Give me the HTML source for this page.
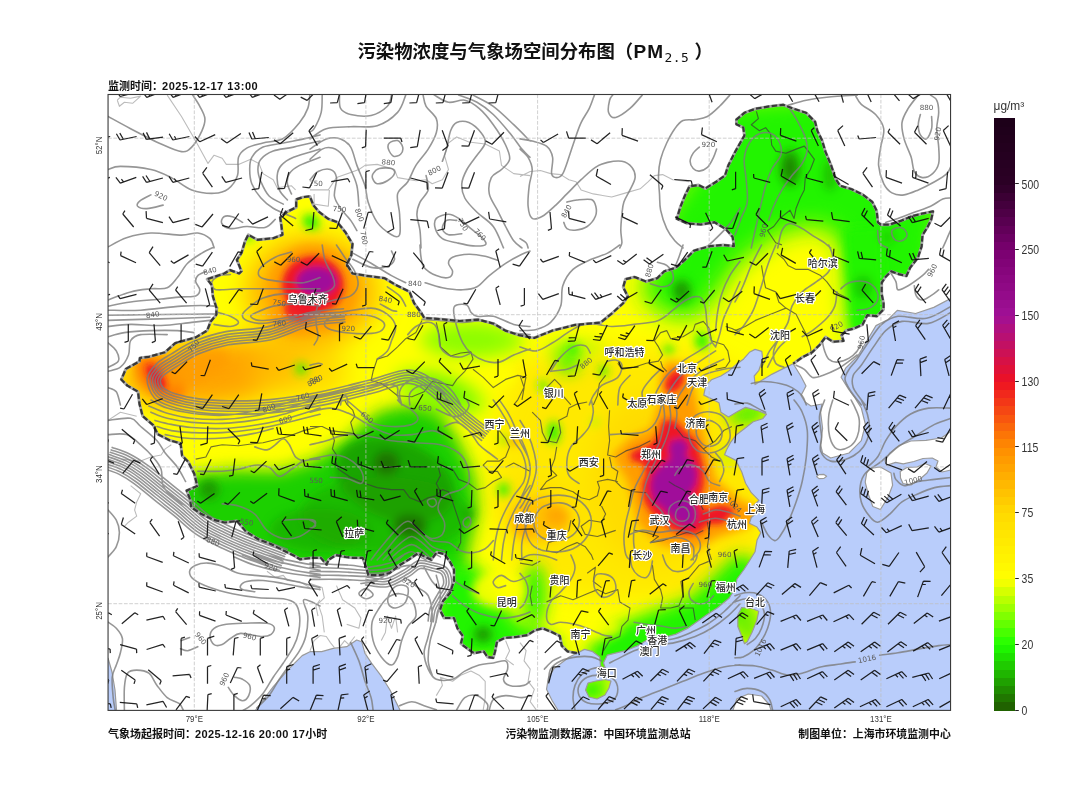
<!DOCTYPE html>
<html lang="zh-CN"><head><meta charset="utf-8"><title>污染物浓度与气象场空间分布图</title>
<style>
html,body{margin:0;padding:0;background:#fff}
body{width:1080px;height:789px;overflow:hidden}
svg{display:block}
.cj{font-family:"Liberation Sans","Noto Sans CJK SC",sans-serif}
.dv{font-family:"DejaVu Sans","Liberation Sans",sans-serif}
.b{font-weight:bold}
.city{font-family:"Liberation Sans","Noto Sans CJK SC",sans-serif;font-size:10px;font-weight:500;fill:#2a2a2a;stroke:#fff;stroke-width:2.4px;paint-order:stroke;stroke-linejoin:round;text-anchor:middle}
.cl{font-family:"DejaVu Sans","Liberation Sans",sans-serif;font-size:7.2px;fill:#5a5a5a;text-anchor:middle}
.tk{font-family:"Liberation Sans",sans-serif;font-size:9.9px;fill:#333}
.cb{font-family:"Liberation Sans",sans-serif;font-size:11.9px;fill:#333}
</style></head><body>
<svg width="1080" height="789" viewBox="0 0 1080 789">
<defs>
<clipPath id="frame"><rect x="108.05" y="94.5" width="842.5" height="615.9"/></clipPath>
<clipPath id="cn"><path d="M139.9,358 L149,356.8 L165,352.3 L175.3,343.1 L195.8,337.4 L207.2,330.6 L210.7,321.5 L216.4,314.6 L216.4,307.8 L212.9,296.4 L211.8,285 L207.2,279.2 L214,277 L224.3,273.5 L230,270.1 L239.2,273.5 L241.5,271.3 L236.9,259.9 L241.5,253 L244.9,241.6 L248.3,234.8 L257.4,239.8 L273.4,238.2 L282.5,234.8 L281.4,225.6 L280.2,217.6 L287.1,211.9 L296.2,207.4 L296.2,199.4 L303.1,197.1 L309.9,196.4 L313.3,205.1 L319,211.9 L328.2,218.8 L337.3,222.2 L345.6,232.5 L352.5,243.9 L351.3,255.3 L346.8,264.4 L352.5,273.5 L366.2,275.8 L384.4,278.1 L395.8,285 L409.5,291.8 L414.1,303.2 L420.9,312.3 L424.3,318 L441.5,319.2 L459.7,321 L478,319.6 L493.9,323.7 L505.3,330.6 L519,335.1 L530.4,337.4 L534.2,337.9 L552.5,330.6 L575.3,324.9 L600.4,322.6 L611.8,313.5 L623.2,303.2 L627.8,296.4 L623.2,287.2 L625.5,279.2 L634.6,277 L646,281.5 L657.4,278.1 L664.3,271.3 L675.7,267.8 L684.8,259.9 L693.9,250.7 L709.9,246.2 L723.6,245 L733.9,246.2 L732.7,237 L725.9,229.1 L714.5,222.2 L700.8,224.5 L687.1,223.4 L676.8,218.8 L680.2,207.4 L684.8,196 L689.4,186.5 L698.5,185 L705.3,188.5 L716.7,181.5 L725,175.6 L728.4,165.3 L735.3,151.6 L744.4,135.6 L743.3,127.6 L736.4,124.2 L736.4,119.7 L744.4,112.8 L755.8,108.7 L769.5,106.4 L783.2,104.8 L792.3,108.3 L806,112.8 L815.1,121.9 L817.4,131.1 L822,140.2 L825.4,151.6 L831.1,165.3 L835.7,179 L840.2,185.8 L851.6,189.2 L863.1,194.9 L872.2,201.8 L876.7,210.9 L877.9,222.3 L880.7,224.7 L889.3,224.7 L900.7,220.9 L912.1,216.1 L923.5,213.3 L933,211.4 L931.1,219.9 L927.3,227.5 L922.5,235.1 L921.6,246.5 L917.8,257.9 L910.2,267.5 L906.4,276 L898.8,274.1 L891.2,271.3 L885.5,277 L881.7,282.7 L881.7,294.1 L883.6,303.6 L883.5,309.5 L876.8,316.2 L867.3,315.2 L862.5,324.7 L854,328.5 L846.4,330.4 L841.6,335.2 L843.5,340.9 L833.1,341.8 L825.5,337.1 L819.8,344.7 L812.2,352.3 L802.7,357 L793.2,363.7 L783.7,368.4 L772.2,374.1 L762.7,379.8 L755.1,384.6 L754.2,376 L758.9,370.3 L762.7,358.9 L761.8,351.3 L755.1,349.4 L749.4,352.3 L743.7,358.9 L736.1,364.6 L728.5,371.3 L720.9,376 L711.4,379.8 L705.7,385.6 L703.8,395.1 L711.4,398.9 L719,402.7 L720.9,412.2 L728.5,416.9 L738,411.2 L745.6,407.4 L757,410.3 L766.5,414.1 L762.7,418.8 L753.2,421.7 L743.7,429.3 L736.1,435 L730.4,442.6 L726.5,450 L724.6,454.7 L736,460.4 L741.7,471.8 L745.6,483.2 L751.3,492.7 L758.9,500.3 L753.2,506 L760.8,509.8 L751.3,517.5 L749.4,523.2 L757,527 L760.8,532.7 L757,540.3 L755.1,551.7 L749.4,561 L744,569.5 L737,579 L735,588.5 L729.3,598 L717.9,607.5 L706.5,615.1 L697,621.8 L687.5,628.4 L676,634.1 L662.7,637.9 L647.5,639.8 L638,645.6 L626.6,650.3 L615.2,653.2 L607.3,655.1 L603.5,662.7 L605.4,668.4 L600.6,666.5 L599.7,657 L592.1,651.3 L584.5,649.4 L576.9,653.2 L567.4,651.3 L561.7,645.6 L559.8,636 L552.2,632.2 L542.7,628.4 L535.1,630.3 L527.5,635.1 L516,637 L504.6,637.9 L497,641.7 L495.1,651.3 L493.2,657.9 L487.5,657 L483.7,651.3 L474.2,653.2 L468.5,649.4 L460.9,643.7 L462.8,636 L457.5,628.4 L454,618 L444,618 L440,610 L443,601 L450,593 L454,581 L454,569.5 L450,561.8 L444.5,554.1 L436.9,552.2 L431.2,559.8 L423.6,556 L417.9,553.2 L408.4,559.8 L398.9,565.6 L389.4,573.2 L379.8,575.1 L368.4,575.1 L365.6,565.6 L362.7,557.9 L353.2,557.9 L345.6,557 L336.1,555.1 L328.5,559.8 L326.6,564.6 L320.9,557.9 L311.4,557.9 L300,559.3 L294.7,556 L282.5,549.9 L270.3,543.8 L258.2,539.2 L246,531.6 L236.9,521 L224.7,522.5 L212.5,519.5 L200.4,513.4 L191.3,507.3 L189.7,498.2 L186.7,490.6 L197.3,486 L194.3,473.8 L188.2,461.7 L182.1,455.6 L180.6,443.4 L170,440.4 L157.8,434.3 L153.2,425.2 L142.6,416 L139.5,403.9 L138,391.7 L127.4,385.6 L121.3,379.5 L125.9,368.9 L139.5,361.3ZM741.6,607.5 L752.1,608.5 L758.7,611.3 L756.8,620.8 L752.1,632.2 L747.3,641.7 L744.5,643.7 L741.6,636 L737.8,626.5 L737.8,615.1ZM588,683 L596,681 L605,679.5 L611,681 L609,688 L605,695 L597,699 L589,697 L585.5,690Z"/></clipPath>
<filter id="b3" x="-50%" y="-50%" width="200%" height="200%"><feGaussianBlur stdDeviation="3"/></filter>
<filter id="b5" x="-50%" y="-50%" width="200%" height="200%"><feGaussianBlur stdDeviation="5"/></filter>
<filter id="b8" x="-50%" y="-50%" width="200%" height="200%"><feGaussianBlur stdDeviation="8"/></filter>
<filter id="b12" x="-50%" y="-50%" width="200%" height="200%"><feGaussianBlur stdDeviation="12"/></filter>
</defs>
<rect width="1080" height="789" fill="#fff"/>

<g clip-path="url(#frame)">
<path d="M557.9,710 L552.2,700.7 L546.5,689.3 L548.4,677.9 L554.1,668.4 L561.7,662.7 L569.3,657 L576.9,653.2 L576.9,653.2 L584.5,649.4 L592.1,651.3 L599.7,657 L600.6,666.5 L605.4,668.4 L603.5,662.7 L607.3,655.1 L615.2,653.2 L626.6,650.3 L638,645.6 L647.5,639.8 L662.7,637.9 L676,634.1 L687.5,628.4 L697,621.8 L706.5,615.1 L717.9,607.5 L729.3,598 L735,588.5 L737,579 L744,569.5 L749.4,561 L755.1,551.7 L757,540.3 L760.8,532.7 L757,527 L749.4,523.2 L751.3,517.5 L760.8,509.8 L753.2,506 L758.9,500.3 L751.3,492.7 L745.6,483.2 L741.7,471.8 L736,460.4 L724.6,454.7 L726.5,450 L730.4,442.6 L736.1,435 L743.7,429.3 L753.2,421.7 L762.7,418.8 L766.5,414.1 L757,410.3 L745.6,407.4 L738,411.2 L728.5,416.9 L720.9,412.2 L719,402.7 L711.4,398.9 L703.8,395.1 L705.7,385.6 L711.4,379.8 L720.9,376 L728.5,371.3 L736.1,364.6 L743.7,358.9 L749.4,352.3 L755.1,349.4 L761.8,351.3 L762.7,358.9 L758.9,370.3 L754.2,376 L755.1,384.6 L762.7,379.8 L772.2,374.1 L783.7,368.4 L793.2,363.7 L800.8,376 L806,386 L801,395.5 L805,402 L811,406 L822,404 L820.6,412.2 L822.6,428.5 L820.6,444.8 L822.6,453 L830.7,458 L849,453 L861.3,440.7 L865.4,424.4 L861.3,408 L855,398 L848.7,389.5 L841.1,377.3 L845.6,368.2 L857.8,356 L866.9,340.8 L876,325.6 L888.2,319.5 L897.3,310.4 L915.6,313.5 L933.8,307.4 L951,298.3 L951,298.3 L951,710Z" fill="#b9cdfb"/>
<path d="M951,431.2 L941.3,438 L926,440.3 L910.9,441 L898.7,445.6 L889.6,453.2 L885,460.9 L886.5,465.4 L895.6,462.4 L903.2,463.9 L913.9,461.5 L923,458.5 L932.2,458 L938,461 L936,467 L942,472 L951,470ZM900.2,471.5 L907,467.5 L917,467 L925,463.5 L931,466 L927,473 L920,479 L911,485 L903,483.5 L900.5,478ZM869.8,468.5 L880.4,467 L891,473 L892.6,485.2 L888,497.4 L880.4,509.5 L872.8,506.5 L868.3,494.3 L865.2,482.2 L866.7,473ZM816.6,476.6 L819,474.6 L824,474.4 L826.6,476.2 L824,478.4 L819,478.6Z" fill="#fff"/>
<path d="M733,710 L736.9,698.8 L748.3,694 L761.6,696 L769.2,704.5 L771,710Z" fill="#fff"/>
<path d="M255.6,710 L273.3,686.7 L288.9,668.9 L302.2,655.6 L310,651.7 L321.7,651.7 L333.3,648.3 L346.7,646.7 L356.7,640 L361.7,641.7 L365,653.3 L371.7,663.3 L381.7,676.7 L390,690 L395,700 L400,710Z" fill="#b9cdfb"/>
<path d="M108,658 L112,672 L115,690 L116.5,710 L108,710Z" fill="#b9cdfb"/>
<g clip-path="url(#cn)">
<rect x="108.05" y="94.5" width="842.5" height="615.9" fill="#ffff00"/>
<g filter="url(#b12)">
<path d="M520,360 600,345 700,350 760,380 770,470 760,560 700,600 600,600 520,580 490,500 495,420Z" fill="#ffd400" opacity="0.5"/>
<ellipse cx="650" cy="480" rx="60" ry="85" fill="#ffd400" opacity="0.6"/>
<ellipse cx="540" cy="515" rx="40" ry="30" fill="#ffd400" opacity="0.6"/>
<ellipse cx="212" cy="373" rx="92" ry="33" fill="#ffa400" transform="rotate(-5 212 373)"/>
<ellipse cx="300" cy="372" rx="50" ry="26" fill="#ffc800" opacity="0.7"/>
<ellipse cx="312" cy="292" rx="66" ry="56" fill="#ffb000" opacity="0.95"/>
</g>
<g filter="url(#b8)">
<path d="M170,478 230,470 280,471 315,460 345,440 378,412 410,404 440,412 458,440 474,475 478,510 470,545 462,580 300,600 180,540Z" fill="#1fd000"/>
<ellipse cx="472" cy="340" rx="52" ry="19" fill="#96ff00" opacity="0.95"/>
<ellipse cx="440" cy="392" rx="48" ry="20" fill="#96ff00" transform="rotate(18 440 392)" opacity="0.9"/>
<ellipse cx="445" cy="390" rx="30" ry="10" fill="#50ee00" transform="rotate(25 445 390)" opacity="0.6"/>
<ellipse cx="470" cy="340" rx="34" ry="12" fill="#70f800" opacity="0.3"/>
</g>
<g filter="url(#b12)">
<path d="M640,285 665,255 660,215 700,160 720,100 850,90 890,180 945,200 935,285 895,300 890,340 852,340 848,300 846,262 838,236 815,226 780,234 740,262 714,298 697,318 672,318 650,305Z" fill="#22f400"/>
</g>
<g filter="url(#b8)">
<path d="M436,560 470,565 500,600 520,625 560,640 560,660 430,660Z" fill="#22f400"/>
<ellipse cx="468" cy="590" rx="20" ry="26" fill="#22f400"/>
<ellipse cx="535" cy="595" rx="12" ry="32" fill="#22f400" opacity="0.9"/>
<path d="M585,652 610,628 650,612 690,598 715,575 735,555 760,560 740,620 690,650 600,675Z" fill="#22f400"/>
<ellipse cx="592" cy="690" rx="16" ry="12" fill="#22f400"/>
<ellipse cx="748" cy="625" rx="14" ry="20" fill="#70f000"/>
<ellipse cx="748" cy="414" rx="20" ry="8" fill="#22f400" transform="rotate(-12 748 414)"/>
<ellipse cx="728" cy="456" rx="8" ry="6" fill="#96ff00"/>
<ellipse cx="568" cy="358" rx="13" ry="16" fill="#22f400" opacity="0.8"/>
<ellipse cx="575" cy="348" rx="30" ry="8" fill="#96ff00" opacity="0.6"/>
</g>
<g filter="url(#b5)">
<path d="M843,228 880,225 890,340 852,340 848,300 845,262Z" fill="#22f400"/>
<ellipse cx="498" cy="590" rx="26" ry="18" fill="#ffff00" opacity="0.9"/>
<ellipse cx="502" cy="376" rx="14" ry="10" fill="#ffff00" opacity="0.8"/>
<ellipse cx="600" cy="628" rx="22" ry="10" fill="#ffff00" opacity="0.7"/>
<ellipse cx="668.7" cy="350" rx="5" ry="5" fill="#22f400"/>
<ellipse cx="702" cy="341" rx="7" ry="9" fill="#22f400"/>
<ellipse cx="573" cy="349" rx="6" ry="6" fill="#22f400" opacity="0.8"/>
<ellipse cx="603.5" cy="371" rx="5" ry="6" fill="#22f400" opacity="0.8"/>
<ellipse cx="543" cy="385.6" rx="5" ry="5" fill="#22f400" opacity="0.8"/>
<ellipse cx="248" cy="235" rx="5" ry="6" fill="#22f400"/>
<ellipse cx="311" cy="222" rx="9" ry="7" fill="#22f400" transform="rotate(35 311 222)"/>
<ellipse cx="301" cy="369" rx="6" ry="6" fill="#22f400" opacity="0.8"/>
<ellipse cx="505" cy="440" rx="4" ry="5" fill="#22f400" opacity="0.7"/>
<ellipse cx="553.6" cy="432.6" rx="6" ry="11" fill="#22f400"/>
<ellipse cx="503.5" cy="489.6" rx="6" ry="7" fill="#22f400" opacity="0.9"/>
<ellipse cx="595" cy="422" rx="4" ry="4" fill="#96ff00" opacity="0.8"/>
<ellipse cx="385" cy="515" rx="85" ry="38" fill="#1cb400" opacity="0.75"/>
<ellipse cx="395" cy="480" rx="62" ry="40" fill="#1c9a00" transform="rotate(20 395 480)" opacity="0.8"/>
<ellipse cx="320" cy="530" rx="50" ry="22" fill="#1c9a00" opacity="0.45"/>
<ellipse cx="386.4" cy="463" rx="13" ry="12" fill="#1a7400"/>
<ellipse cx="409.8" cy="526.3" rx="17" ry="12" fill="#1a7400"/>
<ellipse cx="209" cy="489.6" rx="10" ry="10" fill="#1c9a00"/>
<ellipse cx="469" cy="514" rx="5" ry="5" fill="#1c9a00"/>
<ellipse cx="790" cy="168" rx="10" ry="18" fill="#1c9a00"/>
<ellipse cx="790" cy="168" rx="5" ry="8" fill="#1a7400" opacity="0.7"/>
<ellipse cx="681.7" cy="291" rx="9" ry="11" fill="#1c9a00"/>
<ellipse cx="483" cy="634.4" rx="9" ry="8" fill="#1c9a00"/>
<ellipse cx="830" cy="175" rx="7" ry="16" fill="#1c9a00" opacity="0.55"/>
<ellipse cx="863" cy="287" rx="10" ry="12" fill="#1c9a00" opacity="0.45"/>
<ellipse cx="887" cy="237" rx="8" ry="8" fill="#1c9a00" opacity="0.35"/>
<ellipse cx="160" cy="378" rx="30" ry="17" fill="#ff7a00" transform="rotate(40 160 378)" opacity="0.9"/>
<ellipse cx="195" cy="368" rx="36" ry="15" fill="#ff9c00" transform="rotate(-20 195 368)" opacity="0.8"/>
<ellipse cx="313" cy="289" rx="45" ry="44" fill="#ff9c00"/>
<ellipse cx="298" cy="318" rx="28" ry="18" fill="#ff9c00" opacity="0.9"/>
<ellipse cx="556.7" cy="516" rx="12" ry="10" fill="#ff9c00"/>
<ellipse cx="524" cy="526" rx="10" ry="12" fill="#ff9c00" opacity="0.85"/>
<ellipse cx="513.7" cy="440.7" rx="4" ry="4" fill="#ff7a00"/>
<ellipse cx="540" cy="520" rx="30" ry="22" fill="#ffb000" opacity="0.6"/>
<path d="M668,360 690,366 697,400 706,440 716,480 740,500 764,510 748,527 716,538 692,552 660,544 638,524 628,482 612,456 630,438 652,428 660,400 660,375Z" fill="#ff9c00"/>
</g>
<g filter="url(#b3)">
<ellipse cx="156" cy="377" rx="15" ry="6.5" fill="#ee1428" transform="rotate(55 156 377)"/>
<ellipse cx="313" cy="285" rx="31" ry="29" fill="#ee1428"/>
<ellipse cx="300" cy="309" rx="16" ry="13" fill="#ee1428" opacity="0.9"/>
<ellipse cx="674.5" cy="381.5" rx="8" ry="12" fill="#ee1428" transform="rotate(35 674.5 381.5)"/>
<path d="M662.6,420.4 674.8,420 684,430 696,440 700,453 704,469 704,485 700,498 704,510 722,505 736,510 722,524 708,524 699.3,533 687,535 674.8,531 662.6,523 652.4,514.1 644.3,501.9 642.2,485.6 646.3,471.3 642.2,463.1 632,461.1 630,453 638.2,448.9 650.4,444.8 658.5,434.6Z" fill="#ee1428"/>
<ellipse cx="316.5" cy="281" rx="20" ry="14" fill="#a0109a"/>
<path d="M670.7,440.7 683,438.7 689,446.9 685,455 693.2,463.1 697.2,473.3 695.2,485.6 689,493.7 695.2,505.9 697.2,518.1 691.1,526.3 680.9,524.3 670.7,516.1 662.6,508 654.4,501.9 650.4,487.6 652.4,475.4 660.6,465.2 670.7,459.1 668.7,448.9Z" fill="#a0109a"/>
</g>
</g>
<g fill="none" stroke="#9a9a9a" stroke-width="1.2" stroke-linejoin="round">
<path d="M576.9,653.2 L569.3,657 L561.7,662.7 L554.1,668.4 L548.4,677.9 L546.5,689.3 L552.2,700.7 L557.9,710"/><path d="M793.2,363.7 L800.8,376 L806,386 L801,395.5 L805,402 L811,406 L822,404 L820.6,412.2 L822.6,428.5 L820.6,444.8 L822.6,453 L830.7,458 L849,453 L861.3,440.7 L865.4,424.4 L861.3,408 L855,398 L848.7,389.5 L841.1,377.3 L845.6,368.2 L857.8,356 L866.9,340.8 L876,325.6 L888.2,319.5 L897.3,310.4 L915.6,313.5 L933.8,307.4 L951,298.3"/><path d="M951,431.2 L941.3,438 L926,440.3 L910.9,441 L898.7,445.6 L889.6,453.2 L885,460.9 L886.5,465.4 L895.6,462.4 L903.2,463.9 L913.9,461.5 L923,458.5 L932.2,458 L938,461 L936,467 L942,472 L951,470"/><path d="M900.2,471.5 L907,467.5 L917,467 L925,463.5 L931,466 L927,473 L920,479 L911,485 L903,483.5 L900.5,478ZM869.8,468.5 L880.4,467 L891,473 L892.6,485.2 L888,497.4 L880.4,509.5 L872.8,506.5 L868.3,494.3 L865.2,482.2 L866.7,473ZM816.6,476.6 L819,474.6 L824,474.4 L826.6,476.2 L824,478.4 L819,478.6Z"/><path d="M733,710 L736.9,698.8 L748.3,694 L761.6,696 L769.2,704.5 L771,710"/><path d="M255.6,710 L273.3,686.7 L288.9,668.9 L302.2,655.6 L310,651.7 L321.7,651.7 L333.3,648.3 L346.7,646.7 L356.7,640 L361.7,641.7 L365,653.3 L371.7,663.3 L381.7,676.7 L390,690 L395,700 L400,710"/><path d="M108,658 L112,672 L115,690 L116.5,710"/><path d="M741.6,607.5 L752.1,608.5 L758.7,611.3 L756.8,620.8 L752.1,632.2 L747.3,641.7 L744.5,643.7 L741.6,636 L737.8,626.5 L737.8,615.1Z"/><path d="M588,683 L596,681 L605,679.5 L611,681 L609,688 L605,695 L597,699 L589,697 L585.5,690Z"/>
<path d="M793.2,363.7 L783.7,368.4 L772.2,374.1 L762.7,379.8 L755.1,384.6 L754.2,376 L758.9,370.3 L762.7,358.9 L761.8,351.3 L755.1,349.4 L749.4,352.3 L743.7,358.9 L736.1,364.6 L728.5,371.3 L720.9,376 L711.4,379.8 L705.7,385.6 L703.8,395.1 L711.4,398.9 L719,402.7 L720.9,412.2 L728.5,416.9 L738,411.2 L745.6,407.4 L757,410.3 L766.5,414.1 L762.7,418.8 L753.2,421.7 L743.7,429.3 L736.1,435 L730.4,442.6 L726.5,450 L724.6,454.7 L736,460.4 L741.7,471.8 L745.6,483.2 L751.3,492.7 L758.9,500.3 L753.2,506 L760.8,509.8 L751.3,517.5 L749.4,523.2 L757,527 L760.8,532.7 L757,540.3 L755.1,551.7 L749.4,561 L744,569.5 L737,579 L735,588.5 L729.3,598 L717.9,607.5 L706.5,615.1 L697,621.8 L687.5,628.4 L676,634.1 L662.7,637.9 L647.5,639.8 L638,645.6 L626.6,650.3 L615.2,653.2 L607.3,655.1 L603.5,662.7 L605.4,668.4 L600.6,666.5 L599.7,657 L592.1,651.3 L584.5,649.4 L576.9,653.2"/>
</g>
<path d="M167.2,95.1 L181.5,116.5 L195.7,141 L208,163.4 L214.1,155.2 L222.2,158.3 L226.3,164.4 L238.5,164.4 L250.7,159.3 L258.9,163.4 L263,173.6 L273.2,179.7 L277.2,187.8 L291.5,185.8 L295.6,189.9M117.3,100.2 L120.4,97.2 L130.6,98.2 L140.7,96.1 L132.6,103.3 L124.4,102.3 L119.4,106.3 L117.3,100.2M310,189.9 L328.3,189.9 L336.5,177.6 L358.9,169.5 L365,165.4 L377.2,164.4 L394.5,169.5 L397.6,177.6 L415.9,180.7 L426.1,179.7 L432.2,183.7 L442.4,179.7 L448.5,169.5 L444.4,155.2 L448.5,143 L456.7,136.9 L468.9,142 L485.2,144 L499.4,151.1 L501.5,165.4 L513.7,173.6 L530,175.6M314.1,193.9 L314.1,204.1 L328.3,206.2 L329.4,189.9M520,176.6 L530.2,171.5 L540.4,170.5 L550.6,173.6 L560.7,174.6 L568.9,179.7 L576,181.7 L581.1,189.9 L593.3,193.9 L611.7,197 L625.9,192.9 L640.2,188.8 L648.3,181.7 L654.4,175.6 L662.6,174.6 L672.8,179.7 L689.1,181.7M108.1,420.4 L120.4,412.2 L136.7,416.3M122.4,459.1 L140.7,461.1 L150.9,457 L161.1,455 L165.2,448.9 L171.3,444.8M130.6,485.6 L140.7,493.7 L136.7,501.9 L134.6,510 L136.7,516.1 L128.5,522.2 L124.4,526.3M267,571.3 L275.2,577.4 L283.3,575.4 L287.4,580.5 L299.6,581.5 L309.8,587.6M320,599.8 L315.9,605.9 L318,616.1M436.3,695.6 L442.4,685.4 L440.4,677.2 L452.6,681.3 L460.7,675.2 L470.9,671.1 L479.1,675.2 L485.2,681.3 L485.2,697.6 L483.2,709.8M505.6,640.6 L509.6,650.7 L505.6,658.9 L513.7,665M310,583.5 L322.2,587.6 L324.3,597.8 L318.1,603.9 L322.2,616.1 L324.3,632.4M336.5,585.6 L342.6,599.8 L354.8,608 L360.9,618.1 L358.9,628.3 L346.7,624.3M310,650.7 L314.1,640.6 L320.2,635.5 L326.3,636.5 L330.4,642.6 L334.4,647.7 L338.5,648.7 L344.6,640.6 L348.7,644.6 L354.8,636.5M381.3,640.6 L385.4,632.4 L387.4,616.1 L391.5,628.3 L395.6,616.1 L397.6,632.4M520,642.6 L526.1,650.7 L524.1,660.9 L530.2,669.1 L528.1,681.3 L534.3,689.4 L530.2,701.7 L536.3,709.8" fill="none" stroke="#bcbcbc" stroke-width="1.1" stroke-linejoin="round"/>
<path d="M756.4,111.4 L758.4,118.6 L751.3,124.7 L759.4,130.8 L765.6,127.7 L770.6,133.8 L771.7,145 L775.7,151.1 L785.9,153.2 L796.1,149.1 L804.3,146.1 L808.3,151.1 L814.4,159.3 L810.4,169.5 L805.3,177.6 L804.3,189.9 L800.2,198 L796.1,208.2 L794.1,218.4 L790,210.2 L779.8,218.4 L773.7,226.5 L767.6,230.6 L775.7,242.8 L781.9,244.9M422,320.4 L415.9,332.6 L405.7,338.7 L397.6,346.9 L387.4,356 L377.2,359.1 L373.1,371.3 L371.1,380.5 L381.3,383.5 L387.4,387.6 L397.6,395.7 L411.9,396.8 L424.1,391.7 L432.2,381.5 L442.4,383.5 L452.6,385.6 L456.7,379.4 L464.8,371.3 L473,359.1 L470.9,351.9 L460.7,353 L450.6,356 L440.4,346.9 L439.4,336.7 L436.3,322.4M473,369.3 L483.2,377.4 L493.3,387.6 L505.6,379.4 L517.8,375.4 L525.9,377.4 L523.9,387.6 L517.8,399.8 L513.7,404.9M520,375.4 L524.1,387.6 L522,399.8M546.5,387.6 L554.6,379.4 L560.7,385.6 L562.8,395.7 L570.9,404.9M617.8,363.2 L621.9,369.3 L634.1,367.2 L646.3,363.2 L658.5,361.1 L662.6,355 L658.5,346.9 L654.4,340.7 L660.6,332.6 L666.7,330.6 L670.7,338.7 L683,336.7 L693.2,330.6 L695.2,324.4 L703.3,321.4 L709.4,328.5 L711.5,340.7 L723.7,344.8 L727.8,350.9 L729.8,361.1 L725.7,367.2 L715.6,369.3M725.7,326.5 L731.9,328.5 L740,332.6M605.6,375.4 L599.4,383.5 L597.4,395.7 L593.3,404.9M660.6,361.1 L662.6,367.2 L666.7,371.3M776.8,253.1 L783.9,259.3 L788,265.4 L796.1,269.4 L808.3,269.4 L820.6,275.6 L826.7,281.7 L832.8,289.8 L838.9,293.9 L847,298 L851.1,302M761.5,265.4 L763.5,277.6 L765.6,287.8 L775.7,291.9 L778.8,302 L785.9,308.1 L796.1,314.3 L800.2,322.4 L806.3,334.6 L810.4,346.9 L811.4,355M735,330.6 L745.2,326.5 L755.4,320.4 L765.6,316.3 L775.7,312.2 L785.9,308.1M195.7,459.1 L205.9,457 L211,446.9 L222.2,444.8 L238.5,445.8 L252.8,443.8 L263,442.8 L275.2,439.7 L287.4,436.7 L303.7,430.6 L320,426.5M310,426.5 L322.2,426.5 L330.4,430.6 L346.7,432.6 L353.8,433.6 L350.7,422.4 L354.8,416.3 L352.8,410.2 L346.7,404.1 L344.6,400M331.4,430.6 L334.4,440.7 L332.4,448.9 L336.5,455 L335.5,461.1 L338.5,469.3 L350.7,477.4 L365,483.5 L377.2,487.6 L391.5,489.6 L403.7,489.6 L409.8,497.8 L420,501.9 L428.2,497.8 L436.3,495.7 L442.4,489.6 L448.5,491.7 L452.6,501.9 L456.7,514.1 L460.7,526.3 L460.7,542.6 L456.7,550.7M438.3,467.2 L440.4,475.4 L436.3,483.5 L440.4,491.7M440.4,465.2 L452.6,469.3 L458.7,479.4 L468.9,483.5 L477,489.6 L485.2,487.6 L493.3,481.5 L501.5,477.4 L497.4,471.3 L489.3,471.3 L483.2,465.2 L487.2,461.1 L499.4,461.1 L505.6,457 L509.6,446.9 L505.6,438.7 L499.4,430.6M505.6,467.2 L513.7,463.1 L521.9,467.2 L530,471.3M532.2,412.2 L540.4,420.4 L542.4,432.6 L546.5,440.7 L556.7,442.8 L560.7,432.6 L558.7,420.4 L566.9,416.3 L568.9,408.1 L577,404.1 L587.2,402M609.6,410.2 L608.6,426.5 L609.6,440.7 L607.6,455 L615.7,457 L625.9,450.9 L638.2,446.9 L650.4,440.7M609.6,457 L611.7,467.2 L617.8,471.3 L615.7,481.5 L621.9,487.6 L634.1,491.7 L646.3,492.7M556.7,446.9 L554.6,459.1 L550.6,469.3 L556.7,475.4 L546.5,481.5 L540.4,489.6 L550.6,487.6 L560.7,487.6 L573,491.7 L581.1,497.8 L589.3,499.8 L597.4,495.7 L599.4,487.6 L597.4,481.5 L607.6,479.4 L617.8,481.5M601.5,505.9 L605.6,514.1 L601.5,522.2 L589.3,520.2 L581.1,526.3 L585.2,534.4 L597.4,536.5 L609.6,532.4 L615.7,530.4M570.9,520.2 L568.9,530.4 L560.7,538.5 L548.5,542.6 L546.5,550.7 L556.7,552.8 L566.9,546.7 L577,542.6 L585.2,546.7 L591.3,554.8 L593.3,559.9M634.1,530.4 L646.3,532.4 L658.5,536.5 L650.4,542.6M674.8,426.5 L683,436.7 L695.2,440.7 L703.3,448.9 L711.5,457 L719.6,461.1M703.3,448.9 L715.6,440.7 L723.7,430.6 L731.9,426.5M668.7,481.5 L674.8,485.6 L683,489.6 L691.1,495.7 L699.3,501.9 L703.3,510M650.4,542.6 L662.6,540.6 L674.8,536.5 L687,532.4 L695.2,534.4 L703.3,530.4M707.4,522.2 L709.4,534.4 L707.4,546.7 L711.5,559.9M546.5,601.9 L560.7,595.7 L573,599.8 L587.2,593.7 L597.4,589.6 L605.6,593.7 L617.8,589.6 L619.8,601.9 L630,608 L628,620.2 L621.9,626.3 L619.8,636.5 L609.6,640.6 L603.5,650.7M587.2,573.3 L595.4,567.2 L593.3,581.5 L601.5,587.6M652.4,565.2 L654.4,579.4 L660.6,589.6 L662.6,597.8 L660.6,608 L670.7,608 L678.9,605.9 L683,595.7 L680.9,581.5 L689.1,577.4 L699.3,565.2 L709.4,561.1M678.9,608 L693.2,608 L695.2,620.2M520,563.1 L532.2,565.2 L540.4,561.1M532.2,605.9 L530.2,595.7 L532.2,585.6" fill="none" stroke="#3a3a3a" stroke-opacity="0.7" stroke-width="1.15" stroke-linejoin="round"/>
<path d="M108.1,116.5C111.8,118.5 121.8,124.1 130.6,128.7C139.4,133.3 152.6,140.2 161.1,144C169.6,147.8 176.4,151.1 181.5,151.6C186.6,152.1 188.3,150.6 191.7,147.1C195.1,143.6 199.7,135.6 201.9,130.8C204.1,126.1 205.2,122.7 204.9,118.6C204.6,114.5 201.8,110.2 199.8,106.3C197.8,102.4 193.9,97.0 192.7,95.1M108.1,169.5C110.1,169.0 113.3,166.4 120.4,166.4C127.5,166.4 142.4,167.6 150.9,169.5C159.4,171.4 164.5,174.2 171.3,177.6C178.1,181.0 184.6,187.3 191.7,189.9C198.8,192.5 208.0,193.5 214.1,193.3C220.2,193.1 224.4,191.8 228.3,188.8C232.2,185.9 235.8,180.8 237.5,175.6C239.2,170.3 237.0,161.9 238.5,157.3C240.0,152.7 242.6,150.5 246.7,148.1C250.8,145.7 256.9,144.6 263,143C269.1,141.4 277.2,141.9 283.3,138.5C289.4,135.1 295.5,127.6 299.6,122.6C303.7,117.6 306.1,113.0 307.8,108.4C309.5,103.8 309.5,97.3 309.8,95.1M150.9,194.9C149.0,195.9 141.9,199.2 139.7,201.1C137.5,203.0 136.5,204.9 137.7,206.2C138.9,207.4 142.7,208.8 146.9,208.6C151.1,208.4 160.4,205.7 163.1,205.1M108.1,246.9C111.2,245.4 119.4,240.0 126.5,237.7C133.6,235.4 141.7,233.4 150.9,233C160.1,232.6 173.7,235.1 181.5,235.1C189.3,235.1 193.1,232.4 197.8,233C202.6,233.6 207.3,236.2 210,238.7C212.7,241.2 213.4,246.4 214.1,247.9M275.2,219.4C273.5,220.8 269.8,226.3 265,227.5C260.2,228.7 252.5,226.3 246.7,226.5C240.9,226.7 234.6,229.1 230.4,228.6C226.2,228.1 222.9,225.5 221.8,223.5C220.7,221.5 222.1,217.8 223.9,216.7C225.7,215.6 229.3,215.8 232.4,216.7C235.5,217.6 240.9,221.4 242.6,222.4M320,134.9C317.3,135.6 309.8,137.6 303.7,138.9C297.6,140.2 290.1,141.6 283.3,143C276.5,144.4 268.2,144.7 263,147.1C257.8,149.5 254.0,153.6 251.8,157.3C249.6,161.0 249.7,165.1 249.7,169.5C249.7,173.9 249.9,178.9 251.8,183.7C253.7,188.4 257.3,193.9 260.9,198C264.5,202.1 267.4,204.8 273.2,208.2C279.0,211.6 291.9,216.7 295.6,218.4M320,141C315.6,142.0 301.3,145.4 293.5,147.1C285.7,148.8 278.6,149.1 273.2,151.1C267.8,153.1 263.4,156.2 260.9,159.3C258.3,162.4 257.9,165.8 257.9,169.5C257.9,173.2 259.0,177.3 260.9,181.7C262.8,186.1 265.4,192.3 269.1,196C272.8,199.7 280.9,202.8 283.3,204.1M320,149.1C315.6,150.5 299.9,154.6 293.5,157.3C287.1,160.0 284.0,162.4 281.3,165.4C278.6,168.4 277.5,171.5 277.2,175.6C276.9,179.7 277.6,185.8 279.3,189.9C281.0,194.0 286.0,198.3 287.4,200M320,157.3C316.6,158.7 304.7,162.7 299.6,165.4C294.5,168.1 291.4,170.6 289.4,173.6C287.4,176.6 287.0,180.3 287.4,183.7C287.8,187.1 290.8,192.2 291.5,193.9M322.2,95.1C322.0,98.0 322.5,106.8 321.2,112.4C319.9,118.0 316.0,125.5 314.1,128.7C312.2,131.9 310.7,131.3 310,131.8M339.5,95.1C339.7,97.3 338.7,105.2 340.6,108.4C342.5,111.6 345.6,113.3 350.7,114.5C355.8,115.7 365.0,116.9 371.1,115.5C377.2,114.1 384.0,109.7 387.4,106.3C390.8,102.9 390.8,97.0 391.5,95.1M310,138.9C312.7,137.2 319.5,130.7 326.3,128.7C333.1,126.7 342.2,127.2 350.7,126.7C359.2,126.2 369.4,128.1 377.2,125.7C385.0,123.3 392.9,117.5 397.6,112.4C402.4,107.3 404.4,98.0 405.7,95.1M310,149.1C312.7,147.4 321.2,140.6 326.3,138.9C331.4,137.2 336.5,137.5 340.6,138.9C344.7,140.3 348.0,142.7 350.7,147.1C353.4,151.5 354.5,158.9 356.9,165.4C359.3,171.9 363.1,179.7 365,185.8C366.9,191.9 366.1,196.0 368.1,202.1C370.1,208.2 373.3,217.0 377.2,222.4C381.1,227.8 387.8,232.6 391.5,234.7C395.2,236.8 398.2,238.1 399.6,234.7C401.0,231.3 399.9,221.1 399.6,214.3C399.3,207.5 396.2,199.3 397.6,193.9C399.0,188.5 404.8,186.4 407.8,181.7C410.9,176.9 412.5,170.8 415.9,165.4C419.3,160.0 424.8,154.5 428.2,149.1C431.6,143.7 434.9,137.9 436.3,132.8C437.7,127.7 438.0,123.0 436.3,118.6C434.6,114.2 428.3,110.2 426.1,106.3C423.9,102.4 423.6,97.0 423.1,95.1M310,159.3C312.0,157.6 318.5,151.0 322.2,149.1C325.9,147.2 329.0,147.1 332.4,148.1C335.8,149.1 339.6,151.6 342.6,155.2C345.7,158.8 348.3,164.4 350.7,169.5C353.1,174.6 355.5,179.7 356.9,185.8C358.3,191.9 358.6,202.8 358.9,206.2M310,179.7C311.4,178.3 314.7,173.2 318.1,171.5C321.5,169.8 327.3,168.5 330.4,169.5C333.5,170.5 335.8,173.2 336.5,177.6C337.2,182.0 333.7,190.9 334.4,196C335.1,201.1 337.9,204.1 340.6,208.2C343.3,212.3 348.0,216.7 350.7,220.4C353.4,224.1 355.9,228.9 356.9,230.6M426.1,175.6C426.5,178.0 429.2,185.5 428.2,189.9C427.2,194.3 421.9,198.0 420,202.1C418.1,206.2 416.9,209.6 416.9,214.3C416.9,219.1 419.3,225.0 420,230.6C420.7,236.2 420.8,245.0 421,247.9M434.3,95.1C436.7,96.3 443.4,101.4 448.5,102.3C453.6,103.2 459.7,99.2 464.8,100.2C469.9,101.2 474.4,104.3 479.1,108.4C483.9,112.5 488.9,118.6 493.3,124.7C497.7,130.8 502.9,139.2 505.6,145C508.3,150.8 510.3,155.2 509.6,159.3C508.9,163.4 504.6,166.4 501.5,169.5C498.4,172.6 493.3,173.5 491.3,177.6C489.3,181.7 488.3,188.5 489.3,193.9C490.3,199.3 494.7,204.8 497.4,210.2C500.1,215.6 502.9,221.4 505.6,226.5C508.3,231.6 511.0,237.2 513.7,240.8C516.4,244.4 520.5,246.7 521.9,247.9M458.7,95.1C461.8,96.3 471.2,99.1 477,102.3C482.8,105.5 487.9,109.4 493.3,114.5C498.7,119.6 504.8,127.0 509.6,132.8C514.4,138.6 518.5,145.0 521.9,149.1C525.3,153.2 528.6,155.9 530,157.3M473,95.1C476.4,97.0 486.5,101.4 493.3,106.3C500.1,111.2 507.6,118.9 513.7,124.7C519.8,130.5 527.3,138.3 530,141M442.4,161.3C443.1,159.3 445.1,154.2 446.5,149.1C447.9,144.0 448.9,135.2 450.6,130.8C452.3,126.4 453.6,124.0 456.7,122.6C459.8,121.2 464.8,120.9 468.9,122.6C473.0,124.3 478.4,129.4 481.1,132.8C483.8,136.2 485.9,139.3 485.2,143C484.5,146.7 480.1,150.8 477,155.2C473.9,159.6 469.4,164.8 466.9,169.5C464.4,174.2 462.1,178.9 461.8,183.7C461.5,188.4 462.3,193.2 464.8,198C467.3,202.8 472.2,207.6 477,212.3C481.8,217.1 488.9,220.6 493.3,226.5C497.7,232.4 501.8,244.3 503.5,247.9M456.7,220.4C455.0,220.4 448.9,219.0 446.5,220.4C444.1,221.8 442.1,226.2 442.4,228.6C442.7,231.0 445.3,233.8 448.5,234.7C451.7,235.5 459.6,233.9 461.8,233.7M520,138.9C522.0,139.2 527.8,139.8 532.2,141C536.6,142.2 543.1,143.4 546.5,146.1C549.9,148.8 551.8,152.7 552.6,157.3C553.5,161.9 550.9,170.2 551.6,173.6C552.3,177.0 554.8,177.6 556.7,177.6C558.6,177.6 560.8,177.0 562.8,173.6C564.8,170.2 566.9,163.1 568.9,157.3C570.9,151.5 573.0,144.7 575,138.9C577.0,133.1 578.7,127.7 581.1,122.6C583.5,117.5 587.1,113.0 589.3,108.4C591.5,103.8 593.5,97.3 594.4,95.1M642.2,95.1C640.2,97.3 634.4,104.7 630,108.4C625.6,112.1 619.3,116.8 615.7,117.5C612.1,118.2 609.6,115.3 608.6,112.4C607.6,109.5 608.9,103.1 609.6,100.2C610.3,97.3 612.2,95.9 612.7,95.1M520,149.1C521.4,150.5 526.1,153.9 528.1,157.3C530.1,160.7 532.0,164.8 532.2,169.5C532.4,174.2 529.9,179.7 529.2,185.8C528.5,191.9 527.6,200.8 528.1,206.2C528.6,211.6 529.8,216.7 532.2,218.4C534.6,220.1 538.7,218.3 542.4,216.3C546.1,214.3 550.5,209.9 554.6,206.2C558.7,202.5 562.5,198.3 566.9,193.9C571.3,189.5 576.4,184.1 581.1,179.7C585.9,175.3 591.0,170.3 595.4,167.4C599.8,164.5 603.2,163.4 607.6,162.4C612.0,161.4 617.8,160.5 621.9,161.3C626.0,162.1 629.8,164.7 632,167.4C634.2,170.1 635.4,173.8 635.1,177.6C634.8,181.3 631.9,185.8 630,189.9C628.1,194.0 625.2,198.0 623.9,202.1C622.5,206.2 622.4,209.6 621.9,214.3C621.4,219.1 620.8,225.8 620.8,230.6C620.8,235.3 622.1,239.9 621.9,242.8C621.7,245.7 620.1,247.1 619.8,247.9M566.9,202.1C568.6,201.8 572.9,200.4 577,200C581.1,199.6 588.2,198.6 591.3,199.6C594.4,200.6 595.1,203.4 595.8,206.2C596.5,209.0 596.8,212.9 595.4,216.3C594.0,219.7 590.6,224.2 587.2,226.5C583.8,228.8 578.4,229.8 575,230.2C571.6,230.5 568.8,229.9 566.9,228.6C565.0,227.3 564.3,223.4 563.8,222.4M729.8,95.1C728.1,97.0 723.3,102.7 719.6,106.3C715.9,109.9 711.5,114.3 707.4,116.5C703.3,118.7 699.3,118.9 695.2,119.6C691.1,120.3 686.4,119.1 683,120.6C679.6,122.1 677.5,125.0 674.8,128.7C672.1,132.4 669.1,137.9 666.7,143C664.3,148.1 662.0,153.9 660.6,159.3C659.2,164.7 658.7,169.8 658.5,175.6C658.3,181.4 659.1,188.1 659.5,193.9C659.9,199.7 659.4,204.4 660.6,210.2C661.8,216.0 664.3,223.5 666.7,228.6C669.1,233.7 672.1,237.6 674.8,240.8C677.5,244.0 681.6,246.7 683,247.9M699.3,147.1C698.3,148.1 694.7,150.8 693.2,153.2C691.7,155.6 690.1,158.8 690.1,161.3C690.1,163.9 691.7,166.9 693.2,168.5C694.7,170.1 696.9,171.3 699.3,171.1C701.7,170.9 705.0,169.7 707.4,167.4C709.8,165.1 712.0,160.4 713.5,157.3C715.0,154.2 716.1,150.5 716.6,149.1M520,238.7C521.0,239.4 524.8,241.3 526.1,242.8C527.5,244.3 527.8,247.1 528.1,247.9M740,208.2C739.0,209.9 736.6,214.7 733.9,218.4C731.2,222.1 727.1,226.9 723.7,230.6C720.3,234.3 716.5,237.9 713.5,240.8C710.5,243.7 706.8,246.7 705.4,247.9M855.2,95.1C856.2,96.6 857.9,101.1 861.3,104.3C864.7,107.5 871.9,110.4 875.6,114.5C879.3,118.6 882.9,123.3 883.7,128.7C884.6,134.1 881.6,141.0 880.7,147.1C879.9,153.2 878.1,159.3 878.6,165.4C879.1,171.5 881.5,179.1 883.7,183.7C885.9,188.3 888.5,191.0 891.9,192.9C895.3,194.8 899.7,195.4 904.1,194.9C908.5,194.4 913.2,192.1 918.3,189.9C923.4,187.7 929.8,184.4 934.6,181.7C939.4,179.0 944.1,176.3 946.9,173.6C949.7,170.9 950.6,166.8 951.3,165.4M918.3,95.1C916.6,97.3 910.9,103.8 908.2,108.4C905.5,113.0 902.7,117.5 902,122.6C901.3,127.7 902.6,133.1 904.1,138.9C905.6,144.7 909.5,151.9 911.2,157.3C912.9,162.7 912.4,168.1 914.3,171.5C916.2,174.9 919.3,177.2 922.4,177.6C925.5,177.9 929.9,176.0 932.6,173.6C935.3,171.2 937.7,167.8 938.7,163.4C939.7,159.0 939.0,152.9 938.7,147.1C938.4,141.3 936.7,134.5 936.7,128.7C936.7,122.9 938.7,117.2 938.7,112.4C938.7,107.7 938.1,103.1 936.7,100.2C935.4,97.3 931.6,95.9 930.6,95.1M920.4,114.5C920.0,116.2 918.3,121.3 918.3,124.7C918.3,128.1 919.0,132.5 920.4,134.9C921.8,137.3 924.6,139.9 926.5,138.9C928.4,137.9 930.8,132.4 931.6,128.7C932.5,125.0 931.6,118.5 931.6,116.5M951.3,198C949.9,198.2 946.2,197.6 942.8,199C939.3,200.4 935.4,204.0 930.6,206.2C925.9,208.4 919.7,210.3 914.3,212.3C908.9,214.3 902.8,216.7 898,218.4C893.2,220.1 887.8,221.7 885.7,222.4M951.3,228.6C950.6,230.3 948.3,235.5 946.9,238.7C945.5,241.9 943.5,246.4 942.8,247.9M735,234.7C736.0,232.0 739.1,223.8 741.1,218.4C743.1,213.0 746.4,208.6 747.2,202.1C748.1,195.6 746.7,186.8 746.2,179.7C745.7,172.6 743.7,165.4 744.2,159.3C744.7,153.2 746.8,147.2 749.3,143C751.8,138.8 755.7,135.3 759.4,133.8C763.1,132.3 768.3,132.3 771.7,133.8C775.1,135.3 778.3,139.4 779.8,143C781.3,146.6 782.1,150.8 780.8,155.2C779.4,159.6 774.2,164.4 771.7,169.5C769.2,174.6 767.3,180.4 765.6,185.8C763.9,191.2 762.9,196.3 761.5,202.1C760.1,207.9 758.8,214.3 757.4,220.4C756.0,226.5 754.3,234.1 753.3,238.7C752.3,243.3 751.6,246.4 751.3,247.9M788,106.3C789.4,108.3 793.4,113.8 796.1,118.6C798.8,123.4 802.4,129.8 804.3,134.9C806.2,140.0 807.6,144.3 807.3,149.1C806.9,153.8 804.8,159.0 802.2,163.4C799.7,167.8 795.4,171.2 792,175.6C788.6,180.0 784.9,184.8 781.9,189.9C778.9,195.0 775.9,201.1 773.7,206.2C771.5,211.3 769.5,218.0 768.6,220.4M777.8,247.9C778.5,245.0 779.9,234.7 781.9,230.6C783.9,226.5 786.6,223.8 790,223.5C793.4,223.2 798.1,226.4 802.2,228.6C806.3,230.8 810.7,234.3 814.4,236.7C818.1,239.1 821.9,240.9 824.6,242.8C827.3,244.7 829.7,247.1 830.7,247.9M877.6,230.6C877.9,232.6 877.9,239.9 879.6,242.8C881.3,245.7 886.4,247.1 887.8,247.9M788,105.3C791.0,104.5 799.8,101.5 806.3,100.2C812.8,98.9 818.2,98.1 826.7,97.2C835.2,96.3 852.1,95.4 857.2,95.1M108.1,300C111.8,298.6 123.5,293.8 130.6,291.9C137.7,290.0 144.8,289.5 150.9,288.8C157.0,288.1 162.8,289.7 167.2,287.8C171.6,285.9 174.0,281.7 177.4,277.6C180.8,273.5 183.5,267.4 187.6,263.3C191.7,259.2 197.5,255.8 201.9,253.1C206.3,250.4 212.1,248.0 214.1,247M108.1,306.1C111.8,305.4 121.8,303.2 130.6,302C139.4,300.8 152.6,299.9 161.1,299C169.6,298.1 175.7,297.4 181.5,296.9C187.3,296.4 192.6,297.1 195.7,295.9C198.8,294.7 199.8,292.2 199.8,289.8C199.8,287.4 196.0,284.1 195.7,281.7C195.4,279.3 196.1,277.3 197.8,275.6C199.5,273.9 204.6,272.2 205.9,271.5M108.1,310.2C113.5,310.2 128.5,310.9 140.7,310.2C152.9,309.5 169.3,306.8 181.5,306.1C193.7,305.4 208.2,305.4 214.1,306.1C220.0,306.8 216.6,309.5 217.1,310.2M108.1,315.3C113.5,315.2 128.5,314.9 140.7,314.7C152.9,314.5 168.8,314.4 181.5,314.3C194.2,314.2 211.2,314.0 217.1,313.9M108.1,320.4C113.5,320.2 128.5,319.8 140.7,319.4C152.9,319.0 169.9,318.6 181.5,318.3C193.1,318.0 205.2,317.5 210,317.3M108.1,326.5C111.8,326.1 121.8,324.6 130.6,324.4C139.4,324.2 150.9,325.8 161.1,325.5C171.3,325.2 183.5,323.2 191.7,322.4C199.8,321.5 206.9,320.7 210,320.4M108.1,336.7C110.8,336.0 117.3,333.6 124.4,332.6C131.5,331.6 142.1,330.9 150.9,330.6C159.7,330.3 170.3,330.3 177.4,330.6C184.5,330.9 191.0,332.3 193.7,332.6M108.1,342.8C109.5,344.1 114.6,347.8 116.3,350.9C118.0,353.9 119.7,358.4 118.3,361.1C116.9,363.8 109.8,366.2 108.1,367.2M108.1,371.3C110.1,370.6 117.0,369.9 120.4,367.2C123.8,364.5 126.8,359.4 128.5,355C130.2,350.6 128.6,344.1 130.6,340.7C132.6,337.3 134.6,335.6 140.7,334.6C146.8,333.6 162.8,334.6 167.2,334.6M320,277.6C317.3,278.5 309.8,282.0 303.7,282.7C297.6,283.4 289.4,282.2 283.3,281.7C277.2,281.2 271.1,280.6 267,279.6C262.9,278.6 259.9,277.6 258.9,275.6C257.9,273.6 258.2,270.5 260.9,267.4C263.6,264.3 270.1,259.8 275.2,257.2C280.3,254.6 288.8,252.9 291.5,252.1M320,288.8C315.6,288.8 301.3,288.8 293.5,288.8C285.7,288.8 279.6,288.8 273.2,288.8C266.8,288.8 260.6,288.8 254.8,288.8C249.0,288.8 243.9,288.6 238.5,288.8C233.1,289.0 226.3,289.8 222.2,289.8C218.1,289.8 215.8,290.2 214.1,288.8C212.4,287.4 211.0,283.9 212,281.7C213.0,279.5 217.1,276.8 220.2,275.6C223.3,274.4 228.7,274.7 230.4,274.5M320,295.9C313.9,295.6 292.8,293.5 283.3,293.9C273.8,294.2 268.4,296.0 263,298C257.6,300.0 254.1,303.4 250.7,306.1C247.3,308.8 243.3,311.9 242.6,314.3C241.9,316.7 243.3,318.9 246.7,320.4C250.1,321.9 256.9,323.4 263,323.4C269.1,323.4 273.8,321.6 283.3,320.4C292.8,319.2 313.9,317.0 320,316.3M320,306.1C315.6,305.8 301.3,304.1 293.5,304.1C285.7,304.1 279.3,304.8 273.2,306.1C267.1,307.5 260.6,310.5 256.9,312.2C253.1,313.9 250.4,314.9 250.7,316.3C251.0,317.7 254.8,319.9 258.9,320.4C263.0,320.9 268.4,320.2 275.2,319.4C282.0,318.5 292.1,316.5 299.6,315.3C307.1,314.1 316.6,312.7 320,312.2M217.1,312.2C219.3,312.9 226.8,314.6 230.4,316.3C234.0,318.0 238.5,320.7 238.5,322.4C238.5,324.1 234.5,326.2 230.4,326.5C226.3,326.8 216.8,324.8 214.1,324.4M108.1,387.6C109.5,388.3 114.2,388.8 116.3,391.7C118.3,394.6 119.7,402.7 120.4,404.9M352.8,253.1C355.9,254.8 364.7,259.6 371.1,263.3C377.6,267.1 385.7,272.4 391.5,275.6C397.3,278.8 403.3,281.5 405.7,282.7M425.1,282.7C428.0,283.6 436.1,286.6 442.4,287.8C448.7,289.0 457.0,290.0 462.8,289.8C468.6,289.6 472.6,289.2 477,286.8C481.4,284.4 484.5,279.5 489.3,275.6C494.1,271.7 500.2,266.9 505.6,263.3C511.0,259.7 517.8,256.2 521.9,254.2C526.0,252.2 528.6,251.6 530,251.1M420,245C420.2,247.0 420.3,253.5 421,257.2C421.7,260.9 421.6,264.3 424.1,267.4C426.7,270.5 432.2,273.9 436.3,275.6C440.4,277.3 445.8,278.3 448.5,277.6C451.2,276.9 452.6,273.9 452.6,271.5C452.6,269.1 448.5,265.7 448.5,263.3C448.5,260.9 449.2,258.7 452.6,257.2C456.0,255.7 463.5,254.4 468.9,254.2C474.3,254.0 480.4,255.2 485.2,256.2C489.9,257.2 495.4,259.6 497.4,260.3M352.8,259.3C355.9,260.6 365.3,266.2 371.1,267.4C376.9,268.6 383.5,267.8 387.4,266.4C391.3,265.0 393.8,261.9 394.5,259.3C395.2,256.8 392.0,252.5 391.5,251.1M530,326.5C527.3,326.1 519.8,326.1 513.7,324.4C507.6,322.7 499.4,317.6 493.3,316.3C487.2,315.0 480.7,317.0 477,316.3C473.3,315.6 472.6,314.1 470.9,312.2C469.2,310.3 469.3,306.3 466.9,305.1C464.5,303.9 458.9,304.2 456.7,305.1C454.5,306.0 453.6,306.6 453.6,310.2C453.6,313.8 455.2,321.1 456.7,326.5C458.2,331.9 460.4,338.4 462.8,342.8C465.2,347.2 467.2,349.9 470.9,353C474.6,356.1 480.4,359.6 485.2,361.1C489.9,362.6 494.6,363.1 499.4,362.1C504.1,361.1 508.6,357.2 513.7,355C518.8,352.8 527.3,349.9 530,348.9M422,319.4C425.4,319.6 435.6,320.3 442.4,320.8C449.2,321.3 456.0,322.4 462.8,322.4C469.6,322.4 477.4,320.1 483.2,320.8C489.0,321.5 492.6,324.5 497.4,326.5C502.1,328.5 506.3,331.2 511.7,332.6C517.1,334.0 527.0,334.3 530,334.6M322.2,245C322.7,247.7 323.6,256.2 325.3,261.3C327.0,266.4 330.9,271.5 332.4,275.6C333.9,279.7 335.4,283.0 334.4,285.7C333.4,288.4 329.7,290.7 326.3,291.9C322.9,293.1 316.1,292.7 314.1,292.9M336.5,245C337.9,247.0 341.6,252.8 344.6,257.2C347.7,261.6 352.6,266.8 354.8,271.5C357.0,276.2 358.6,281.6 357.9,285.7C357.2,289.8 354.6,293.5 350.7,295.9C346.8,298.3 339.8,298.3 334.4,300C329.0,301.7 321.2,302.4 318.1,306.1C315.1,309.8 316.1,317.3 316.1,322.4C316.1,327.5 318.4,333.0 318.1,336.7C317.8,340.4 314.8,343.4 314.1,344.8M310,315.3C315.1,314.8 330.4,313.4 340.6,312.2C350.8,311.0 363.3,307.8 371.1,308.1C378.9,308.5 383.3,311.2 387.4,314.3C391.5,317.4 394.9,322.1 395.6,326.5C396.3,330.9 392.9,336.6 391.5,340.7C390.1,344.8 389.8,347.8 387.4,350.9C385.0,354.0 378.9,357.7 377.2,359.1M310,397.8C315.1,396.8 330.4,393.7 340.6,391.7C350.8,389.7 361.9,386.6 371.1,385.6C380.3,384.6 391.2,383.9 395.6,385.6C400.0,387.3 396.6,392.5 397.6,395.7C398.6,398.9 401.0,403.4 401.7,404.9M401.7,404.9C401.4,402.7 398.6,395.6 399.6,391.7C400.6,387.8 403.7,383.9 407.8,381.5C411.9,379.1 418.7,377.4 424.1,377.4C429.5,377.4 435.6,379.1 440.4,381.5C445.1,383.9 449.2,387.8 452.6,391.7C456.0,395.6 459.4,402.7 460.7,404.9M409.8,404.9C409.8,403.0 408.4,396.8 409.8,393.7C411.2,390.6 414.6,388.0 418,386.6C421.4,385.2 426.1,384.8 430.2,385.6C434.3,386.5 439.3,388.5 442.4,391.7C445.4,394.9 447.5,402.7 448.5,404.9M387.4,286.8C389.4,288.3 396.6,292.7 399.6,295.9C402.7,299.1 404.7,304.4 405.7,306.1M380.3,304.1C382.2,305.1 388.8,309.0 391.5,310.2C394.2,311.4 395.8,311.0 396.6,311.2M407.8,334.6C409.1,333.2 412.8,328.5 415.9,326.5C418.9,324.5 423.0,322.8 426.1,322.4C429.2,322.0 432.3,322.7 434.3,324.4C436.3,326.1 437.3,328.9 438.3,332.6C439.3,336.4 438.7,343.2 440.4,346.9C442.1,350.6 445.1,353.3 448.5,355C451.9,356.7 457.0,357.3 460.7,357C464.4,356.7 469.2,353.7 470.9,353M310,365.2C311.4,364.9 316.1,363.4 318.1,363.2C320.1,363.0 321.5,364.0 322.2,364.2M340.6,404.9C340.9,403.4 341.6,397.0 342.6,395.7C343.6,394.4 345.9,395.3 346.7,396.8C347.5,398.3 347.5,403.5 347.7,404.9M520,330.6C522.7,330.4 531.2,330.9 536.3,329.5C541.4,328.1 546.5,326.3 550.6,322.4C554.7,318.5 558.7,312.2 560.7,306.1C562.7,300.0 560.8,291.8 562.8,285.7C564.8,279.6 568.2,273.8 573,269.4C577.8,265.0 585.5,262.0 591.3,259.3C597.1,256.6 602.9,255.5 607.6,253.1C612.4,250.7 617.8,246.3 619.8,245M657.5,262.3C659.0,262.8 664.2,263.5 666.7,265.4C669.2,267.3 671.9,270.6 672.8,273.5C673.6,276.4 673.5,280.5 671.8,282.7C670.1,284.9 666.2,286.6 662.6,286.8C659.0,287.0 652.4,284.2 650.4,283.7M520,346.9C522.7,347.6 530.9,351.6 536.3,350.9C541.7,350.2 546.8,346.2 552.6,342.8C558.4,339.4 565.1,333.8 570.9,330.6C576.7,327.4 580.4,324.1 587.2,323.4C594.0,322.7 603.9,326.3 611.7,326.5C619.5,326.7 626.3,325.4 634.1,324.4C641.9,323.4 652.0,322.8 658.5,320.4C665.0,318.0 668.7,313.3 672.8,310.2C676.9,307.1 679.6,304.2 683,302C686.4,299.8 690.2,297.6 693.2,296.9C696.2,296.2 699.3,296.1 701.3,298C703.3,299.9 704.4,303.4 705.4,308.1C706.4,312.9 706.4,321.1 707.4,326.5C708.4,331.9 710.1,337.3 711.5,340.7C712.9,344.1 714.9,345.9 715.6,346.9M550.6,371.3C552.0,369.3 555.0,363.2 558.7,359.1C562.4,355.0 568.6,349.1 573,346.9C577.4,344.7 582.3,344.8 585.2,345.8C588.1,346.8 589.4,351.8 590.3,353M550.6,371.3C553.3,371.0 562.5,370.3 566.9,369.3C571.3,368.3 575.3,365.9 577,365.2M740,281.7C738.6,284.8 734.6,293.9 731.9,300C729.2,306.1 725.8,312.5 723.7,318.3C721.7,324.1 721.0,329.8 719.6,334.6C718.2,339.4 716.3,344.8 715.6,346.9M740,261.3C738.3,263.7 732.8,270.2 729.8,275.6C726.8,281.0 723.7,287.8 721.7,293.9C719.7,300.0 718.6,306.1 717.6,312.2C716.6,318.3 715.9,327.5 715.6,330.6M711.5,342.8C709.5,344.1 704.0,347.8 699.3,350.9C694.5,353.9 688.4,357.0 683,361.1C677.6,365.2 671.1,370.3 666.7,375.4C662.3,380.5 658.9,386.8 656.5,391.7C654.1,396.6 653.1,402.7 652.4,404.9M715.6,350.9C712.5,352.9 703.0,359.1 697.2,363.2C691.4,367.3 685.6,370.6 680.9,375.4C676.1,380.1 671.8,386.8 668.7,391.7C665.7,396.6 663.6,402.7 662.6,404.9M723.7,359.1C720.3,360.8 709.1,365.6 703.3,369.3C697.5,373.0 693.2,377.1 689.1,381.5C685.0,385.9 681.3,391.8 678.9,395.7C676.5,399.6 675.5,403.4 674.8,404.9M740,367.2C737.3,367.6 729.8,367.9 723.7,369.3C717.6,370.7 708.4,372.3 703.3,375.4C698.2,378.4 695.9,382.7 693.2,387.6C690.5,392.5 688.0,402.0 687,404.9M607.6,361.1C609.0,360.9 613.3,359.4 615.7,360.1C618.1,360.8 621.5,362.3 621.9,365.2C622.2,368.1 621.2,374.0 617.8,377.4C614.4,380.8 605.6,382.6 601.5,385.6C597.4,388.7 595.3,392.5 593.3,395.7C591.3,398.9 590.0,403.4 589.3,404.9M644.3,404.9C643.9,402.7 641.2,395.9 642.2,391.7C643.2,387.4 647.3,383.1 650.4,379.4C653.5,375.7 658.9,371.0 660.6,369.3M617.8,404.9C618.1,402.0 617.8,392.5 619.8,387.6C621.8,382.7 628.3,377.4 630,375.4M683,245C682.3,247.0 680.3,253.5 678.9,257.2C677.5,260.9 675.5,265.7 674.8,267.4M761.5,245C759.8,248.4 754.4,258.6 751.3,265.4C748.2,272.2 745.8,279.6 743.1,285.7C740.4,291.8 736.4,299.3 735,302M775.7,245C774.4,248.4 770.0,258.6 767.6,265.4C765.2,272.2 763.9,278.2 761.5,285.7C759.1,293.2 756.4,303.4 753.3,310.2C750.2,317.0 746.1,322.4 743.1,326.5C740.1,330.6 736.4,333.2 735,334.6M828.7,245C829.4,247.0 832.8,252.8 832.8,257.2C832.8,261.6 831.4,267.4 828.7,271.5C826.0,275.6 820.9,278.3 816.5,281.7C812.1,285.1 806.3,287.8 802.2,291.9C798.1,296.0 794.4,301.0 792,306.1C789.6,311.2 790.0,317.3 788,322.4C786.0,327.5 782.2,331.9 779.8,336.7C777.4,341.4 774.4,346.5 773.7,350.9C773.0,355.3 774.0,360.5 775.7,363.2C777.4,365.9 782.5,366.5 783.9,367.2M836.9,291.9C836.5,294.3 836.5,301.7 834.8,306.1C833.1,310.5 830.4,314.2 826.7,318.3C823.0,322.4 816.5,327.5 812.4,330.6C808.3,333.7 803.9,335.7 802.2,336.7M840.9,288.8C842.3,287.8 845.0,283.9 849.1,282.7C853.2,281.5 861.0,280.7 865.4,281.7C869.8,282.7 873.6,285.8 875.6,288.8C877.6,291.9 878.6,296.8 877.6,300C876.6,303.2 872.8,306.4 869.4,308.1C866.0,309.8 859.2,309.9 857.2,310.2M822.6,342.8C822.9,344.1 823.6,348.2 824.6,350.9C825.6,353.6 826.7,357.2 828.7,359.1C830.8,361.0 833.5,362.3 836.9,362.1C840.3,361.9 845.7,360.0 849.1,358.1C852.5,356.2 855.2,353.4 857.2,350.9C859.2,348.3 860.6,344.1 861.3,342.8M889.8,271.5C890.8,273.2 894.5,278.6 895.9,281.7C897.3,284.8 896.0,289.1 898,289.8C900.0,290.5 904.1,288.1 908.2,285.7C912.3,283.3 919.0,278.3 922.4,275.6C925.8,272.9 927.5,270.4 928.5,269.4M914.3,285.7C914.6,287.4 914.9,293.5 916.3,295.9C917.6,298.3 920.0,300.0 922.4,300C924.8,300.0 927.9,297.6 930.6,295.9C933.3,294.2 937.4,290.8 938.7,289.8M951.3,306.1C947.2,308.1 935.4,316.6 926.5,318.3C917.6,320.0 905.5,315.3 898,316.3C890.5,317.3 886.5,320.3 881.7,324.4C876.9,328.5 873.5,334.9 869.4,340.7C865.3,346.5 860.6,354.3 857.2,359.1C853.8,363.9 851.1,365.9 849.1,369.3C847.1,372.7 844.7,375.7 845,379.4C845.3,383.1 848.4,387.4 851.1,391.7C853.8,395.9 859.6,402.7 861.3,404.9M951.3,312.2C947.5,314.1 936.7,321.9 928.5,323.4C920.3,324.9 909.1,320.2 902,321.4C894.9,322.6 890.5,326.4 885.7,330.6C881.0,334.9 877.6,341.1 873.5,346.9C869.4,352.7 864.7,360.4 861.3,365.2C857.9,369.9 854.6,371.7 853.2,375.4C851.9,379.1 851.9,383.5 853.2,387.6C854.6,391.7 859.3,396.9 861.3,399.8C863.3,402.7 864.7,404.0 865.4,404.9M796.1,365.2C797.5,365.9 801.6,367.3 804.3,369.3C807.0,371.3 809.3,376.4 812.4,377.4C815.5,378.4 818.5,376.8 822.6,375.4C826.7,374.0 832.5,371.7 836.9,369.3C841.3,366.9 845.7,363.5 849.1,361.1C852.5,358.7 855.9,356.0 857.2,355M761.5,367.2C762.2,365.9 764.2,361.8 765.6,359.1C767.0,356.4 767.9,353.6 769.6,350.9C771.3,348.2 774.0,345.2 775.7,342.8C777.4,340.4 779.1,337.7 779.8,336.7M767.6,367.2C768.3,365.9 770.0,362.2 771.7,359.1C773.4,356.1 775.4,352.0 777.8,348.9C780.2,345.8 784.5,342.1 785.9,340.7M751.3,383.5C753.3,383.2 758.8,381.5 763.5,381.5C768.2,381.5 775.0,382.5 779.8,383.5C784.5,384.5 788.3,385.6 792,387.6C795.7,389.6 799.8,392.8 802.2,395.7C804.6,398.6 805.6,403.4 806.3,404.9M112.2,447.4C115.1,448.5 123.6,451.1 129.5,454C135.4,456.9 141.0,460.5 147.4,465.1C153.8,469.7 161.3,476.2 168.2,481.7C175.1,487.2 182.0,492.6 188.7,498.1C195.4,503.6 202.0,510.4 208.4,514.9C214.8,519.4 220.9,522.1 227.3,525.3C233.7,528.5 240.4,531.4 247,534.1C253.6,536.8 260.3,539.2 267,541.7C273.7,544.2 283.9,548.0 287.3,549.2M111.2,449.9C114.1,451.0 122.6,453.4 128.4,456.3C134.2,459.2 139.5,462.7 145.9,467.3C152.3,471.9 159.7,478.3 166.6,483.8C173.5,489.3 180.4,494.6 187.1,500.2C193.8,505.8 200.4,512.5 206.9,517.1C213.4,521.7 219.6,524.4 226.1,527.6C232.6,530.8 239.3,533.7 246,536.5C252.7,539.3 259.3,541.7 266,544.2C272.7,546.7 283.0,550.5 286.4,551.7M110.3,452.3C113.1,453.4 121.5,455.9 127.2,458.7C132.9,461.5 138.0,464.9 144.3,469.4C150.6,473.9 158.1,480.4 164.9,485.9C171.8,491.4 178.7,496.6 185.4,502.2C192.2,507.8 198.8,514.7 205.4,519.3C212.0,523.9 218.4,526.7 225,530C231.6,533.3 238.2,536.2 244.9,539C251.6,541.8 258.3,544.2 265.1,546.7C271.9,549.2 282.1,553.0 285.5,554.2M109.4,454.6C112.2,455.7 120.5,458.1 126.1,460.9C131.7,463.7 136.7,466.9 142.9,471.4C149.1,475.9 156.6,482.4 163.4,487.8C170.2,493.2 177.0,498.5 183.8,504.1C190.6,509.7 197.3,516.6 204,521.3C210.7,526.0 217.2,528.9 223.9,532.2C230.6,535.5 237.3,538.4 244,541.2C250.7,544.0 257.5,546.4 264.3,548.9C271.1,551.4 281.2,555.2 284.6,556.5M108.6,456.9C111.3,457.9 119.5,460.4 125,463.1C130.5,465.9 135.3,469.0 141.5,473.4C147.7,477.8 155.1,484.3 161.9,489.7C168.7,495.1 175.5,500.4 182.3,506C189.1,511.6 195.8,518.6 202.6,523.3C209.3,528.0 216.1,531.0 222.8,534.4C229.6,537.8 236.3,540.7 243.1,543.5C249.9,546.3 256.6,548.7 263.4,551.2C270.2,553.8 280.4,557.5 283.8,558.8M107.7,459.2C110.4,460.2 118.5,462.6 123.9,465.3C129.3,468.0 133.9,470.9 140,475.3C146.1,479.7 153.5,486.2 160.3,491.6C167.1,497.0 173.9,502.3 180.7,507.9C187.5,513.5 194.4,520.5 201.2,525.3C208.0,530.1 214.9,533.2 221.7,536.6C228.5,540.0 235.3,543.0 242.1,545.8C248.9,548.6 255.7,551.0 262.5,553.5C269.3,556.0 279.5,559.8 282.9,561.1M106.9,461.5C109.6,462.5 117.5,464.8 122.8,467.4C128.1,470.0 132.6,472.9 138.6,477.3C144.6,481.7 152.1,488.1 158.8,493.5C165.6,498.9 172.3,504.2 179.1,509.8C185.9,515.4 192.9,522.5 199.8,527.3C206.7,532.1 213.7,535.2 220.6,538.7C227.5,542.2 234.3,545.1 241.2,548C248.0,550.9 254.9,553.2 261.7,555.8C268.5,558.3 278.7,562.0 282.1,563.3M106,463.8C108.6,464.8 116.5,467.0 121.7,469.6C126.9,472.2 131.3,475.0 137.2,479.3C143.1,483.6 150.6,490.0 157.3,495.4C164.0,500.8 170.8,506.1 177.6,511.7C184.4,517.4 191.3,524.4 198.3,529.3C205.3,534.2 212.5,537.4 219.5,540.9C226.5,544.4 233.4,547.4 240.3,550.3C247.2,553.2 254.0,555.5 260.8,558.1C267.6,560.7 277.8,564.4 281.2,565.6M105.1,466.3C107.7,467.2 115.4,469.5 120.5,472C125.6,474.5 129.8,477.2 135.6,481.5C141.4,485.8 148.9,492.1 155.6,497.5C162.3,502.9 169.0,508.1 175.9,513.7C182.8,519.4 189.7,526.5 196.8,531.4C203.9,536.3 211.2,539.8 218.3,543.3C225.4,546.8 232.3,549.8 239.2,552.7C246.1,555.6 253.0,558.0 259.9,560.6C266.8,563.2 276.9,566.9 280.3,568.1M104.1,468.7C106.6,469.6 114.3,471.9 119.3,474.4C124.3,476.9 128.3,479.4 134.1,483.6C139.9,487.8 147.3,494.2 154,499.6C160.7,505.0 167.3,510.0 174.2,515.7C181.1,521.4 188.2,528.6 195.3,533.6C202.5,538.6 209.9,542.1 217.1,545.7C224.2,549.3 231.2,552.3 238.2,555.2C245.2,558.1 252.1,560.5 259,563.1C265.9,565.7 276.0,569.4 279.4,570.6M150.9,400C153.6,401.4 160.4,405.9 167.2,408.1C174.0,410.3 182.5,412.0 191.7,413.2C200.9,414.4 212.0,415.6 222.2,415.3C232.4,415.0 242.6,413.1 252.8,411.2C263.0,409.3 276.2,406.0 283.3,404.1C290.4,402.2 293.6,400.7 295.6,400M148.9,406.1C151.9,407.3 160.1,411.2 167.2,413.2C174.3,415.2 182.5,417.3 191.7,418.3C200.9,419.3 212.0,419.7 222.2,419.4C232.4,419.1 242.6,418.0 252.8,416.3C263.0,414.6 273.5,411.9 283.3,409.2C293.1,406.5 307.1,401.5 311.9,400M150.9,412.2C153.6,413.2 160.4,416.6 167.2,418.3C174.0,420.0 182.5,421.5 191.7,422.4C200.9,423.2 212.0,423.7 222.2,423.4C232.4,423.1 242.6,421.9 252.8,420.4C263.0,418.9 272.1,417.4 283.3,414.3C294.5,411.2 313.9,404.1 320,402M155,420.4C157.7,421.1 165.2,423.2 171.3,424.4C177.4,425.6 183.2,426.8 191.7,427.5C200.2,428.2 212.0,428.8 222.2,428.5C232.4,428.2 242.6,427.0 252.8,425.5C263.0,424.0 272.1,422.3 283.3,419.4C294.5,416.5 313.9,410.0 320,408.1M157,426.5C159.4,427.2 165.5,429.6 171.3,430.6C177.1,431.6 183.2,432.3 191.7,432.6C200.2,432.9 212.0,433.1 222.2,432.6C232.4,432.1 242.6,431.0 252.8,429.5C263.0,428.0 272.1,425.9 283.3,423.4C294.5,420.9 313.9,415.8 320,414.3M165.2,434.6C167.9,435.1 175.4,437.0 181.5,437.7C187.6,438.4 194.4,438.7 201.9,438.7C209.4,438.7 217.8,438.5 226.3,437.7C234.8,436.9 245.0,435.1 252.8,433.6C260.6,432.1 269.8,429.4 273.2,428.5M108.1,420.4C111.8,420.0 125.2,417.3 130.6,418.3C136.0,419.3 136.3,422.8 140.7,426.5C145.1,430.2 152.9,436.3 157,440.7C161.1,445.1 161.8,448.6 165.2,453C168.6,457.4 174.0,462.4 177.4,467.2C180.8,471.9 184.2,479.1 185.6,481.5M108.1,434.6C111.2,434.6 121.1,432.9 126.5,434.6C131.9,436.3 136.3,441.1 140.7,444.8C145.1,448.5 149.6,452.9 153,457C156.4,461.1 159.4,464.5 161.1,469.3C162.8,474.1 161.1,480.9 163.1,485.6C165.1,490.4 169.6,494.4 173.3,497.8C177.1,501.2 183.6,504.5 185.6,505.9M222.2,503.9C224.9,504.2 233.1,504.2 238.5,505.9C243.9,507.6 250.1,510.0 254.8,514.1C259.6,518.2 262.2,526.3 267,530.4C271.8,534.5 277.9,537.5 283.3,538.5C288.7,539.5 294.5,538.5 299.6,536.5C304.7,534.5 311.5,529.0 313.9,526.3C316.3,523.6 316.3,521.4 313.9,520.2C311.5,519.0 304.7,519.2 299.6,519.2C294.5,519.2 286.0,520.0 283.3,520.2M320,459.1C317.3,459.4 308.4,459.4 303.7,461.1C298.9,462.8 295.6,466.8 291.5,469.3C287.4,471.9 283.0,476.8 279.3,476.4C275.6,476.0 273.2,469.1 269.1,467.2C265.0,465.3 259.9,464.8 254.8,465.2C249.7,465.6 243.9,468.3 238.5,469.3C233.1,470.3 229.0,471.0 222.2,471.3C215.4,471.6 201.9,471.3 197.8,471.3M254.8,446.9C256.8,447.4 263.6,450.2 267,449.9C270.4,449.5 272.5,446.7 275.2,444.8C277.9,442.9 280.9,438.7 283.3,438.7C285.7,438.7 287.3,441.8 289.4,444.8C291.4,447.9 293.2,454.3 295.6,457C298.0,459.7 302.4,460.4 303.7,461.1M108.1,510C109.5,511.7 114.4,516.5 116.3,520.2C118.2,523.9 119.4,528.0 119.4,532.4C119.4,536.8 118.2,542.6 116.3,546.7C114.4,550.8 109.5,555.2 108.1,556.9M346.7,400C349.1,402.0 356.8,408.5 360.9,412.2C365.0,415.9 366.0,420.0 371.1,422.4C376.2,424.8 384.7,426.2 391.5,426.5C398.3,426.8 407.5,425.8 411.9,424.4C416.3,423.0 418.0,420.7 418,418.3C418.0,415.9 414.6,412.6 411.9,410.2C409.2,407.8 404.1,405.8 401.7,404.1C399.3,402.4 398.3,400.7 397.6,400M436.3,409.2C439.0,410.4 448.2,415.4 452.6,416.3C457.0,417.2 460.1,416.0 462.8,414.3C465.5,412.6 468.2,408.5 468.9,406.1C469.6,403.7 467.2,401.0 466.9,400M310,412.2C313.4,411.5 323.6,407.8 330.4,408.1C337.2,408.5 343.9,411.2 350.7,414.3C357.5,417.4 364.3,423.1 371.1,426.5C377.9,429.9 384.7,433.2 391.5,434.6C398.3,436.0 405.1,435.3 411.9,434.6C418.7,433.9 427.1,430.6 432.2,430.6C437.3,430.6 440.7,433.9 442.4,434.6M310,444.8C312.7,444.1 320.2,442.4 326.3,440.7C332.4,439.0 339.2,435.3 346.7,434.6C354.2,433.9 363.6,435.7 371.1,436.7C378.6,437.7 384.0,439.7 391.5,440.7C399.0,441.7 407.8,442.1 415.9,442.8C424.0,443.5 433.3,443.1 440.4,444.8C447.5,446.5 454.3,449.6 458.7,453C463.1,456.4 465.2,460.4 466.9,465.2C468.6,469.9 469.9,477.4 468.9,481.5C467.9,485.6 464.1,487.6 460.7,489.6C457.3,491.6 451.9,492.0 448.5,493.7C445.1,495.4 442.1,497.1 440.4,499.8C438.7,502.5 437.6,506.3 438.3,510C439.0,513.7 443.7,518.1 444.4,522.2C445.1,526.3 444.4,531.7 442.4,534.4C440.4,537.1 435.2,538.5 432.2,538.5C429.1,538.5 425.5,535.1 424.1,534.4M330.4,477.4C333.1,477.6 341.6,477.4 346.7,478.4C351.8,479.4 358.2,484.0 360.9,483.5C363.6,483.0 363.7,478.4 363,475.4C362.3,472.3 360.0,468.3 356.9,465.2C353.8,462.1 348.7,458.7 344.6,457C340.5,455.3 338.2,454.6 332.4,455C326.6,455.4 313.7,458.4 310,459.1M371.1,559.9C372.8,557.7 377.2,551.6 381.3,546.7C385.4,541.8 391.2,534.6 395.6,530.4C400.0,526.1 403.7,521.2 407.8,521.2C411.9,521.2 415.9,527.2 420,530.4C424.1,533.6 427.4,538.6 432.2,540.6C436.9,542.6 443.8,540.9 448.5,542.6C453.2,544.3 456.6,549.0 460.7,550.7C464.8,552.4 468.9,553.1 473,552.8C477.1,552.5 481.8,550.7 485.2,548.7C488.6,546.7 491.9,542.0 493.3,540.6M377.2,559.9C378.9,558.0 383.7,553.0 387.4,548.7C391.1,544.5 395.9,537.8 399.6,534.4C403.3,531.0 406.1,527.9 409.8,528.3C413.5,528.6 418.3,533.4 422,536.5C425.7,539.6 428.5,544.3 432.2,546.7C435.9,549.1 442.4,550.0 444.4,550.7M383.3,559.9C385.0,558.2 390.1,552.9 393.5,549.7C396.9,546.5 400.6,542.8 403.7,540.6C406.8,538.4 408.8,536.2 411.9,536.5C414.9,536.8 418.6,540.1 422,542.6C425.4,545.1 429.1,549.4 432.2,551.8C435.3,554.2 439.0,556.0 440.4,556.9M389.4,559.9C391.1,558.4 395.9,553.2 399.6,550.7C403.4,548.2 407.8,544.4 411.9,544.6C416.0,544.8 420.7,549.2 424.1,551.8C427.5,554.3 430.9,558.5 432.2,559.9M395.6,559.9C397.0,559.0 401.0,556.1 403.7,554.8C406.4,553.4 408.8,551.3 411.9,551.8C414.9,552.3 419.6,556.5 422,557.9C424.4,559.2 425.4,559.6 426.1,559.9M493.3,400C494.7,402.0 498.8,407.8 501.5,412.2C504.2,416.6 507.6,421.8 509.6,426.5C511.6,431.2 511.7,436.3 513.7,440.7C515.8,445.1 519.9,448.6 521.9,453C523.9,457.4 525.6,462.4 525.9,467.2C526.2,471.9 525.9,476.8 523.9,481.5C521.9,486.2 516.8,490.9 513.7,495.7C510.7,500.4 508.0,505.2 505.6,510C503.2,514.8 501.1,519.2 499.4,524.3C497.7,529.4 496.4,534.7 495.4,540.6C494.4,546.5 493.6,556.7 493.3,559.9M499.4,400C500.8,402.0 505.2,408.1 507.6,412.2C510.0,416.3 511.7,419.6 513.7,424.4C515.7,429.1 517.4,435.3 519.8,440.7C522.2,446.1 526.3,452.6 528,457C529.7,461.4 529.7,465.5 530,467.2M530,485.6C528.6,487.6 524.6,493.4 521.9,497.8C519.2,502.2 516.1,507.2 513.7,512C511.3,516.8 509.3,521.2 507.6,526.3C505.9,531.4 504.5,537.0 503.5,542.6C502.5,548.2 501.8,557.0 501.5,559.9M530,497.8C529.0,499.8 525.9,505.6 523.9,510C521.9,514.4 519.5,518.9 517.8,524.3C516.1,529.7 514.7,536.7 513.7,542.6C512.7,548.5 512.0,557.0 511.7,559.9M530,512C529.3,514.4 527.2,521.2 525.9,526.3C524.5,531.4 522.6,537.0 521.9,542.6C521.2,548.2 521.9,557.0 521.9,559.9M444.4,426.5C446.4,425.8 452.6,421.7 456.7,422.4C460.8,423.1 465.2,426.9 468.9,430.6C472.6,434.3 475.7,441.1 479.1,444.8C482.5,448.5 486.2,450.6 489.3,453C492.4,455.4 496.0,458.1 497.4,459.1M310,520.2C310.7,520.5 313.2,521.2 314.1,522.2C315.0,523.2 315.8,525.3 315.1,526.3C314.4,527.3 310.9,528.0 310,528.3M520,436.7C521.0,439.1 524.4,445.8 526.1,450.9C527.8,456.0 529.9,462.1 530.2,467.2C530.5,472.3 529.5,476.8 528.1,481.5C526.7,486.2 523.4,492.3 522,495.7C520.6,499.1 520.3,500.9 520,501.9M520,420.4C521.4,422.8 525.7,429.2 528.1,434.6C530.5,440.0 532.9,447.2 534.3,453C535.7,458.8 536.6,463.9 536.3,469.3C535.9,474.7 534.2,480.2 532.2,485.6C530.2,491.0 526.1,498.2 524.1,501.9C522.1,505.6 520.7,507.0 520,508M591.3,400C591.6,402.0 593.6,407.8 593.3,412.2C593.0,416.6 591.3,422.4 589.3,426.5C587.3,430.6 584.2,433.3 581.1,436.7C578.0,440.1 573.3,442.8 570.9,446.9C568.5,451.0 567.2,456.4 566.9,461.1C566.6,465.9 566.9,471.7 568.9,475.4C570.9,479.1 577.4,482.1 579.1,483.5M609.6,434.6C612.3,434.4 620.5,433.9 625.9,433.6C631.3,433.3 637.8,433.8 642.2,432.6C646.6,431.4 649.7,429.2 652.4,426.5C655.1,423.8 656.8,420.7 658.5,416.3C660.2,411.9 661.9,402.7 662.6,400M662.6,400C662.9,402.7 664.6,411.2 664.6,416.3C664.6,421.4 663.6,425.9 662.6,430.6C661.6,435.4 660.5,440.1 658.5,444.8C656.5,449.6 653.1,454.4 650.4,459.1C647.7,463.9 644.9,468.2 642.2,473.3C639.5,478.4 636.1,484.2 634.1,489.6C632.1,495.0 631.4,500.5 630,505.9C628.6,511.3 626.9,516.8 625.9,522.2C624.9,527.6 623.9,533.1 623.9,538.5C623.9,543.9 624.9,551.2 625.9,554.8C626.9,558.4 629.3,559.0 630,559.9M668.7,400C669.0,402.7 670.7,411.2 670.7,416.3C670.7,421.4 670.1,425.5 668.7,430.6C667.4,435.7 665.0,441.5 662.6,446.9C660.2,452.3 657.1,457.3 654.4,463.1C651.7,468.9 648.3,475.7 646.3,481.5C644.3,487.3 643.6,492.4 642.2,497.8C640.9,503.2 639.6,508.7 638.2,514.1C636.9,519.5 634.8,525.0 634.1,530.4C633.4,535.8 633.4,541.8 634.1,546.7C634.8,551.6 637.5,557.7 638.2,559.9M674.8,400C675.1,402.4 676.9,409.6 676.9,414.3C676.9,419.1 675.1,426.1 674.8,428.5M674.8,475.4C675.8,474.0 677.8,468.9 680.9,467.2C684.0,465.5 689.5,464.5 693.2,465.2C696.9,465.9 700.6,468.6 703.3,471.3C706.0,474.0 706.7,479.1 709.4,481.5C712.1,483.9 717.9,484.9 719.6,485.6M646.3,493.7C647.3,495.1 650.0,499.2 652.4,501.9C654.8,504.6 658.2,506.9 660.6,510C663.0,513.0 665.0,516.8 666.7,520.2C668.4,523.6 670.0,528.7 670.7,530.4M630,534.4C632.0,533.7 637.5,530.7 642.2,530.4C647.0,530.1 653.1,532.4 658.5,532.4C663.9,532.4 669.4,530.4 674.8,530.4C680.2,530.4 687.0,530.7 691.1,532.4C695.2,534.1 697.9,537.5 699.3,540.6C700.7,543.7 700.7,547.5 699.3,550.7C697.9,553.9 692.5,558.4 691.1,559.9M650.4,542.6C653.1,541.9 661.3,539.2 666.7,538.5C672.1,537.8 678.6,537.1 683,538.5C687.4,539.9 691.5,543.1 693.2,546.7C694.9,550.3 693.2,557.7 693.2,559.9M703.3,514.1C705.3,513.4 711.5,510.4 715.6,510C719.7,509.6 723.7,511.0 727.8,512C731.9,513.0 738.0,515.4 740,516.1M699.3,522.2C702.0,521.5 710.2,518.2 715.6,518.2C721.0,518.2 727.8,521.2 731.9,522.2C736.0,523.2 738.6,523.9 740,524.3M520,559.9C521.7,559.0 526.1,555.5 530.2,554.8C534.3,554.1 540.0,554.9 544.4,555.8C548.8,556.6 554.7,559.2 556.7,559.9M715.6,453C716.6,454.4 720.4,458.1 721.7,461.1C723.1,464.2 724.1,467.9 723.7,471.3C723.4,474.7 720.3,479.8 719.6,481.5M794.1,400C795.5,402.0 800.0,407.1 802.2,412.2C804.4,417.3 806.6,423.1 807.3,430.6C808.0,438.1 807.1,448.5 806.3,457C805.4,465.5 803.9,474.0 802.2,481.5C800.5,489.0 798.5,495.1 796.1,501.9C793.7,508.7 790.7,516.4 788,522.2C785.3,528.0 782.0,533.4 779.8,536.5C777.6,539.6 776.7,541.0 774.7,540.6C772.7,540.2 769.8,537.5 767.6,534.4C765.4,531.3 762.5,524.2 761.5,522.2M824.6,400C823.8,402.7 820.0,410.2 819.5,416.3C819.0,422.4 821.4,430.9 821.6,436.7C821.8,442.5 819.1,446.8 820.6,450.9C822.1,455.0 826.0,459.9 830.7,461.1C835.5,462.3 843.7,460.5 849.1,458.1C854.5,455.7 859.9,451.5 863.3,446.9C866.7,442.3 868.7,436.0 869.4,430.6C870.1,425.2 868.8,419.4 867.4,414.3C866.0,409.2 862.3,402.4 861.3,400M832.8,400C832.1,402.7 829.2,410.2 828.7,416.3C828.2,422.4 828.3,431.3 829.7,436.7C831.1,442.1 833.7,447.2 836.9,448.9C840.1,450.6 845.7,448.9 849.1,446.9C852.5,444.9 855.5,441.1 857.2,436.7C858.9,432.3 859.6,425.2 859.3,420.4C859.0,415.6 856.6,411.5 855.2,408.1C853.8,404.7 851.8,401.4 851.1,400M951.3,418.3C948.5,419.3 940.8,421.3 934.6,424.4C928.4,427.5 920.4,432.9 914.3,436.7C908.2,440.4 903.4,442.8 898,446.9C892.6,451.0 887.1,456.7 881.7,461.1C876.3,465.5 869.0,469.2 865.4,473.3C861.8,477.4 861.0,480.8 860.3,485.6C859.6,490.4 859.8,496.8 861.3,501.9C862.8,507.0 866.7,512.7 869.4,516.1C872.1,519.5 874.2,522.5 877.6,522.2C881.0,521.9 885.7,517.5 889.8,514.1C893.9,510.7 897.2,505.3 902,501.9C906.8,498.5 912.9,496.1 918.3,493.7C923.7,491.3 929.1,489.0 934.6,487.6C940.1,486.2 948.5,485.9 951.3,485.6M951.3,408.1C947.5,408.1 935.4,407.1 928.5,408.1C921.6,409.1 915.6,411.2 910.2,414.3C904.8,417.4 900.0,422.1 895.9,426.5C891.8,430.9 888.8,435.6 885.7,440.7C882.7,445.8 880.7,452.6 877.6,457C874.5,461.4 869.1,465.5 867.4,467.2M951.3,477.4C948.5,477.7 940.1,478.7 934.6,479.4C929.1,480.1 923.4,480.5 918.3,481.5C913.2,482.5 907.8,486.0 904.1,485.6C900.4,485.2 897.6,481.4 895.9,479.4C894.2,477.3 894.2,474.3 893.9,473.3M735,404.1C737.0,403.9 743.5,402.4 747.2,403.1C750.9,403.8 754.3,406.6 757.4,408.1C760.5,409.6 764.2,411.5 765.6,412.2M320,587.6C318.6,587.3 316.0,586.6 311.9,585.6C307.8,584.6 301.7,582.9 295.6,581.5C289.5,580.1 282.0,578.4 275.2,577.4C268.4,576.4 260.9,576.1 254.8,575.4C248.7,574.7 243.9,574.8 238.5,573.3C233.1,571.8 227.3,567.9 222.2,566.2C217.1,564.5 212.4,563.3 208,563.1C203.6,562.9 198.8,563.8 195.7,565.2C192.6,566.6 189.9,568.9 189.6,571.3C189.3,573.7 190.3,576.7 193.7,579.4C197.1,582.1 203.6,585.2 210,587.6C216.4,590.0 224.2,592.0 232.4,593.7C240.6,595.4 250.4,596.9 258.9,597.8C267.4,598.6 277.2,597.8 283.3,598.8C289.4,599.8 292.9,601.0 295.6,603.9C298.3,606.8 299.1,611.4 299.6,616.1C300.1,620.9 299.6,627.3 298.6,632.4C297.6,637.5 296.1,641.6 293.5,646.7C290.9,651.8 286.7,657.9 283.3,663C279.9,668.1 276.6,672.1 273.2,677.2C269.8,682.3 266.8,688.8 263,693.5C259.2,698.2 254.1,702.8 250.7,705.7C247.3,708.6 243.9,709.9 242.6,710.8M320,605.9C317.3,604.9 305.7,598.1 303.7,599.8C301.7,601.5 307.5,610.0 307.8,616.1C308.1,622.2 307.1,630.7 305.7,636.5C304.3,642.3 302.3,646.0 299.6,650.7C296.9,655.5 292.8,660.2 289.4,665C286.0,669.8 282.7,674.2 279.3,679.3C275.9,684.4 272.8,690.9 269.1,695.6C265.4,700.4 258.9,705.8 256.9,707.8M254.8,591.7C252.8,591.4 245.0,590.6 242.6,589.6C240.2,588.6 239.9,587.0 240.6,585.6C241.3,584.2 243.0,582.4 246.7,581.5C250.4,580.6 256.9,580.2 263,580.5C269.1,580.8 277.2,582.5 283.3,583.5C289.4,584.5 293.5,585.6 299.6,586.6C305.7,587.6 316.6,589.1 320,589.6M180.5,648.7C181.7,649.0 184.7,651.0 187.6,650.7C190.5,650.4 196.1,647.4 197.8,646.7M181.5,640.6 L189.6,637.5M228.3,687.4C229.3,688.8 232.0,693.4 234.4,695.6C236.8,697.8 240.2,700.7 242.6,700.7C245.0,700.7 247.5,698.2 248.7,695.6C249.9,693.0 250.7,688.1 249.7,685.4C248.7,682.7 245.1,680.7 242.6,679.3C240.1,677.9 235.8,677.6 234.4,677.2M124.4,710.8C124.4,706.9 123.9,693.7 124.4,687.4C124.9,681.1 125.5,676.1 127.5,673.2C129.6,670.3 133.1,670.1 136.7,670.1C140.3,670.1 145.5,670.7 148.9,673.2C152.3,675.8 153.9,681.3 157,685.4C160.1,689.5 163.5,694.5 167.2,697.6C170.9,700.7 176.7,701.5 179.4,703.7C182.1,705.9 182.8,709.6 183.5,710.8M108.1,622.2C109.5,623.2 113.9,625.6 116.3,628.3C118.7,631.0 121.7,634.4 122.4,638.5C123.1,642.6 121.4,648.4 120.4,652.8C119.4,657.2 117.7,660.9 116.3,665C114.9,669.1 112.7,671.8 112.2,677.2C111.7,682.6 112.7,692.0 113.2,697.6C113.7,703.2 115.0,708.6 115.3,710.8M234.4,557C237.8,558.4 246.7,562.7 254.8,565.2C262.9,567.8 272.4,570.3 283.3,572.3C294.2,574.3 313.9,576.5 320,577.4M242.6,555C246.0,556.4 254.5,560.6 263,563.1C271.5,565.6 284.0,568.4 293.5,570.3C303.0,572.2 315.6,573.7 320,574.4M254.8,555C258.2,556.0 267.1,559.1 275.2,561.1C283.3,563.1 296.2,565.7 303.7,567.2C311.2,568.7 317.3,569.8 320,570.3M267,555C270.4,555.9 278.6,558.2 287.4,560.1C296.2,562.0 314.6,565.2 320,566.2M310,563.1C313.4,563.3 323.6,563.9 330.4,564.2C337.2,564.6 344.6,564.7 350.7,565.2C356.8,565.7 361.9,567.2 367,567.2C372.1,567.2 376.5,566.2 381.3,565.2C386.1,564.2 391.9,562.8 395.6,561.1C399.3,559.4 402.4,556.0 403.7,555M310,567.2C314.8,567.4 329.0,567.7 338.5,568.2C348.0,568.7 359.5,570.1 367,570.3C374.5,570.5 378.2,570.1 383.3,569.3C388.4,568.4 393.2,566.9 397.6,565.2C402.0,563.5 407.8,560.1 409.8,559.1M310,571.3C314.8,571.4 329.0,571.4 338.5,571.7C348.0,572.0 359.2,573.2 367,573.3C374.8,573.4 380.0,573.1 385.4,572.3C390.8,571.4 397.2,568.9 399.6,568.2M310,575.4C314.8,575.4 329.0,575.2 338.5,575.4C348.0,575.6 358.9,576.4 367,576.4C375.1,576.4 384.0,575.6 387.4,575.4M310,579.4C315.1,579.4 331.1,579.2 340.6,579.4C350.1,579.6 360.2,580.7 367,580.5C373.8,580.3 378.9,578.8 381.3,578.4M407.8,579.4C409.5,580.8 414.6,584.9 418,587.6C421.4,590.3 425.8,591.0 428.2,595.7C430.6,600.5 432.2,609.3 432.2,616.1C432.2,622.9 429.5,630.4 428.2,636.5C426.9,642.6 424.1,647.4 424.1,652.8C424.1,658.2 426.2,664.7 428.2,669.1C430.2,673.5 432.2,677.6 436.3,679.3C440.4,681.0 447.9,680.7 452.6,679.3C457.4,677.9 460.4,673.5 464.8,671.1C469.2,668.7 474.4,666.4 479.1,665C483.9,663.6 488.9,663.7 493.3,663C497.7,662.3 503.2,659.9 505.6,660.9C508.0,661.9 508.0,666.0 507.6,669.1C507.2,672.2 503.2,676.6 503.5,679.3C503.8,682.0 506.2,684.4 509.6,685.4C513.0,686.4 520.5,686.1 523.9,685.4C527.3,684.7 529.0,682.0 530,681.3M360.9,583.5C362.9,583.2 369.0,582.9 373.1,581.5C377.2,580.1 381.0,577.8 385.4,575.4C389.8,573.0 395.2,568.9 399.6,567.2C404.0,565.5 409.8,565.5 411.9,565.2M436.3,575.4C437.0,578.8 440.4,588.2 440.4,595.7C440.4,603.2 438.0,612.7 436.3,620.2C434.6,627.7 431.6,633.8 430.2,640.6C428.8,647.4 427.9,655.1 428.2,660.9C428.5,666.7 431.5,672.8 432.2,675.2M424.1,567.2C425.5,569.6 429.5,577.8 432.2,581.5C434.9,585.2 439.0,588.2 440.4,589.6M399.6,705.7C401.7,705.0 407.8,701.7 411.9,701.7C416.0,701.7 420.0,704.4 424.1,705.7C428.2,707.1 434.3,709.1 436.3,709.8M456.7,709.8C458.1,707.8 461.4,700.0 464.8,697.6C468.2,695.2 473.3,694.6 477,695.6C480.7,696.6 485.5,701.3 487.2,703.7C488.9,706.1 487.2,708.8 487.2,709.8M489.3,709.8C490.0,708.1 490.6,702.0 493.3,699.6C496.0,697.2 500.8,695.9 505.6,695.6C510.4,695.3 517.8,697.6 521.9,697.6C526.0,697.6 528.6,695.9 530,695.6M452.6,579.4C454.6,580.8 460.4,585.2 464.8,587.6C469.2,590.0 476.7,592.7 479.1,593.7M452.6,595.7C454.6,597.4 460.1,602.8 464.8,605.9C469.6,609.0 475.0,612.1 481.1,614.1C487.2,616.1 495.4,617.8 501.5,618.1C507.6,618.4 513.0,617.1 517.8,616.1C522.5,615.1 528.0,612.7 530,612M530,575.4C527.3,576.4 518.5,581.5 513.7,581.5C509.0,581.5 504.9,575.4 501.5,575.4C498.1,575.4 494.0,579.5 493.3,581.5C492.6,583.5 495.3,586.9 497.4,587.6C499.4,588.3 504.2,585.9 505.6,585.6M350.7,642.6C352.1,645.6 356.5,654.5 358.9,660.9C361.3,667.3 363.0,675.2 365,681.3C367.0,687.4 369.8,692.7 371.1,697.6C372.5,702.5 372.8,708.6 373.1,710.8M570.9,555C571.6,557.0 575.0,563.1 575,567.2C575.0,571.3 573.3,575.3 570.9,579.4C568.5,583.5 564.1,588.0 560.7,591.7C557.3,595.5 553.0,597.8 550.6,601.9C548.2,606.0 546.5,612.4 546.5,616.1C546.5,619.8 548.2,623.3 550.6,624.3C553.0,625.3 556.6,622.2 560.7,622.2C564.8,622.2 570.6,623.3 575,624.3C579.4,625.3 582.8,626.6 587.2,628.3C591.6,630.0 597.4,633.0 601.5,634.4C605.6,635.8 610.0,636.1 611.7,636.5M630,555C630.3,557.0 630.6,563.8 632,567.2C633.4,570.6 635.8,573.7 638.2,575.4C640.6,577.1 644.3,578.1 646.3,577.4C648.3,576.7 649.4,574.0 650.4,571.3C651.4,568.6 652.1,562.8 652.4,561.1M662.6,555C663.3,556.7 664.7,562.5 666.7,565.2C668.7,567.9 671.4,570.6 674.8,571.3C678.2,572.0 683.6,571.0 687,569.3C690.4,567.6 693.5,563.5 695.2,561.1C696.9,558.7 696.9,556.0 697.2,555M693.2,583.5C692.5,584.9 689.5,589.0 689.1,591.7C688.8,594.4 689.4,597.8 691.1,599.8C692.8,601.8 696.6,603.5 699.3,603.9C702.0,604.2 705.0,603.3 707.4,601.9C709.8,600.5 712.5,596.7 713.5,595.7M740,595.7C737.3,598.4 729.1,607.2 723.7,612C718.3,616.8 712.8,620.9 707.4,624.3C702.0,627.7 696.5,630.0 691.1,632.4C685.7,634.8 680.2,637.1 674.8,638.5C669.4,639.9 661.2,640.2 658.5,640.6M740,603.9C738.0,605.9 732.5,612.0 727.8,616.1C723.0,620.2 716.9,624.9 711.5,628.3C706.1,631.7 701.3,634.1 695.2,636.5C689.1,638.9 681.9,641.1 674.8,642.6C667.7,644.1 659.2,644.2 652.4,645.6C645.6,647.0 639.9,648.5 634.1,650.7C628.3,652.9 621.9,656.9 617.8,658.9C613.7,660.9 611.0,662.3 609.6,663M740,665C737.3,665.3 729.8,665.6 723.7,667C717.6,668.4 710.1,670.8 703.3,673.2C696.5,675.6 689.8,678.6 683,681.3C676.2,684.0 669.4,686.7 662.6,689.4C655.8,692.1 648.3,694.9 642.2,697.6C636.1,700.3 630.3,703.7 625.9,705.7C621.5,707.7 617.4,709.1 615.7,709.8M575,709.8C574.7,707.8 573.0,701.7 573,697.6C573.0,693.5 573.6,689.1 575,685.4C576.4,681.7 578.4,677.9 581.1,675.2C583.8,672.5 587.9,670.5 591.3,669.1C594.7,667.7 599.8,667.4 601.5,667M548.5,681.3C548.9,679.3 548.6,672.5 550.6,669.1C552.6,665.7 556.3,662.9 560.7,660.9C565.1,658.9 571.9,657.6 577,656.9C582.1,656.2 587.2,656.2 591.3,656.9C595.4,657.6 599.8,660.2 601.5,660.9M544.4,669.1C545.8,667.7 549.9,662.9 552.6,660.9C555.3,658.9 559.4,657.6 560.7,656.9M520,573.3C521.0,574.7 524.8,578.4 526.1,581.5C527.5,584.6 528.4,588.0 528.1,591.7C527.8,595.4 525.5,601.2 524.1,603.9C522.8,606.6 520.7,607.3 520,608M634.1,622.2C636.1,622.6 641.5,623.6 646.3,624.3C651.0,625.0 657.9,625.6 662.6,626.3C667.4,627.0 670.7,628.3 674.8,628.3C678.9,628.3 685.0,626.6 687,626.3M735,665C738.4,665.2 749.3,665.1 755.4,666C761.5,666.9 766.3,668.6 771.7,670.1C777.1,671.6 782.9,674.7 788,675.2C793.1,675.7 796.8,674.6 802.2,673.2C807.6,671.8 814.2,668.5 820.6,667C827.0,665.5 835.1,664.9 840.9,664C846.7,663.1 852.8,662.2 855.2,661.9M879.6,655.2C882.7,654.8 891.5,653.8 898,652.8C904.5,651.8 911.5,650.3 918.3,649.1C925.1,647.9 933.2,646.4 938.7,645.6C944.2,644.9 949.2,644.8 951.3,644.6M735,595.7C736.7,595.2 741.5,593.0 745.2,592.7C748.9,592.4 753.7,592.2 757.4,593.7C761.1,595.2 765.4,598.5 767.6,601.9C769.8,605.3 770.6,609.7 770.6,614.1C770.6,618.5 769.1,623.9 767.6,628.3C766.1,632.7 763.9,636.9 761.5,640.6C759.1,644.3 756.4,648.0 753.3,650.7C750.2,653.4 746.1,655.7 743.1,656.9C740.1,658.1 736.4,657.7 735,657.9M735,601.9C737.0,601.4 743.1,598.5 747.2,598.8C751.3,599.1 756.5,601.3 759.4,603.9C762.3,606.5 764.1,610.0 764.5,614.1C764.9,618.2 763.0,624.2 761.5,628.3C760.0,632.4 757.8,635.8 755.4,638.5C753.0,641.2 748.6,643.6 747.2,644.6M735,691.5C737.0,691.0 742.8,688.4 747.2,688.4C751.6,688.4 757.8,689.6 761.5,691.5C765.2,693.4 767.7,696.4 769.6,699.6C771.5,702.8 772.2,708.9 772.7,710.8M345,322C339.2,322.7 322.5,323.0 310,326C297.5,329.0 283.6,336.9 270,340C256.4,343.1 240.3,342.5 228.5,344.8C216.7,347.1 207.3,350.2 198.9,353.7C190.5,357.2 183.8,362.2 178.1,365.6C172.4,369.1 167.8,371.9 164.8,374.4C161.9,376.9 160.7,378.2 160.4,380.4C160.2,382.6 160.8,385.6 163.3,387.8C165.8,390.0 169.3,391.9 175.2,393.7C181.1,395.5 190.0,397.7 198.9,398.9C207.8,400.1 216.7,400.7 228.5,400.8C240.3,400.9 254.8,401.1 270,399.6C285.2,398.1 303.3,395.3 320,392C336.7,388.7 355.0,383.7 370,380C385.0,376.3 398.3,369.2 410,370C421.7,370.8 430.8,378.3 440,385C449.2,391.7 456.7,402.5 465,410C473.3,417.5 485.8,426.7 490,430M344.7,319.4C338.8,320.1 321.9,320.5 309.4,323.5C296.8,326.5 283.0,334.4 269.4,337.5C255.8,340.6 239.9,339.9 228,342.2C216.1,344.5 206.4,347.8 197.9,351.3C189.4,354.8 182.6,359.9 176.8,363.4C171.0,366.9 166.3,369.6 163.1,372.4C159.9,375.2 158.1,377.2 157.8,380.1C157.6,383.0 158.8,387.0 161.6,389.7C164.4,392.4 168.2,394.2 174.4,396.2C180.6,398.2 189.6,400.3 198.6,401.5C207.6,402.7 216.6,403.3 228.5,403.4C240.4,403.5 254.9,403.7 270.2,402.2C285.5,400.7 303.8,397.9 320.5,394.6C337.2,391.3 355.7,386.2 370.6,382.5C385.5,378.8 398.5,371.8 409.8,372.6C421.1,373.4 429.6,380.6 438.5,387.1C447.4,393.7 455.0,404.4 463.3,411.9C471.6,419.4 484.2,428.6 488.4,432M344.4,316.8C338.5,317.5 321.4,317.9 308.8,320.9C296.2,323.9 282.4,331.8 268.8,334.9C255.2,338.0 239.5,337.4 227.5,339.7C215.5,342.0 205.6,345.3 196.9,348.9C188.2,352.5 181.3,357.6 175.4,361.2C169.5,364.8 164.9,367.3 161.5,370.4C158.1,373.5 155.5,376.2 155.2,379.8C154.9,383.4 156.7,388.6 159.8,391.7C162.9,394.8 167.3,396.6 173.7,398.7C180.1,400.8 189.1,402.9 198.2,404.1C207.3,405.3 216.3,405.9 228.4,406C240.5,406.1 255.1,406.3 270.5,404.8C285.9,403.3 304.2,400.4 321,397.1C337.8,393.8 356.4,388.8 371.2,385.1C386.0,381.5 398.7,374.5 409.6,375.2C420.6,375.9 428.2,382.8 436.9,389.2C445.5,395.6 453.2,406.4 461.5,413.9C469.8,421.4 482.6,430.7 486.8,434.1M344.1,314.3C338.1,315.0 320.9,315.4 308.2,318.4C295.5,321.4 281.7,329.3 268.2,332.4C254.7,335.5 239.1,334.8 227,337.1C214.9,339.5 204.7,342.9 195.9,346.5C187.1,350.1 180.1,355.2 174.1,358.9C168.1,362.5 163.4,365.0 159.8,368.4C156.2,371.8 152.9,375.3 152.6,379.5C152.3,383.7 154.7,390.0 158.1,393.6C161.5,397.2 166.3,398.9 172.9,401.1C179.5,403.3 188.7,405.4 197.9,406.6C207.2,407.9 216.3,408.5 228.4,408.6C240.5,408.7 255.2,408.9 270.7,407.4C286.2,405.9 304.6,403.0 321.5,399.7C338.4,396.4 357.2,391.2 371.9,387.6C386.5,384.0 398.8,377.2 409.4,377.8C420.0,378.4 427.0,385.0 435.4,391.3C443.8,397.6 451.5,408.3 459.8,415.8C468.1,423.3 480.9,432.7 485.1,436.1M343.8,311.7C337.8,312.4 320.3,312.9 307.6,315.9C294.9,318.9 281.2,326.8 267.7,329.9C254.2,333.0 238.6,332.2 226.5,334.6C214.4,337.0 203.9,340.4 194.9,344.1C185.9,347.8 178.8,353.0 172.7,356.7C166.6,360.4 161.9,362.6 158.1,366.4C154.3,370.1 150.4,374.3 150.1,379.2C149.8,384.1 152.6,391.4 156.3,395.5C160.0,399.6 165.2,401.3 172.1,403.6C179.0,405.9 188.1,407.9 197.5,409.2C206.9,410.5 216.2,411.1 228.4,411.2C240.7,411.3 255.4,411.5 271,410C286.6,408.5 305.1,405.5 322,402.2C338.9,398.9 357.9,393.7 372.5,390.1C387.1,386.5 399.1,379.8 409.3,380.4C419.5,380.9 425.8,387.2 433.9,393.4C442.0,399.6 449.7,410.2 458,417.7C466.3,425.1 479.2,434.7 483.5,438.1M343.5,308.7C337.4,309.4 319.6,310.0 306.9,313C294.1,316.0 280.5,323.8 267,326.9C253.5,330.0 238.2,329.2 226,331.6C213.8,334.0 203.0,337.6 193.8,341.3C184.7,345.1 177.4,350.3 171.1,354.1C164.8,357.9 160.2,360.0 156.2,364.1C152.2,368.2 147.4,373.3 147.1,378.9C146.8,384.5 150.3,393.2 154.3,397.8C158.3,402.4 164.1,404.1 171.2,406.5C178.3,408.9 187.6,410.9 197.1,412.2C206.6,413.5 216.0,414.1 228.4,414.2C240.8,414.3 255.6,414.4 271.3,412.9C287.0,411.4 305.6,408.4 322.6,405.1C339.6,401.8 358.8,396.6 373.2,393C387.6,389.4 399.2,382.9 409,383.4C418.8,383.9 424.3,389.7 432.1,395.8C439.9,401.9 447.8,412.6 456,420C464.2,427.4 477.3,437.1 481.6,440.5M366.4,576.9C369.6,577.2 379.4,580.1 385.9,578.8C392.4,577.5 400.1,572.1 405.5,569.1C410.9,566.1 413.8,561.8 418.3,560.7C422.8,559.6 428.4,561.8 432.7,562.7C437.0,563.6 441.5,564.4 444.4,566.2C447.3,568.1 449.2,570.5 450.3,573.8C451.4,577.1 452.1,582.1 451.2,586.1C450.3,590.1 446.9,593.8 444.7,597.9C442.5,602.0 439.3,606.4 437.9,610.5C436.4,614.6 436.3,620.3 436,622.3M366.1,579.6C369.5,579.9 379.6,582.8 386.4,581.4C393.2,580.0 401.4,574.4 406.8,571.4C412.2,568.4 414.7,564.3 418.9,563.3C423.1,562.3 428.2,564.4 432.2,565.3C436.2,566.1 440.4,566.8 443,568.4C445.6,570.0 446.9,571.9 447.8,574.7C448.7,577.6 449.5,581.8 448.6,585.5C447.7,589.2 444.6,592.7 442.4,596.7C440.2,600.7 436.9,605.4 435.4,609.6C433.9,613.8 433.6,619.8 433.3,621.8M365.8,582.2C369.3,582.5 379.9,585.4 387,584C394.1,582.6 402.7,576.8 408.1,573.8C413.5,570.8 415.6,566.9 419.5,565.9C423.4,564.9 427.9,567.1 431.6,567.9C435.3,568.7 439.2,569.4 441.5,570.7C443.8,572.0 444.6,573.1 445.3,575.5C446.1,577.9 446.9,581.6 446,584.9C445.1,588.2 442.2,591.4 440,595.4C437.8,599.4 434.4,604.4 432.9,608.7C431.3,613.0 431.1,619.3 430.7,621.4M365.6,584.9C369.2,585.2 380.2,588.2 387.5,586.7C394.8,585.2 404.0,579.1 409.4,576.1C414.8,573.1 416.5,569.4 420.1,568.5C423.7,567.6 427.8,569.8 431.1,570.5C434.4,571.2 438.1,571.9 440,572.9C441.9,573.9 442.2,574.5 442.8,576.4C443.4,578.3 444.2,581.3 443.4,584.3C442.5,587.2 439.9,590.2 437.7,594.1C435.5,598.0 432.0,603.3 430.4,607.8C428.8,612.3 428.5,618.8 428.1,621M389.4,143C390.9,141.6 395.4,139.9 397.6,140.6C399.8,141.3 402.2,144.8 402.7,147.1C403.2,149.4 402.1,152.7 400.6,154.2C399.1,155.7 395.5,157.0 393.5,156.2C391.5,155.3 389.1,151.3 388.4,149.1C387.7,146.9 387.9,144.4 389.4,143ZM373.1,173.6C374.2,171.9 376.2,169.3 379.3,168.5C382.4,167.7 389.0,167.7 391.5,168.5C394.0,169.3 395.2,171.6 394.5,173.6C393.8,175.6 390.3,179.0 387.4,180.7C384.5,182.4 379.6,184.0 377.2,183.7C374.8,183.3 373.4,180.3 372.7,178.6C372.0,176.9 372.0,175.3 373.1,173.6ZM436.3,218.4C438.5,216.0 444.8,214.3 448.5,214.3C452.2,214.3 455.0,216.0 458.7,218.4C462.4,220.8 466.8,225.2 470.9,228.6C475.0,232.0 480.8,236.0 483.2,238.7C485.6,241.4 486.9,243.7 485.2,244.9C483.5,246.1 477.8,246.2 473,245.9C468.2,245.6 461.8,244.0 456.7,242.8C451.6,241.6 446.0,241.1 442.4,238.7C438.8,236.3 436.3,232.0 435.3,228.6C434.3,225.2 434.1,220.8 436.3,218.4ZM891.9,230.6C892.9,228.7 897.6,227.3 900,227.5C902.4,227.7 905.1,229.9 906.1,231.6C907.1,233.3 907.1,236.1 906.1,237.7C905.1,239.3 902.0,241.0 900,241.2C898.0,241.4 895.2,240.5 893.9,238.7C892.5,236.9 890.9,232.5 891.9,230.6ZM326.3,320.4C328.9,318.5 333.8,316.1 340.6,315.3C347.4,314.5 360.2,314.5 367,315.3C373.8,316.1 378.4,318.5 381.3,320.4C384.2,322.3 385.1,324.5 384.4,326.5C383.7,328.5 381.8,331.4 377.2,332.6C372.6,333.8 364.0,333.9 356.9,333.6C349.8,333.3 339.7,331.8 334.4,330.6C329.1,329.4 326.6,328.2 325.3,326.5C324.0,324.8 323.8,322.3 326.3,320.4ZM428.2,499.8C429.2,499.0 432.9,498.1 434.3,498.8C435.7,499.5 436.7,502.5 436.3,503.9C435.9,505.2 433.6,506.9 432.2,506.9C430.8,506.9 428.9,505.1 428.2,503.9C427.5,502.7 427.2,500.6 428.2,499.8ZM463.8,520.2C464.6,518.8 467.7,516.8 468.9,517.1C470.1,517.4 471.1,520.5 470.9,522.2C470.7,523.9 469.1,526.8 467.9,527.3C466.7,527.8 464.5,526.5 463.8,525.3C463.1,524.1 463.0,521.6 463.8,520.2ZM544.4,505.9C548.5,504.0 555.9,502.5 560.7,502.9C565.5,503.2 569.9,505.4 573,508C576.1,510.6 578.4,514.5 579.1,518.2C579.8,521.9 579.0,527.0 577,530.4C575.0,533.8 571.0,536.8 566.9,538.5C562.8,540.2 557.0,540.9 552.6,540.6C548.2,540.3 543.5,538.9 540.4,536.5C537.3,534.1 535.0,530.0 534.3,526.3C533.6,522.6 534.6,517.5 536.3,514.1C538.0,510.7 540.3,507.8 544.4,505.9ZM532.2,501.9C536.3,498.8 544.2,496.5 550.6,495.7C557.0,494.9 565.1,495.1 570.9,496.8C576.7,498.5 581.8,502.0 585.2,505.9C588.6,509.8 591.0,515.1 591.3,520.2C591.6,525.3 590.2,531.8 587.2,536.5C584.2,541.2 578.8,546.2 573,548.7C567.2,551.2 559.1,552.1 552.6,551.8C546.1,551.5 538.7,549.9 534.3,546.7C529.9,543.5 527.5,537.8 526.1,532.4C524.7,527.0 525.1,519.2 526.1,514.1C527.1,509.0 528.1,505.0 532.2,501.9ZM699.3,424.4C701.5,422.7 706.0,420.0 709.4,420.4C712.8,420.8 717.5,423.8 719.6,426.5C721.7,429.2 722.4,433.6 721.7,436.7C721.0,439.8 718.3,443.3 715.6,444.8C712.9,446.3 708.3,446.8 705.4,445.8C702.5,444.8 699.7,441.2 698.2,438.7C696.7,436.2 696.0,433.0 696.2,430.6C696.4,428.2 697.1,426.1 699.3,424.4ZM691.1,420.4C693.5,416.3 698.5,413.2 703.3,412.2C708.0,411.2 715.5,412.3 719.6,414.3C723.7,416.3 726.1,420.3 727.8,424.4C729.5,428.5 730.8,434.6 729.8,438.7C728.8,442.8 725.4,446.5 721.7,448.9C718.0,451.3 711.8,453.0 707.4,453C703.0,453.0 698.2,451.6 695.2,448.9C692.2,446.2 689.8,441.4 689.1,436.7C688.4,431.9 688.7,424.5 691.1,420.4ZM670.7,505.9C672.7,503.7 677.5,501.1 680.9,500.8C684.3,500.5 688.7,502.0 691.1,503.9C693.5,505.8 694.9,508.9 695.2,512C695.6,515.0 695.2,519.8 693.2,522.2C691.2,524.6 686.4,526.3 683,526.3C679.6,526.3 675.2,524.2 672.8,522.2C670.4,520.2 669.1,516.8 668.7,514.1C668.4,511.4 668.7,508.1 670.7,505.9ZM676.9,510C678.1,508.1 681.1,506.7 683,506.9C684.9,507.1 687.2,509.1 688.1,511C689.0,512.9 689.1,516.5 688.1,518.2C687.1,519.9 684.0,521.2 681.9,521.2C679.8,521.2 676.6,520.1 675.8,518.2C675.0,516.3 675.7,511.9 676.9,510ZM210,636.5C210.0,633.8 211.4,630.3 214.1,628.3C216.8,626.3 220.9,625.1 226.3,624.3C231.7,623.4 239.9,623.4 246.7,623.2C253.5,623.0 262.4,622.5 267,623.2C271.6,623.9 273.5,625.4 274.2,627.3C274.9,629.2 273.3,632.9 271.1,634.4C268.9,635.9 266.0,636.7 260.9,636.5C255.8,636.3 245.7,633.1 240.6,633.4C235.5,633.7 233.5,636.6 230.4,638.5C227.3,640.4 224.9,643.6 222.2,644.6C219.5,645.6 216.1,646.0 214.1,644.6C212.1,643.2 210.0,639.2 210,636.5ZM389.4,593.7C390.9,590.7 394.5,586.6 397.6,585.6C400.7,584.6 406.5,584.9 407.8,587.6C409.1,590.3 407.7,598.5 405.7,601.9C403.7,605.3 398.5,607.7 395.6,608C392.7,608.3 389.4,606.3 388.4,603.9C387.4,601.5 387.9,596.8 389.4,593.7ZM379.3,608C381.9,603.9 384.0,600.2 387.4,597.8C390.8,595.4 395.5,593.4 399.6,593.7C403.7,594.0 409.2,596.1 411.9,599.8C414.6,603.5 416.6,611.7 415.9,616.1C415.2,620.5 410.2,622.2 407.8,626.3C405.4,630.4 403.4,635.5 401.7,640.6C400.0,645.7 399.3,652.8 397.6,656.9C395.9,661.0 394.2,665.0 391.5,665C388.8,665.0 384.4,661.0 381.3,656.9C378.2,652.8 374.6,646.4 373.1,640.6C371.6,634.8 371.1,627.6 372.1,622.2C373.1,616.8 376.8,612.1 379.3,608ZM358.9,593.7C358.9,592.0 363.6,588.4 366,588.6C368.4,588.8 373.1,593.0 373.1,594.7C373.1,596.4 368.4,599.0 366,598.8C363.6,598.6 358.9,595.4 358.9,593.7ZM595.4,575.4C597.3,573.2 602.5,573.7 605.6,574.4C608.7,575.1 612.0,576.9 613.7,579.4C615.4,581.9 616.4,586.9 615.7,589.6C615.0,592.3 612.0,594.5 609.6,595.7C607.2,596.9 604.0,598.1 601.5,596.8C599.0,595.4 595.4,591.2 594.4,587.6C593.4,584.0 593.5,577.6 595.4,575.4ZM579.1,685.4C580.5,682.3 583.5,678.9 587.2,677.2C590.9,675.5 597.1,674.9 601.5,675.2C605.9,675.6 611.0,676.9 613.7,679.3C616.4,681.7 617.8,686.0 617.8,689.4C617.8,692.8 616.4,697.2 613.7,699.6C611.0,702.0 605.9,703.2 601.5,703.7C597.1,704.2 590.9,704.1 587.2,702.7C583.5,701.4 580.5,698.5 579.1,695.6C577.8,692.7 577.8,688.5 579.1,685.4Z" fill="none" stroke="#7c7c7c" stroke-opacity="0.8" stroke-width="1.6" stroke-linecap="round"/>
<g stroke="#bdbdbd" stroke-opacity="0.85" stroke-width="0.85" stroke-dasharray="3.7 1.6" fill="none">
<path d="M194.3,94.5V710.4"/>
<path d="M365.9,94.5V710.4"/>
<path d="M537.6,94.5V710.4"/>
<path d="M709.2,94.5V710.4"/>
<path d="M880.9,94.5V710.4"/>
<path d="M108.05,138.2H950.55"/>
<path d="M108.05,314.7H950.55"/>
<path d="M108.05,466.9H950.55"/>
<path d="M108.05,603.7H950.55"/>
</g>
<path d="M576.9,653.2 L567.4,651.3 L561.7,645.6 L559.8,636 L552.2,632.2 L542.7,628.4 L535.1,630.3 L527.5,635.1 L516,637 L504.6,637.9 L497,641.7 L495.1,651.3 L493.2,657.9 L487.5,657 L483.7,651.3 L474.2,653.2 L468.5,649.4 L460.9,643.7 L462.8,636 L457.5,628.4 L454,618 L444,618 L440,610 L443,601 L450,593 L454,581 L454,569.5 L450,561.8 L444.5,554.1 L436.9,552.2 L431.2,559.8 L423.6,556 L417.9,553.2 L408.4,559.8 L398.9,565.6 L389.4,573.2 L379.8,575.1 L368.4,575.1 L365.6,565.6 L362.7,557.9 L353.2,557.9 L345.6,557 L336.1,555.1 L328.5,559.8 L326.6,564.6 L320.9,557.9 L311.4,557.9 L300,559.3 L294.7,556 L282.5,549.9 L270.3,543.8 L258.2,539.2 L246,531.6 L236.9,521 L224.7,522.5 L212.5,519.5 L200.4,513.4 L191.3,507.3 L189.7,498.2 L186.7,490.6 L197.3,486 L194.3,473.8 L188.2,461.7 L182.1,455.6 L180.6,443.4 L170,440.4 L157.8,434.3 L153.2,425.2 L142.6,416 L139.5,403.9 L138,391.7 L127.4,385.6 L121.3,379.5 L125.9,368.9 L139.5,361.3 L139.9,358 L149,356.8 L165,352.3 L175.3,343.1 L195.8,337.4 L207.2,330.6 L210.7,321.5 L216.4,314.6 L216.4,307.8 L212.9,296.4 L211.8,285 L207.2,279.2 L214,277 L224.3,273.5 L230,270.1 L239.2,273.5 L241.5,271.3 L236.9,259.9 L241.5,253 L244.9,241.6 L248.3,234.8 L257.4,239.8 L273.4,238.2 L282.5,234.8 L281.4,225.6 L280.2,217.6 L287.1,211.9 L296.2,207.4 L296.2,199.4 L303.1,197.1 L309.9,196.4 L313.3,205.1 L319,211.9 L328.2,218.8 L337.3,222.2 L345.6,232.5 L352.5,243.9 L351.3,255.3 L346.8,264.4 L352.5,273.5 L366.2,275.8 L384.4,278.1 L395.8,285 L409.5,291.8 L414.1,303.2 L420.9,312.3 L424.3,318 L441.5,319.2 L459.7,321 L478,319.6 L493.9,323.7 L505.3,330.6 L519,335.1 L530.4,337.4 L534.2,337.9 L552.5,330.6 L575.3,324.9 L600.4,322.6 L611.8,313.5 L623.2,303.2 L627.8,296.4 L623.2,287.2 L625.5,279.2 L634.6,277 L646,281.5 L657.4,278.1 L664.3,271.3 L675.7,267.8 L684.8,259.9 L693.9,250.7 L709.9,246.2 L723.6,245 L733.9,246.2 L732.7,237 L725.9,229.1 L714.5,222.2 L700.8,224.5 L687.1,223.4 L676.8,218.8 L680.2,207.4 L684.8,196 L689.4,186.5 L698.5,185 L705.3,188.5 L716.7,181.5 L725,175.6 L728.4,165.3 L735.3,151.6 L744.4,135.6 L743.3,127.6 L736.4,124.2 L736.4,119.7 L744.4,112.8 L755.8,108.7 L769.5,106.4 L783.2,104.8 L792.3,108.3 L806,112.8 L815.1,121.9 L817.4,131.1 L822,140.2 L825.4,151.6 L831.1,165.3 L835.7,179 L840.2,185.8 L851.6,189.2 L863.1,194.9 L872.2,201.8 L876.7,210.9 L877.9,222.3 L880.7,224.7 L889.3,224.7 L900.7,220.9 L912.1,216.1 L923.5,213.3 L933,211.4 L931.1,219.9 L927.3,227.5 L922.5,235.1 L921.6,246.5 L917.8,257.9 L910.2,267.5 L906.4,276 L898.8,274.1 L891.2,271.3 L885.5,277 L881.7,282.7 L881.7,294.1 L883.6,303.6 L883.5,309.5 L876.8,316.2 L867.3,315.2 L862.5,324.7 L854,328.5 L846.4,330.4 L841.6,335.2 L843.5,340.9 L833.1,341.8 L825.5,337.1 L819.8,344.7 L812.2,352.3 L802.7,357 L793.2,363.7" fill="none" stroke="#a6a6a6" stroke-width="2.9" stroke-linejoin="round"/>
<path d="M576.9,653.2 L567.4,651.3 L561.7,645.6 L559.8,636 L552.2,632.2 L542.7,628.4 L535.1,630.3 L527.5,635.1 L516,637 L504.6,637.9 L497,641.7 L495.1,651.3 L493.2,657.9 L487.5,657 L483.7,651.3 L474.2,653.2 L468.5,649.4 L460.9,643.7 L462.8,636 L457.5,628.4 L454,618 L444,618 L440,610 L443,601 L450,593 L454,581 L454,569.5 L450,561.8 L444.5,554.1 L436.9,552.2 L431.2,559.8 L423.6,556 L417.9,553.2 L408.4,559.8 L398.9,565.6 L389.4,573.2 L379.8,575.1 L368.4,575.1 L365.6,565.6 L362.7,557.9 L353.2,557.9 L345.6,557 L336.1,555.1 L328.5,559.8 L326.6,564.6 L320.9,557.9 L311.4,557.9 L300,559.3 L294.7,556 L282.5,549.9 L270.3,543.8 L258.2,539.2 L246,531.6 L236.9,521 L224.7,522.5 L212.5,519.5 L200.4,513.4 L191.3,507.3 L189.7,498.2 L186.7,490.6 L197.3,486 L194.3,473.8 L188.2,461.7 L182.1,455.6 L180.6,443.4 L170,440.4 L157.8,434.3 L153.2,425.2 L142.6,416 L139.5,403.9 L138,391.7 L127.4,385.6 L121.3,379.5 L125.9,368.9 L139.5,361.3 L139.9,358 L149,356.8 L165,352.3 L175.3,343.1 L195.8,337.4 L207.2,330.6 L210.7,321.5 L216.4,314.6 L216.4,307.8 L212.9,296.4 L211.8,285 L207.2,279.2 L214,277 L224.3,273.5 L230,270.1 L239.2,273.5 L241.5,271.3 L236.9,259.9 L241.5,253 L244.9,241.6 L248.3,234.8 L257.4,239.8 L273.4,238.2 L282.5,234.8 L281.4,225.6 L280.2,217.6 L287.1,211.9 L296.2,207.4 L296.2,199.4 L303.1,197.1 L309.9,196.4 L313.3,205.1 L319,211.9 L328.2,218.8 L337.3,222.2 L345.6,232.5 L352.5,243.9 L351.3,255.3 L346.8,264.4 L352.5,273.5 L366.2,275.8 L384.4,278.1 L395.8,285 L409.5,291.8 L414.1,303.2 L420.9,312.3 L424.3,318 L441.5,319.2 L459.7,321 L478,319.6 L493.9,323.7 L505.3,330.6 L519,335.1 L530.4,337.4 L534.2,337.9 L552.5,330.6 L575.3,324.9 L600.4,322.6 L611.8,313.5 L623.2,303.2 L627.8,296.4 L623.2,287.2 L625.5,279.2 L634.6,277 L646,281.5 L657.4,278.1 L664.3,271.3 L675.7,267.8 L684.8,259.9 L693.9,250.7 L709.9,246.2 L723.6,245 L733.9,246.2 L732.7,237 L725.9,229.1 L714.5,222.2 L700.8,224.5 L687.1,223.4 L676.8,218.8 L680.2,207.4 L684.8,196 L689.4,186.5 L698.5,185 L705.3,188.5 L716.7,181.5 L725,175.6 L728.4,165.3 L735.3,151.6 L744.4,135.6 L743.3,127.6 L736.4,124.2 L736.4,119.7 L744.4,112.8 L755.8,108.7 L769.5,106.4 L783.2,104.8 L792.3,108.3 L806,112.8 L815.1,121.9 L817.4,131.1 L822,140.2 L825.4,151.6 L831.1,165.3 L835.7,179 L840.2,185.8 L851.6,189.2 L863.1,194.9 L872.2,201.8 L876.7,210.9 L877.9,222.3 L880.7,224.7 L889.3,224.7 L900.7,220.9 L912.1,216.1 L923.5,213.3 L933,211.4 L931.1,219.9 L927.3,227.5 L922.5,235.1 L921.6,246.5 L917.8,257.9 L910.2,267.5 L906.4,276 L898.8,274.1 L891.2,271.3 L885.5,277 L881.7,282.7 L881.7,294.1 L883.6,303.6 L883.5,309.5 L876.8,316.2 L867.3,315.2 L862.5,324.7 L854,328.5 L846.4,330.4 L841.6,335.2 L843.5,340.9 L833.1,341.8 L825.5,337.1 L819.8,344.7 L812.2,352.3 L802.7,357 L793.2,363.7" fill="none" stroke="#383838" stroke-width="2.2" stroke-dasharray="5.6 2.3" stroke-linejoin="round"/>
<path d="M136.5,92.1L120.1,96.5M120.1,96.5l-3.9,-6.0M123.5,95.6l-2.0,-3.0M162.7,91.4L146.7,97.3M146.7,97.3l-4.4,-5.7M150.0,96.1l-2.2,-2.8M189.1,91.4L173.1,97.3M173.1,97.3l-4.4,-5.7M176.4,96.1l-2.2,-2.8M215.5,91.4L199.5,97.3M199.5,97.3l-4.4,-5.7M202.8,96.1l-2.2,-2.8M241.9,91.4L225.9,97.3M225.9,97.3l-4.4,-5.7M229.2,96.1l-2.2,-2.8M268.3,91.4L252.3,97.3M252.3,97.3l-4.4,-5.7M255.6,96.1l-2.2,-2.8M293.7,89.5L279.8,99.2M279.8,99.2l-5.8,-4.3M319.1,88.3L307.1,100.4M307.1,100.4l-6.4,-3.3M341.7,86.1L337.3,102.6M337.3,102.6l-7.2,0.4M367.4,86.0L364.5,102.7M364.5,102.7l-7.1,1.0M393.8,86.0L390.9,102.7M390.9,102.7l-7.1,1.0M421.0,86.1L416.6,102.6M416.6,102.6l-7.2,0.4M447.4,86.1L443.0,102.6M443.0,102.6l-7.2,0.4M473.8,86.1L469.4,102.6M469.4,102.6l-7.2,0.4M500.2,86.1L495.8,102.6M495.8,102.6l-7.2,0.4M712.1,102.3L706.3,86.4M706.3,86.4l3.1,-2.4M769.4,90.1L754.7,98.6M754.7,98.6l-5.4,-4.8M792.7,101.7L784.2,87.0M784.2,87.0l2.6,-2.9M819.1,101.7L810.6,87.0M810.6,87.0l2.6,-2.9M843.4,102.6L839.0,86.1M839.0,86.1l3.3,-2.2M871.2,102.1L864.1,86.6M864.1,86.6l2.9,-2.7M899.5,100.9L888.6,87.8M888.6,87.8l2.1,-3.4M927.8,90.1L913.1,98.6M913.1,98.6l-5.4,-4.8M951.1,101.7L942.6,87.0M942.6,87.0l2.6,-2.9M110.1,92.1L93.7,96.5M93.7,96.5l-3.9,-6.0M97.0,95.6l-2.0,-3.0M136.6,136.5L120.0,140.0M120.0,140.0l-3.6,-6.2M123.4,139.3l-3.6,-6.2M163.1,137.1L146.3,139.4M146.3,139.4l-3.2,-6.5M149.7,138.9l-3.2,-6.5M189.4,136.5L172.8,140.0M172.8,140.0l-3.6,-6.2M176.2,139.3l-1.8,-3.1M215.2,134.6L199.8,141.8M199.8,141.8l-4.9,-5.3M240.9,133.4L226.9,143.1M226.9,143.1l-5.8,-4.3M268.8,137.5L251.8,139.0M251.8,139.0l-2.8,-6.6M255.3,138.7l-2.8,-6.6M293.2,132.8L280.2,143.7M280.2,143.7l-6.1,-3.8M317.4,145.6L308.9,130.9M308.9,130.9l4.8,-5.4M366.2,129.7L365.6,146.7M365.6,146.7l-3.8,1.1M383.8,138.2L400.8,138.2M400.8,138.2l1.2,3.8M420.2,129.9L417.3,146.6M417.3,146.6l-7.1,1.0M442.2,130.2L448.1,146.2M448.1,146.2l-5.7,4.4M474.5,130.2L468.7,146.2M468.7,146.2l-7.2,-0.3M504.0,132.2L492.0,144.2M492.0,144.2l-6.4,-3.3M558.1,134.0L543.4,142.5M543.4,142.5l-2.9,-2.6M585.7,138.2L568.7,138.2M568.7,138.2l-2.2,-6.8M610.1,132.8L597.1,143.7M597.1,143.7l-6.1,-3.8M638.0,141.1L622.0,135.3M622.0,135.3l0.3,-7.2M716.9,141.8L701.5,134.6M701.5,134.6l0.9,-7.1M796.4,141.1L780.4,135.3M780.4,135.3l0.3,-7.2M818.4,145.9L811.2,130.5M811.2,130.5l2.9,-2.7M844.8,145.9L837.7,130.5M837.7,130.5l5.3,-4.9M876.1,137.5L859.2,139.0M859.2,139.0l-1.5,-3.6M900.1,144.2L888.0,132.2M888.0,132.2l1.8,-3.5M926.5,144.2L914.5,132.2M914.5,132.2l3.3,-6.4M950.5,145.9L943.3,130.5M943.3,130.5l5.3,-4.9M110.2,136.5L93.6,140.0M93.6,140.0l-3.6,-6.2M97.0,139.3l-3.6,-6.2M136.3,177.3L120.3,183.1M120.3,183.1l-4.4,-5.7M123.6,181.9l-2.2,-2.8M162.9,178.0L146.5,182.4M146.5,182.4l-3.9,-6.0M149.9,181.5l-3.9,-6.0M189.3,178.0L172.9,182.4M172.9,182.4l-3.9,-6.0M176.3,181.5l-2.0,-3.0M212.4,187.2L202.6,173.2M202.6,173.2l4.3,-5.8M242.1,178.0L225.7,182.4M225.7,182.4l-3.9,-6.0M261.8,171.8L258.8,188.6M258.8,188.6l-7.1,1.0M288.9,172.0L284.5,188.4M284.5,188.4l-7.2,0.4M316.7,172.5L309.5,187.9M309.5,187.9l-7.1,-0.9M331.2,181.7L347.9,178.7M347.9,178.7l1.9,3.5M365.9,188.7L365.9,171.7M365.9,171.7l3.8,-1.2M410.5,178.0L427.0,182.4M427.0,182.4l0.4,7.2M448.1,172.2L442.2,188.2M442.2,188.2l-7.2,-0.3M474.5,172.2L468.7,188.2M468.7,188.2l-7.2,-0.3M611.0,184.5L596.2,176.0M596.2,176.0l1.5,-7.0M649.9,174.7L662.9,185.7M662.9,185.7l-1.5,3.7M674.3,179.5L691.3,180.9M691.3,180.9l0.9,3.9M735.6,171.7L735.6,188.7M735.6,188.7l-3.8,1.2M770.2,182.4L753.8,178.0M753.8,178.0l-0.2,-4.0M795.8,184.5L781.1,176.0M781.1,176.0l1.5,-7.0M823.1,182.4L806.6,178.0M806.6,178.0l-0.2,-4.0M848.6,184.5L833.9,176.0M833.9,176.0l0.8,-3.9M872.5,187.2L862.8,173.2M862.8,173.2l4.3,-5.8M902.0,183.1L886.1,177.3M886.1,177.3l0.3,-7.2M928.5,183.1L912.5,177.3M912.5,177.3l0.3,-7.2M915.8,178.5l0.3,-7.2M947.6,171.7L946.1,188.7M946.1,188.7l-7.0,1.6M109.9,177.3L93.9,183.1M93.9,183.1l-4.4,-5.7M97.2,181.9l-2.2,-2.8M133.7,227.0L122.8,214.0M122.8,214.0l2.1,-3.4M162.9,222.7L146.5,218.3M146.5,218.3l-0.4,-7.2M189.3,218.3L172.9,222.7M172.9,222.7l-3.9,-6.0M213.0,214.0L202.0,227.0M202.0,227.0l-6.7,-2.7M238.8,213.5L229.0,227.4M229.0,227.4l-6.9,-2.1M268.0,216.9L252.6,224.1M252.6,224.1l-4.9,-5.3M293.2,225.9L280.2,215.0M280.2,215.0l2.7,-6.7M282.9,217.2l2.7,-6.7M313.9,212.0L312.4,228.9M312.4,228.9l-7.0,1.6M342.4,212.5L336.6,228.5M336.6,228.5l-7.2,-0.3M363.7,228.7L368.1,212.3M368.1,212.3l4.0,-0.2M390.9,212.1L393.8,228.8M393.8,228.8l-6.4,3.4M410.3,219.7L427.2,221.2M427.2,221.2l1.6,7.0M445.9,212.0L444.4,228.9M444.4,228.9l-7.0,1.6M479.3,216.9L463.9,224.1M463.9,224.1l-4.9,-5.3M506.3,221.9L489.6,219.0M489.6,219.0l-1.0,-7.1M550.0,212.0L551.5,228.9M551.5,228.9l-3.6,1.5M585.4,222.7L569.0,218.3M569.0,218.3l-0.4,-7.2M637.7,224.1L622.3,216.9M622.3,216.9l0.5,-3.9M675.1,216.9L690.5,224.1M690.5,224.1l-0.5,3.9M705.6,212.8L712.8,228.2M712.8,228.2l-2.9,2.7M738.5,212.5L732.7,228.5M732.7,228.5l-7.2,-0.3M768.0,226.5L756.0,214.5M756.0,214.5l3.3,-6.4M796.4,223.4L780.4,217.6M780.4,217.6l0.3,-7.2M823.3,221.2L806.4,219.7M806.4,219.7l-0.9,-3.9M849.7,221.6L832.8,219.3M832.8,219.3l-1.3,-7.1M873.7,226.5L861.6,214.5M861.6,214.5l3.3,-6.4M864.1,216.9l3.3,-6.4M900.6,225.9L887.5,215.0M887.5,215.0l2.7,-6.7M890.2,217.2l2.7,-6.7M928.7,218.3L912.3,222.7M912.3,222.7l-3.9,-6.0M915.6,221.8l-3.9,-6.0M952.9,214.5L940.9,226.5M940.9,226.5l-6.4,-3.3M107.3,227.0L96.4,214.0M96.4,214.0l2.1,-3.4M136.0,262.8L120.6,255.6M120.6,255.6l0.5,-3.9M160.2,265.7L149.2,252.7M149.2,252.7l3.8,-6.1M188.5,254.9L173.7,263.4M173.7,263.4l-2.9,-2.6M212.4,252.2L202.6,266.2M202.6,266.2l-6.9,-2.1M229.7,266.6L238.2,251.8M238.2,251.8l3.9,0.8M263.9,266.9L256.7,251.5M256.7,251.5l5.3,-4.9M292.7,253.2L280.7,265.2M280.7,265.2l-6.4,-3.3M319.1,253.2L307.1,265.2M307.1,265.2l-6.4,-3.3M331.8,255.6L347.2,262.8M347.2,262.8l-0.5,3.9M362.3,266.9L369.5,251.5M369.5,251.5l3.9,0.5M395.9,251.5L388.8,266.9M388.8,266.9l-7.1,-0.9M413.3,252.7L424.2,265.7M424.2,265.7l-2.1,3.4M500.2,267.4L495.8,251.0M495.8,251.0l3.3,-2.2M529.3,252.2L519.5,266.2M519.5,266.2l-6.9,-2.1M558.8,256.3L542.8,262.1M542.8,262.1l-2.4,-3.1M585.1,262.4L569.3,256.0M569.3,256.0l0.3,-4.0M611.3,255.6L595.9,262.8M595.9,262.8l-2.7,-2.9M636.7,254.0L623.3,264.4M623.3,264.4l-6.0,-4.0M626.1,262.3l-3.0,-2.0M663.4,254.3L649.4,264.1M649.4,264.1l-5.8,-4.3M652.3,262.1l-5.8,-4.3M687.7,252.2L677.9,266.2M677.9,266.2l-6.9,-2.1M712.1,251.2L706.3,267.2M706.3,267.2l-4.0,-0.1M743.9,257.4L727.3,261.0M727.3,261.0l-3.6,-6.2M768.0,253.2L756.0,265.2M756.0,265.2l-6.4,-3.3M795.8,263.4L781.1,254.9M781.1,254.9l1.5,-7.0M820.3,265.7L809.4,252.7M809.4,252.7l2.1,-3.4M849.1,262.4L833.4,256.0M833.4,256.0l0.5,-7.2M876.1,259.9L859.2,258.4M859.2,258.4l-1.6,-7.0M862.7,258.8l-1.6,-7.0M901.8,262.8L886.4,255.6M886.4,255.6l0.9,-7.1M889.5,257.1l0.9,-7.1M928.9,258.4L912.0,259.9M912.0,259.9l-2.8,-6.6M915.5,259.6l-2.8,-6.6M954.2,263.4L939.5,254.9M939.5,254.9l1.5,-7.0M942.5,256.7l1.5,-7.0M109.6,262.8L94.2,255.6M94.2,255.6l0.5,-3.9M136.5,294.3L120.1,298.7M120.1,298.7l-2.2,-3.3M160.2,303.1L149.2,290.0M149.2,290.0l3.8,-6.1M186.6,303.1L175.6,290.0M175.6,290.0l2.1,-3.4M205.3,288.3L209.7,304.8M209.7,304.8l-3.3,2.2M229.0,303.5L238.8,289.6M238.8,289.6l3.8,1.2M263.2,288.6L257.4,304.5M257.4,304.5l-7.2,-0.3M316.0,288.6L310.2,304.5M310.2,304.5l-4.0,-0.1M343.1,288.8L335.9,304.2M335.9,304.2l-3.9,-0.5M365.9,288.0L365.9,305.0M365.9,305.0l-3.8,1.2M385.4,291.7L399.3,301.4M399.3,301.4l-1.2,3.8M412.2,291.1L425.3,302.0M425.3,302.0l-1.5,3.7M475.8,289.2L467.3,303.9M467.3,303.9l-3.9,-0.8M500.2,304.8L495.8,288.3M495.8,288.3l3.3,-2.2M524.4,288.0L524.4,305.0M524.4,305.0l-3.8,1.2M558.8,293.6L542.8,299.4M542.8,299.4l-4.4,-5.7M585.4,298.7L569.0,294.3M569.0,294.3l-0.4,-7.2M572.4,295.2l-0.2,-3.6M611.6,293.6L595.6,299.4M595.6,299.4l-4.4,-5.7M598.9,298.3l-4.4,-5.7M602.2,297.1l-2.2,-2.8M637.4,292.3L622.6,300.8M622.6,300.8l-5.4,-4.8M625.7,299.0l-5.4,-4.8M661.3,289.6L651.5,303.5M651.5,303.5l-6.9,-2.1M689.1,290.9L676.5,302.2M676.5,302.2l-6.2,-3.6M679.1,299.9l-3.1,-1.8M714.7,290.0L703.8,303.1M703.8,303.1l-3.7,-1.5M742.3,291.3L728.9,301.8M728.9,301.8l-6.0,-4.0M770.0,299.4L754.0,293.6M754.0,293.6l0.3,-7.2M796.6,294.3L780.2,298.7M780.2,298.7l-3.9,-6.0M820.9,290.5L808.8,302.6M808.8,302.6l-3.5,-1.8M849.1,299.7L833.4,293.4M833.4,293.4l0.3,-4.0M873.3,302.9L862.0,290.2M862.0,290.2l3.6,-6.2M925.9,303.1L915.0,290.0M915.0,290.0l3.8,-6.1M917.3,292.7l3.8,-6.1M951.7,303.5L942.0,289.6M942.0,289.6l4.3,-5.8M944.0,292.4l4.3,-5.8M946.0,295.3l4.3,-5.8M110.1,294.3L93.7,298.7M93.7,298.7l-2.2,-3.3M128.3,324.2L128.3,341.2M128.3,341.2l-3.8,1.2M154.0,324.2L155.4,341.1M155.4,341.1l-3.6,1.5M181.1,324.2L181.1,341.2M181.1,341.2l-3.8,1.2M263.9,324.9L256.7,340.4M256.7,340.4l-3.9,-0.5M320.8,336.2L305.4,329.1M305.4,329.1l0.9,-7.1M339.5,341.2L339.5,324.2M339.5,324.2l3.8,-1.2M371.4,326.1L360.5,339.2M360.5,339.2l-6.7,-2.7M396.3,325.1L388.4,340.2M388.4,340.2l-7.1,-1.3M423.0,325.3L414.5,340.0M414.5,340.0l-7.0,-1.5M446.6,341.0L443.7,324.3M443.7,324.3l3.5,-1.9M529.8,339.2L518.9,326.1M518.9,326.1l3.8,-6.1M579.4,324.4L575.0,340.9M575.0,340.9l-7.2,0.4M575.9,337.5l-7.2,0.4M607.2,324.9L600.0,340.4M600.0,340.4l-7.1,-0.9M601.5,337.2l-7.1,-0.9M603.0,334.0l-3.6,-0.4M634.9,325.7L625.1,339.6M625.1,339.6l-6.9,-2.1M627.1,336.7l-6.9,-2.1M629.1,333.9l-3.4,-1.1M659.3,324.7L653.5,340.6M653.5,340.6l-7.2,-0.3M686.8,325.1L678.8,340.2M678.8,340.2l-7.1,-1.3M680.5,337.1l-3.5,-0.6M716.9,329.1L701.5,336.2M701.5,336.2l-4.9,-5.3M743.8,334.9L727.4,330.5M727.4,330.5l-0.4,-7.2M768.7,327.4L755.3,337.9M755.3,337.9l-6.0,-4.0M795.8,328.4L781.1,336.9M781.1,336.9l-2.9,-2.6M822.5,329.1L807.1,336.2M807.1,336.2l-4.9,-5.3M849.6,334.1L832.9,331.2M832.9,331.2l-1.0,-7.1M866.9,324.2L868.4,341.1M868.4,341.1l-3.6,1.5M895.5,341.0L892.6,324.3M892.6,324.3l6.4,-3.4M893.2,327.7l3.2,-1.7M925.3,339.6L915.6,325.7M915.6,325.7l4.3,-5.8M917.6,328.6l4.3,-5.8M951.1,340.0L942.6,325.3M942.6,325.3l4.8,-5.4M944.4,328.3l4.8,-5.4M101.9,324.2L101.9,341.2M101.9,341.2l-3.8,1.2M187.1,361.6L175.1,373.7M175.1,373.7l-3.5,-1.8M210.4,359.7L204.6,375.6M204.6,375.6l-4.0,-0.1M268.7,369.1L251.9,366.2M251.9,366.2l-0.6,-3.9M294.8,365.0L278.6,370.3M278.6,370.3l-2.3,-3.2M321.3,365.4L304.9,369.8M304.9,369.8l-2.2,-3.3M347.2,364.1L331.8,371.2M331.8,371.2l-2.7,-2.9M374.4,367.6L357.4,367.6M357.4,367.6l-1.2,-3.8M424.8,361.6L412.7,373.7M412.7,373.7l-6.4,-3.3M451.2,373.7L439.1,361.6M439.1,361.6l1.8,-3.5M479.9,366.2L463.2,369.1M463.2,369.1l-3.4,-6.4M498.0,359.1L498.0,376.1M498.0,376.1l-3.8,1.2M522.9,359.3L525.9,376.0M525.9,376.0l-3.5,1.9M546.5,375.0L555.0,360.3M555.0,360.3l3.9,0.8M579.4,359.4L575.0,375.9M575.0,375.9l-7.2,0.4M607.6,360.1L599.6,375.2M599.6,375.2l-7.1,-1.3M638.5,366.9L621.5,368.4M621.5,368.4l-2.8,-6.6M663.8,371.9L649.0,363.4M649.0,363.4l0.8,-3.9M717.1,364.5L701.3,370.8M701.3,370.8l-2.5,-3.0M739.2,359.9L732.0,375.3M732.0,375.3l-3.9,-0.5M762.0,376.1L762.0,359.1M762.0,359.1l6.8,-2.2M762.0,362.6l3.4,-1.1M791.6,375.5L785.3,359.8M785.3,359.8l5.5,-4.6M818.8,375.2L810.9,360.1M810.9,360.1l5.0,-5.2M844.8,375.3L837.7,359.9M837.7,359.9l2.9,-2.7M861.6,373.7L873.7,361.6M873.7,361.6l6.4,3.3M891.2,375.6L897.0,359.7M897.0,359.7l7.2,0.3M895.8,362.9l7.2,0.3M920.9,376.1L920.0,359.2M920.0,359.2l6.7,-2.6M920.2,362.7l6.7,-2.6M949.1,375.9L944.7,359.4M944.7,359.4l6.0,-3.9M945.6,362.8l6.0,-3.9M132.5,394.3L124.0,409.0M124.0,409.0l-3.9,-0.8M162.7,398.7L146.7,404.5M146.7,404.5l-4.4,-5.7M212.4,394.7L202.6,408.6M202.6,408.6l-6.9,-2.1M238.8,394.7L229.0,408.6M229.0,408.6l-6.9,-2.1M261.8,393.3L258.8,410.0M258.8,410.0l-3.9,0.6M317.4,394.3L308.9,409.0M308.9,409.0l-3.9,-0.8M343.1,393.9L335.9,409.3M335.9,409.3l-3.9,-0.5M423.0,394.3L414.5,409.0M414.5,409.0l-3.9,-0.8M453.1,404.5L437.2,398.7M437.2,398.7l0.3,-7.2M440.5,399.9l0.3,-7.2M479.3,405.2L463.9,398.0M463.9,398.0l0.9,-7.1M504.0,395.6L492.0,407.6M492.0,407.6l-3.5,-1.8M531.3,396.8L517.4,406.5M517.4,406.5l-3.2,-2.4M555.7,394.7L545.9,408.6M545.9,408.6l-3.8,-1.2M580.1,409.6L574.3,393.6M574.3,393.6l3.1,-2.4M607.8,409.0L599.3,394.3M599.3,394.3l2.6,-2.9M637.4,405.9L622.6,397.4M622.6,397.4l0.8,-3.9M687.7,394.7L677.9,408.6M677.9,408.6l-3.8,-1.2M717.2,398.7L701.2,404.5M701.2,404.5l-2.4,-3.1M743.8,403.8L727.4,399.4M727.4,399.4l-0.4,-7.2M764.9,409.6L759.1,393.6M759.1,393.6l5.7,-4.4M760.3,396.9l5.7,-4.4M789.9,410.0L787.0,393.3M787.0,393.3l6.4,-3.4M787.6,396.7l6.4,-3.4M817.0,409.8L812.6,393.4M812.6,393.4l6.0,-3.9M813.5,396.8l6.0,-3.9M849.0,405.2L833.5,398.0M833.5,398.0l0.9,-7.1M866.9,410.1L868.4,393.2M868.4,393.2l7.0,-1.6M868.1,396.6l7.0,-1.6M888.6,408.1L899.5,395.1M899.5,395.1l6.7,2.7M897.3,397.8l6.7,2.7M895.0,400.5l6.7,2.7M915.0,408.1L925.9,395.1M925.9,395.1l6.7,2.7M923.7,397.8l6.7,2.7M921.4,400.5l6.7,2.7M943.3,409.3L950.5,393.9M950.5,393.9l7.1,0.9M949.0,397.1l7.1,0.9M106.1,394.3L97.6,409.0M97.6,409.0l-3.9,-0.8M121.8,429.2L134.8,440.2M134.8,440.2l-1.5,3.7M155.0,426.2L154.4,443.2M154.4,443.2l-3.8,1.1M179.9,426.3L182.3,443.1M182.3,443.1l-3.6,1.7M207.8,426.2L207.2,443.2M207.2,443.2l-6.9,2.0M227.9,428.7L239.9,440.7M239.9,440.7l-1.8,3.5M263.2,426.7L257.4,442.7M257.4,442.7l-7.2,-0.3M295.2,435.4L278.3,434.0M278.3,434.0l-1.6,-7.0M281.7,434.3l-1.6,-7.0M321.5,435.9L304.7,433.5M304.7,433.5l-1.3,-7.1M308.2,434.0l-1.3,-7.1M348.0,435.4L331.1,434.0M331.1,434.0l-1.6,-7.0M334.6,434.3l-1.6,-7.0M373.6,431.1L358.2,438.3M358.2,438.3l-4.9,-5.3M399.6,430.2L385.1,439.2M385.1,439.2l-5.5,-4.6M423.0,427.3L414.5,442.1M414.5,442.1l-7.0,-1.5M452.5,438.9L437.8,430.4M437.8,430.4l0.8,-3.9M463.4,436.9L479.8,432.5M479.8,432.5l2.2,3.3M498.0,426.2L498.0,443.2M498.0,443.2l-3.8,1.2M553.7,426.7L547.9,442.7M547.9,442.7l-7.2,-0.3M577.6,426.2L576.7,443.2M576.7,443.2l-3.8,1.0M638.5,435.4L621.5,434.0M621.5,434.0l-0.9,-3.9M655.7,426.2L657.1,443.2M657.1,443.2l-3.6,1.5M712.8,442.4L705.6,427.0M705.6,427.0l2.9,-2.7M734.9,443.2L736.4,426.2M736.4,426.2l7.0,-1.6M763.1,443.1L761.0,426.3M761.0,426.3l6.5,-3.0M761.4,429.7l6.5,-3.0M790.3,443.0L786.5,426.4M786.5,426.4l6.2,-3.7M787.3,429.8l6.2,-3.7M817.7,442.7L811.9,426.7M811.9,426.7l5.7,-4.4M813.1,430.0l5.7,-4.4M814.3,433.3l2.8,-2.2M847.3,440.7L835.2,428.7M835.2,428.7l3.3,-6.4M871.9,442.1L863.4,427.3M863.4,427.3l4.8,-5.4M865.2,430.4l4.8,-5.4M866.9,433.4l4.8,-5.4M899.3,441.4L888.8,428.0M888.8,428.0l4.0,-6.0M891.0,430.8l4.0,-6.0M893.1,433.5l2.0,-3.0M928.7,432.5L912.3,436.9M912.3,436.9l-3.9,-6.0M915.6,436.0l-3.9,-6.0M951.1,427.3L942.6,442.1M942.6,442.1l-7.0,-1.5M944.4,439.0l-7.0,-1.5M95.4,429.2L108.4,440.2M108.4,440.2l-1.5,3.7M122.8,473.4L133.7,460.4M133.7,460.4l6.7,2.7M159.2,474.1L150.2,459.7M150.2,459.7l2.5,-3.0M185.1,459.4L177.1,474.4M177.1,474.4l-3.9,-0.7M211.1,459.2L203.9,474.6M203.9,474.6l-3.9,-0.5M234.9,458.5L232.9,475.4M232.9,475.4l-3.9,0.8M266.5,461.1L254.1,472.7M254.1,472.7l-3.5,-1.9M294.7,464.0L278.7,469.8M278.7,469.8l-4.4,-5.7M321.6,467.7L304.7,466.2M304.7,466.2l-1.6,-7.0M308.1,466.5l-0.8,-3.5M347.2,470.5L331.8,463.3M331.8,463.3l0.9,-7.1M335.0,464.8l0.9,-7.1M373.9,469.8L358.0,464.0M358.0,464.0l0.3,-7.2M361.2,465.2l0.1,-3.6M400.8,466.2L383.9,467.7M383.9,467.7l-2.8,-6.6M427.3,466.9L410.3,466.9M410.3,466.9l-2.2,-6.8M452.9,470.5L437.5,463.3M437.5,463.3l0.9,-7.1M480.0,466.2L463.1,467.7M463.1,467.7l-2.8,-6.6M503.4,460.4L492.5,473.4M492.5,473.4l-3.7,-1.5M550.0,458.5L551.5,475.4M551.5,475.4l-3.6,1.5M584.5,462.7L569.8,471.2M569.8,471.2l-2.9,-2.6M603.6,458.4L603.6,475.4M603.6,475.4l-3.8,1.2M651.2,473.6L661.6,460.2M661.6,460.2l3.7,1.4M678.6,474.3L687.1,459.6M687.1,459.6l7.0,1.5M705.0,474.3L713.5,459.6M713.5,459.6l7.0,1.5M734.1,475.3L737.1,458.6M737.1,458.6l7.1,-1.0M762.0,475.4L762.0,458.4M762.0,458.4l6.8,-2.2M762.0,461.9l6.8,-2.2M789.9,475.3L787.0,458.6M787.0,458.6l6.4,-3.4M787.6,462.0l6.4,-3.4M788.2,465.5l3.2,-1.7M817.3,475.1L812.4,458.8M812.4,458.8l5.9,-4.1M813.4,462.2l5.9,-4.1M814.4,465.5l2.9,-2.1M845.9,474.1L836.6,459.8M836.6,459.8l4.5,-5.6M838.5,462.7l4.5,-5.6M840.4,465.7l4.5,-5.6M874.6,471.8L860.7,462.1M860.7,462.1l2.1,-6.9M863.6,464.1l2.1,-6.9M866.4,466.1l2.1,-6.9M902.0,469.8L886.1,464.0M886.1,464.0l0.3,-7.2M927.0,461.5L914.0,472.4M914.0,472.4l-6.1,-3.8M953.8,462.1L939.9,471.8M939.9,471.8l-5.8,-4.3M96.4,473.4L107.3,460.4M107.3,460.4l6.7,2.7M135.2,503.3L121.3,493.6M121.3,493.6l1.2,-3.8M214.5,493.6L200.5,503.3M200.5,503.3l-3.2,-2.4M239.9,492.4L227.9,504.4M227.9,504.4l-3.5,-1.8M267.1,493.3L253.5,503.5M253.5,503.5l-3.2,-2.3M294.7,501.3L278.7,495.5M278.7,495.5l0.3,-7.2M321.3,500.6L304.9,496.2M304.9,496.2l-0.4,-7.2M308.3,497.1l-0.2,-3.6M347.7,500.6L331.3,496.2M331.3,496.2l-0.4,-7.2M334.7,497.1l-0.4,-7.2M374.3,499.9L357.6,497.0M357.6,497.0l-1.0,-7.1M361.0,497.6l-1.0,-7.1M400.6,496.2L384.1,500.6M384.1,500.6l-3.9,-6.0M423.0,505.8L414.5,491.1M414.5,491.1l2.6,-2.9M453.3,500.9L437.0,495.9M437.0,495.9l-0.1,-7.2M440.4,497.0l-0.1,-7.2M471.9,489.9L471.3,506.9M471.3,506.9l-3.8,1.1M498.0,489.9L498.0,506.9M498.0,506.9l-3.8,1.2M516.2,496.2L532.6,500.6M532.6,500.6l0.2,4.0M550.8,489.9L550.8,506.9M550.8,506.9l-3.8,1.2M578.7,490.1L575.7,506.8M575.7,506.8l-3.9,0.6M599.7,506.0L607.5,490.9M607.5,490.9l3.9,0.6M628.5,506.8L631.5,490.1M631.5,490.1l3.9,-0.6M652.2,505.8L660.7,491.1M660.7,491.1l7.0,1.5M678.6,505.8L687.1,491.1M687.1,491.1l3.9,0.8M734.1,506.8L737.1,490.1M737.1,490.1l7.1,-1.0M761.6,506.9L762.5,489.9M762.5,489.9l7.0,-1.9M762.3,493.4l7.0,-1.9M789.9,506.8L787.0,490.1M787.0,490.1l6.4,-3.4M787.6,493.5l6.4,-3.4M788.2,497.0l3.2,-1.7M817.7,506.4L811.9,490.4M811.9,490.4l5.7,-4.4M813.1,493.7l5.7,-4.4M814.3,497.0l2.8,-2.2M846.4,505.2L836.1,491.6M836.1,491.6l4.1,-5.9M838.2,494.4l4.1,-5.9M874.6,503.3L860.7,493.6M860.7,493.6l2.1,-6.9M863.6,495.6l2.1,-6.9M866.4,497.6l2.1,-6.9M901.4,494.2L886.7,502.7M886.7,502.7l-5.4,-4.8M889.7,500.9l-5.4,-4.8M892.8,499.2l-5.4,-4.8M928.7,496.2L912.3,500.6M912.3,500.6l-3.9,-6.0M915.6,499.7l-3.9,-6.0M954.9,495.5L938.9,501.3M938.9,501.3l-4.4,-5.7M942.2,500.1l-4.4,-5.7M108.8,503.3L94.9,493.6M94.9,493.6l1.2,-3.8M135.2,534.1L121.3,524.4M121.3,524.4l2.1,-6.9M159.6,536.2L149.8,522.3M149.8,522.3l2.4,-3.2M178.2,521.2L184.0,537.2M184.0,537.2l-3.1,2.4M207.9,520.7L207.1,537.7M207.1,537.7l-3.8,1.0M231.7,537.4L236.1,521.0M236.1,521.0l4.0,-0.2M291.6,536.2L281.8,522.3M281.8,522.3l4.3,-5.8M321.6,530.0L304.7,528.5M304.7,528.5l-1.6,-7.0M342.7,537.1L336.3,521.4M336.3,521.4l5.5,-4.6M374.1,531.4L357.7,527.0M357.7,527.0l-0.4,-7.2M398.4,535.2L386.3,523.2M386.3,523.2l1.8,-3.5M424.8,535.2L412.7,523.2M412.7,523.2l1.8,-3.5M478.9,525.0L464.2,533.5M464.2,533.5l-5.4,-4.8M489.5,528.9L506.5,529.5M506.5,529.5l1.1,3.8M515.9,529.5L532.9,528.9M532.9,528.9l1.4,3.7M558.1,533.5L543.4,525.0M543.4,525.0l0.8,-3.9M582.1,536.2L572.3,522.3M572.3,522.3l2.4,-3.2M605.8,537.4L601.4,521.0M601.4,521.0l3.3,-2.2M628.2,537.6L631.8,520.9M631.8,520.9l7.2,-0.8M652.8,536.9L660.0,521.5M660.0,521.5l3.9,0.5M676.1,534.5L689.5,524.0M689.5,524.0l6.0,4.0M710.0,520.8L708.5,537.7M708.5,537.7l-3.9,0.9M763.8,537.6L760.3,520.9M760.3,520.9l6.2,-3.6M761.0,524.3l6.2,-3.6M790.6,537.4L786.2,521.0M786.2,521.0l6.0,-3.9M787.1,524.4l6.0,-3.9M818.2,537.1L811.5,521.4M811.5,521.4l5.4,-4.7M812.9,524.6l5.4,-4.7M846.7,535.7L835.8,522.7M835.8,522.7l3.8,-6.1M838.0,525.4l3.8,-6.1M873.9,535.0L861.4,523.4M861.4,523.4l3.0,-6.5M864.0,525.8l3.0,-6.5M901.8,525.6L886.4,532.8M886.4,532.8l-4.9,-5.3M889.5,531.4l-2.5,-2.6M928.8,527.8L912.1,530.7M912.1,530.7l-3.4,-6.4M954.9,526.3L938.9,532.1M938.9,532.1l-4.4,-5.7M942.2,530.9l-2.2,-2.8M108.8,534.1L94.9,524.4M94.9,524.4l2.1,-6.9M162.7,562.3L146.7,556.5M146.7,556.5l0.1,-4.0M188.8,563.0L173.4,555.8M173.4,555.8l0.5,-3.9M215.7,561.6L199.3,557.2M199.3,557.2l-0.2,-4.0M233.2,551.0L234.6,567.9M234.6,567.9l-3.6,1.5M267.7,563.7L253.0,555.2M253.0,555.2l0.8,-3.9M313.1,567.9L313.1,550.9M313.1,550.9l3.8,-1.2M338.1,567.8L341.0,551.1M341.0,551.1l3.9,-0.6M364.5,567.8L367.4,551.1M367.4,551.1l3.9,-0.6M396.6,566.8L388.1,552.1M388.1,552.1l2.6,-2.9M422.3,551.7L415.2,567.1M415.2,567.1l-3.9,-0.5M446.6,551.1L443.7,567.8M443.7,567.8l-7.1,1.0M471.6,550.9L471.6,567.9M471.6,567.9l-3.8,1.2M505.3,563.7L490.6,555.2M490.6,555.2l0.8,-3.9M532.7,560.9L516.0,558.0M516.0,558.0l-0.6,-3.9M598.1,565.9L609.1,552.9M609.1,552.9l3.7,1.5M629.3,567.9L630.7,551.0M630.7,551.0l3.9,-0.9M682.4,567.9L683.3,550.9M683.3,550.9l3.8,-1.0M711.4,567.6L707.0,551.2M707.0,551.2l3.3,-2.2M737.1,567.8L734.1,551.1M734.1,551.1l3.5,-1.9M759.1,567.4L764.9,551.4M764.9,551.4l7.2,0.3M763.7,554.7l7.2,0.3M787.7,567.9L789.2,551.0M789.2,551.0l7.0,-1.6M788.9,554.5l7.0,-1.6M817.0,567.6L812.6,551.2M812.6,551.2l6.0,-3.9M813.5,554.6l3.0,-2.0M846.1,566.4L836.4,552.5M836.4,552.5l4.3,-5.8M875.0,563.7L860.3,555.2M860.3,555.2l1.5,-7.0M898.9,552.5L889.2,566.4M889.2,566.4l-6.9,-2.1M916.2,552.1L924.7,566.8M924.7,566.8l-4.8,5.4M951.7,566.4L942.0,552.5M942.0,552.5l4.3,-5.8M162.7,592.0L146.7,586.2M146.7,586.2l0.1,-4.0M188.7,592.9L173.5,585.2M173.5,585.2l0.6,-3.9M215.8,591.0L199.2,587.2M199.2,587.2l-0.3,-3.9M242.3,590.3L225.5,587.9M225.5,587.9l-0.7,-3.9M268.8,589.5L251.8,588.6M251.8,588.6l-1.0,-3.8M295.0,587.3L278.4,590.8M278.4,590.8l-2.0,-3.4M317.6,596.3L308.6,581.9M308.6,581.9l2.5,-3.0M331.8,592.7L347.2,585.5M347.2,585.5l2.7,2.9M361.1,596.0L370.8,582.1M370.8,582.1l3.8,1.2M396.3,596.6L388.4,581.6M388.4,581.6l2.8,-2.8M423.0,596.4L414.5,581.7M414.5,581.7l2.6,-2.9M453.5,590.5L436.8,587.6M436.8,587.6l-0.6,-3.9M478.9,593.3L464.2,584.8M464.2,584.8l0.8,-3.9M550.0,597.5L551.5,580.6M551.5,580.6l3.9,-0.9M576.7,597.6L577.6,580.6M577.6,580.6l3.8,-1.0M601.4,597.3L605.8,580.9M605.8,580.9l4.0,-0.2M628.5,597.4L631.5,580.7M631.5,580.7l3.9,-0.6M649.7,594.3L663.1,583.8M663.1,583.8l3.3,2.2M683.3,597.6L682.4,580.6M682.4,580.6l6.7,-2.6M707.0,597.3L711.4,580.9M711.4,580.9l4.0,-0.2M728.3,593.3L743.0,584.8M743.0,584.8l5.4,4.8M740.0,586.6l5.4,4.8M736.9,588.3l2.7,2.4M756.3,595.4L767.7,582.8M767.7,582.8l6.6,2.9M765.4,585.4l6.6,2.9M781.9,594.5L794.9,583.6M794.9,583.6l6.1,3.8M792.3,585.9l3.1,1.9M809.4,595.6L820.3,582.6M820.3,582.6l6.7,2.7M833.7,592.9L848.8,585.2M848.8,585.2l2.8,2.8M863.4,596.4L871.9,581.7M871.9,581.7l3.9,0.8M889.8,596.4L898.3,581.7M898.3,581.7l7.0,1.5M917.6,597.1L923.4,581.1M923.4,581.1l7.2,0.3M922.2,584.4l3.6,0.1M941.4,595.6L952.3,582.6M952.3,582.6l6.7,2.7M121.8,623.7L134.8,612.7M134.8,612.7l3.4,2.1M146.4,620.1L163.0,616.3M163.0,616.3l2.0,3.4M186.6,624.7L175.6,611.7M175.6,611.7l2.1,-3.4M215.5,621.1L199.5,615.3M199.5,615.3l0.1,-4.0M241.8,621.4L226.0,615.0M226.0,615.0l0.3,-4.0M267.4,622.8L253.2,613.6M253.2,613.6l1.0,-3.8M288.9,626.4L284.5,610.0M284.5,610.0l3.3,-2.2M314.6,626.6L311.7,609.8M311.7,609.8l3.5,-1.9M341.7,626.4L337.3,610.0M337.3,610.0l3.3,-2.2M363.0,626.2L368.8,610.2M368.8,610.2l4.0,0.1M384.0,616.7L400.7,619.7M400.7,619.7l0.6,3.9M412.1,623.4L425.4,613.0M425.4,613.0l3.3,2.2M476.4,625.2L466.7,611.2M466.7,611.2l2.4,-3.2M501.6,610.5L494.4,625.9M494.4,625.9l-3.9,-0.5M516.7,621.8L532.1,614.6M532.1,614.6l2.7,2.9M572.9,625.6L581.4,610.8M581.4,610.8l7.0,1.5M608.7,625.0L598.5,611.4M598.5,611.4l2.3,-3.2M654.2,626.4L658.6,610.0M658.6,610.0l7.2,-0.4M686.4,625.9L679.2,610.5M679.2,610.5l5.3,-4.9M702.3,623.1L716.2,613.3M716.2,613.3l5.8,4.3M713.3,615.3l2.9,2.2M729.1,623.7L742.1,612.7M742.1,612.7l6.1,3.8M739.5,615.0l6.1,3.8M756.6,624.7L767.5,611.7M767.5,611.7l6.7,2.7M765.2,614.4l3.3,1.3M780.6,621.4L796.3,615.0M796.3,615.0l4.6,5.5M793.1,616.3l2.3,2.8M807.0,621.4L822.7,615.0M822.7,615.0l4.6,5.5M819.5,616.3l2.3,2.8M833.5,621.8L849.0,614.6M849.0,614.6l4.9,5.3M845.8,616.1l2.5,2.6M861.6,624.2L873.7,612.2M873.7,612.2l6.4,3.3M871.2,614.7l6.4,3.3M888.0,624.2L900.1,612.2M900.1,612.2l6.4,3.3M897.6,614.7l6.4,3.3M913.8,623.4L927.2,613.0M927.2,613.0l6.0,4.0M924.4,615.1l3.0,2.0M938.9,621.1L954.9,615.3M954.9,615.3l4.4,5.7M951.6,616.5l2.2,2.8M95.4,623.7L108.4,612.7M108.4,612.7l3.4,2.1M120.1,644.7L136.5,649.1M136.5,649.1l0.2,4.0M146.6,649.5L162.8,644.3M162.8,644.3l2.3,3.2M181.1,655.4L181.1,638.4M181.1,638.4l3.8,-1.2M207.5,655.4L207.5,638.4M207.5,638.4l6.8,-2.2M233.2,655.4L234.6,638.4M234.6,638.4l3.9,-0.9M260.3,655.4L260.3,638.4M260.3,638.4l3.8,-1.2M286.7,655.4L286.7,638.4M286.7,638.4l3.8,-1.2M314.6,655.3L311.7,638.5M311.7,638.5l6.4,-3.4M340.0,655.4L339.1,638.4M339.1,638.4l6.7,-2.6M370.4,654.1L361.4,639.7M361.4,639.7l2.5,-3.0M388.1,654.3L396.6,639.5M396.6,639.5l3.9,0.8M422.6,654.5L414.9,639.3M414.9,639.3l2.8,-2.8M437.5,643.3L452.9,650.5M452.9,650.5l-0.5,3.9M472.0,638.4L471.1,655.4M471.1,655.4l-3.8,1.0M518.9,653.4L529.8,640.4M529.8,640.4l3.7,1.5M544.8,652.9L556.8,640.9M556.8,640.9l3.5,1.8M579.4,655.1L575.0,638.7M575.0,638.7l3.3,-2.2M602.1,655.3L605.1,638.5M605.1,638.5l7.1,-1.0M624.0,652.9L636.0,640.9M636.0,640.9l6.4,3.3M675.6,651.4L690.0,642.4M690.0,642.4l5.5,4.6M687.1,644.2l5.5,4.6M684.1,646.1l2.8,2.3M704.0,653.6L714.5,640.2M714.5,640.2l6.8,2.5M712.3,643.0l6.8,2.5M710.1,645.7l3.4,1.2M735.2,655.4L736.1,638.4M736.1,638.4l7.0,-1.9M735.9,641.9l7.0,-1.9M754.1,650.1L769.9,643.7M769.9,643.7l4.6,5.5M766.7,645.0l4.6,5.5M763.4,646.3l2.3,2.8M780.6,650.1L796.3,643.7M796.3,643.7l4.6,5.5M793.1,645.0l4.6,5.5M807.0,650.1L822.7,643.7M822.7,643.7l4.6,5.5M819.5,645.0l4.6,5.5M834.3,651.8L848.2,642.0M848.2,642.0l5.8,4.3M845.3,644.0l5.8,4.3M842.5,646.0l2.9,2.2M860.7,651.8L874.6,642.0M874.6,642.0l5.8,4.3M871.7,644.0l5.8,4.3M868.9,646.0l2.9,2.2M887.4,652.1L900.8,641.7M900.8,641.7l6.0,4.0M898.0,643.8l6.0,4.0M913.1,651.1L927.8,642.6M927.8,642.6l5.4,4.8M924.8,644.4l5.4,4.8M921.8,646.1l2.7,2.4M939.0,650.1L954.8,643.7M954.8,643.7l4.6,5.5M951.5,645.0l4.6,5.5M93.7,644.7L110.1,649.1M110.1,649.1l0.2,4.0M121.3,670.3L135.2,680.1M135.2,680.1l-1.2,3.8M148.2,669.7L161.2,680.7M161.2,680.7l-1.5,3.7M172.6,675.9L189.6,674.4M189.6,674.4l1.5,3.6M207.5,683.7L207.5,666.7M207.5,666.7l3.8,-1.2M230.3,682.9L237.5,667.5M237.5,667.5l3.9,0.5M263.2,683.2L257.4,667.2M257.4,667.2l3.1,-2.4M286.7,683.7L286.7,666.7M286.7,666.7l6.8,-2.2M286.7,670.2l3.4,-1.1M313.1,683.7L313.1,666.7M313.1,666.7l6.8,-2.2M313.1,670.2l6.8,-2.2M340.0,683.7L339.1,666.7M339.1,666.7l6.7,-2.6M339.3,670.2l6.7,-2.6M367.0,683.6L364.9,666.8M364.9,666.8l6.5,-3.0M365.3,670.2l3.3,-1.5M397.8,668.7L386.9,681.7M386.9,681.7l-3.7,-1.5M419.2,683.7L418.3,666.7M418.3,666.7l3.7,-1.4M453.4,677.1L436.9,673.3M436.9,673.3l-0.3,-3.9M489.7,677.0L506.3,673.4M506.3,673.4l2.0,3.4M548.6,683.4L553.0,667.0M553.0,667.0l7.2,-0.4M571.7,681.7L582.7,668.7M582.7,668.7l6.7,2.7M580.4,671.4l6.7,2.7M578.2,674.0l3.3,1.3M622.5,679.2L637.5,671.2M637.5,671.2l5.2,5.0M634.4,672.8l5.2,5.0M631.3,674.5l2.6,2.5M650.4,681.2L662.4,669.2M662.4,669.2l6.4,3.3M659.9,671.7l6.4,3.3M657.5,674.1l3.2,1.6M677.0,681.4L688.6,669.0M688.6,669.0l6.5,3.0M686.2,671.5l6.5,3.0M683.8,674.1l3.3,1.5M703.4,681.4L715.0,669.0M715.0,669.0l6.5,3.0M712.6,671.5l6.5,3.0M710.2,674.1l3.3,1.5M727.9,678.8L743.3,671.6M743.3,671.6l4.9,5.3M740.2,673.1l4.9,5.3M754.1,678.4L769.9,672.0M769.9,672.0l4.6,5.5M766.7,673.3l4.6,5.5M780.2,677.4L796.6,673.0M796.6,673.0l3.9,6.0M793.3,673.9l3.9,6.0M789.9,674.8l3.9,6.0M807.1,678.8L822.5,671.6M822.5,671.6l4.9,5.3M819.4,673.1l4.9,5.3M834.3,680.1L848.2,670.3M848.2,670.3l5.8,4.3M845.3,672.3l5.8,4.3M860.7,680.1L874.6,670.3M874.6,670.3l5.8,4.3M871.7,672.3l5.8,4.3M886.4,678.8L901.8,671.6M901.8,671.6l4.9,5.3M898.6,673.1l4.9,5.3M895.4,674.6l2.5,2.6M912.3,677.4L928.7,673.0M928.7,673.0l3.9,6.0M925.3,673.9l3.9,6.0M921.9,674.8l3.9,6.0M939.2,678.8L954.6,671.6M954.6,671.6l4.9,5.3M951.4,673.1l4.9,5.3M94.9,670.3L108.8,680.1M108.8,680.1l-1.2,3.8M119.8,702.4L136.8,703.9M136.8,703.9l0.9,3.9M146.4,704.9L163.0,701.3M163.0,701.3l3.6,6.2M176.0,709.9L186.2,696.3M186.2,696.3l3.7,1.3M207.1,711.6L207.9,694.6M207.9,694.6l3.8,-1.0M233.9,711.6L233.9,694.6M233.9,694.6l3.8,-1.2M257.1,711.0L263.5,695.2M263.5,695.2l7.2,0.5M262.2,698.5l3.6,0.3M280.4,708.8L293.0,697.4M293.0,697.4l6.2,3.6M309.9,711.0L316.3,695.2M316.3,695.2l7.2,0.5M315.0,698.5l7.2,0.5M337.8,711.4L341.3,694.8M341.3,694.8l7.2,-0.8M340.6,698.2l3.6,-0.4M368.1,711.3L363.7,694.9M363.7,694.9l6.0,-3.9M364.6,698.3l3.0,-2.0M393.8,711.5L390.9,694.7M390.9,694.7l6.4,-3.4M391.5,698.2l3.2,-1.7M453.6,703.9L436.7,702.4M436.7,702.4l-0.9,-3.9M468.7,711.1L474.5,695.1M474.5,695.1l4.0,0.1M504.0,709.1L492.0,697.1M492.0,697.1l1.8,-3.5M520.8,710.8L528.0,695.4M528.0,695.4l3.9,0.5M555.7,710.1L545.9,696.2M545.9,696.2l2.4,-3.2M571.5,709.4L582.9,696.8M582.9,696.8l6.6,2.9M598.1,709.6L609.1,696.6M609.1,696.6l6.7,2.7M606.8,699.3l6.7,2.7M604.6,702.0l3.3,1.3M624.0,709.1L636.0,697.1M636.0,697.1l6.4,3.3M633.5,699.6l6.4,3.3M631.1,702.1l6.4,3.3M650.9,709.6L661.9,696.6M661.9,696.6l6.7,2.7M659.6,699.3l6.7,2.7M657.4,702.0l6.7,2.7M677.6,709.8L688.0,696.4M688.0,696.4l6.8,2.5M685.9,699.2l6.8,2.5M683.7,701.9l6.8,2.5M703.0,708.9L715.4,697.3M715.4,697.3l6.3,3.5M712.9,699.7l6.3,3.5M710.3,702.1l6.3,3.5M730.2,709.6L741.1,696.6M741.1,696.6l6.7,2.7M738.8,699.3l6.7,2.7M736.6,702.0l6.7,2.7M770.4,704.6L753.7,701.6M753.7,701.6l-1.0,-7.1M780.7,706.7L796.1,699.5M796.1,699.5l4.9,5.3M793.0,701.0l4.9,5.3M789.8,702.5l4.9,5.3M809.0,709.3L820.6,696.9M820.6,696.9l6.5,3.0M818.3,699.5l6.5,3.0M815.9,702.0l6.5,3.0M834.3,708.0L848.2,698.2M848.2,698.2l5.8,4.3M845.3,700.2l5.8,4.3M842.5,702.3l2.9,2.2M859.9,706.7L875.4,699.5M875.4,699.5l4.9,5.3M872.2,701.0l4.9,5.3M869.0,702.5l2.5,2.6M886.4,706.7L901.8,699.5M901.8,699.5l4.9,5.3M898.6,701.0l4.9,5.3M912.8,706.7L928.2,699.5M928.2,699.5l4.9,5.3M925.0,701.0l4.9,5.3M921.8,702.5l2.5,2.6M939.5,707.4L954.2,698.9M954.2,698.9l5.4,4.8M951.2,700.6l5.4,4.8M93.4,702.4L110.3,703.9M110.3,703.9l0.9,3.9" fill="none" stroke="#0c0c0c" stroke-opacity="0.9" stroke-width="1.25" stroke-linecap="butt" stroke-linejoin="miter"/>
<text class="cl" transform="translate(161,196) rotate(25)" y="2.5">920</text>
<text class="cl" transform="translate(388.4,162.4) rotate(5)" y="2.5">880</text>
<text class="cl" transform="translate(434.3,170.5) rotate(-25)" y="2.5">800</text>
<text class="cl" transform="translate(316,183.7) rotate(0)" y="2.5">750</text>
<text class="cl" transform="translate(339.5,209) rotate(5)" y="2.5">750</text>
<text class="cl" transform="translate(359.5,215) rotate(70)" y="2.5">800</text>
<text class="cl" transform="translate(364,237.7) rotate(80)" y="2.5">760</text>
<text class="cl" transform="translate(462.8,224.5) rotate(60)" y="2.5">750</text>
<text class="cl" transform="translate(480,234.7) rotate(45)" y="2.5">760</text>
<text class="cl" transform="translate(566.4,211.2) rotate(-60)" y="2.5">840</text>
<text class="cl" transform="translate(708.4,144) rotate(0)" y="2.5">920</text>
<text class="cl" transform="translate(926.5,107.8) rotate(0)" y="2.5">880</text>
<text class="cl" transform="translate(937.7,133.8) rotate(-80)" y="2.5">920</text>
<text class="cl" transform="translate(763.5,230.6) rotate(-75)" y="2.5">960</text>
<text class="cl" transform="translate(210,271) rotate(-15)" y="2.5">840</text>
<text class="cl" transform="translate(152.6,314.7) rotate(-8)" y="2.5">840</text>
<text class="cl" transform="translate(193.7,345.8) rotate(-50)" y="2.5">750</text>
<text class="cl" transform="translate(293.5,259.3) rotate(0)" y="2.5">960</text>
<text class="cl" transform="translate(279.3,303) rotate(10)" y="2.5">750</text>
<text class="cl" transform="translate(279.3,323.4) rotate(-5)" y="2.5">760</text>
<text class="cl" transform="translate(313.9,381.5) rotate(-25)" y="2.5">880</text>
<text class="cl" transform="translate(302.7,396.8) rotate(-15)" y="2.5">760</text>
<text class="cl" transform="translate(414.9,283.7) rotate(0)" y="2.5">840</text>
<text class="cl" transform="translate(385.4,299.6) rotate(10)" y="2.5">840</text>
<text class="cl" transform="translate(413.9,314.7) rotate(0)" y="2.5">880</text>
<text class="cl" transform="translate(348.3,328.1) rotate(0)" y="2.5">920</text>
<text class="cl" transform="translate(316,379.4) rotate(-20)" y="2.5">880</text>
<text class="cl" transform="translate(649.4,270.5) rotate(-75)" y="2.5">880</text>
<text class="cl" transform="translate(586.2,363.2) rotate(-40)" y="2.5">880</text>
<text class="cl" transform="translate(836.4,326.5) rotate(-30)" y="2.5">920</text>
<text class="cl" transform="translate(932.2,270.5) rotate(-65)" y="2.5">960</text>
<text class="cl" transform="translate(861.3,342.4) rotate(-80)" y="2.5">960</text>
<text class="cl" transform="translate(269,408) rotate(-20)" y="2.5">800</text>
<text class="cl" transform="translate(285.4,419.4) rotate(-18)" y="2.5">600</text>
<text class="cl" transform="translate(316,480.5) rotate(0)" y="2.5">550</text>
<text class="cl" transform="translate(246.7,522.2) rotate(10)" y="2.5">550</text>
<text class="cl" transform="translate(213,541.6) rotate(20)" y="2.5">880</text>
<text class="cl" transform="translate(367,417.3) rotate(40)" y="2.5">650</text>
<text class="cl" transform="translate(425,408) rotate(5)" y="2.5">650</text>
<text class="cl" transform="translate(271,567) rotate(20)" y="2.5">920</text>
<text class="cl" transform="translate(200.8,638.5) rotate(50)" y="2.5">960</text>
<text class="cl" transform="translate(249.7,636.5) rotate(15)" y="2.5">960</text>
<text class="cl" transform="translate(224.3,679.3) rotate(-65)" y="2.5">960</text>
<text class="cl" transform="translate(408.8,582.5) rotate(30)" y="2.5">920</text>
<text class="cl" transform="translate(385.4,620.2) rotate(0)" y="2.5">920</text>
<text class="cl" transform="translate(867,658.9) rotate(-12)" y="2.5">1016</text>
<text class="cl" transform="translate(760.5,647.7) rotate(-65)" y="2.5">1016</text>
<text class="cl" transform="translate(913.2,480.5) rotate(-15)" y="2.5">1000</text>
<text class="cl" transform="translate(705.4,584.5) rotate(0)" y="2.5">960</text>
<text class="cl" transform="translate(724.6,554.5) rotate(0)" y="2.5">960</text>
<text class="cl" transform="translate(734,505) rotate(45)" y="2.5">1024</text>
<text class="city" x="307.8" y="303.2">乌鲁木齐</text>
<text class="city" x="822.7" y="267.1">哈尔滨</text>
<text class="city" x="805" y="301.8">长春</text>
<text class="city" x="779.9" y="338.8">沈阳</text>
<text class="city" x="354.3" y="537.0">拉萨</text>
<text class="city" x="494.5" y="427.8">西宁</text>
<text class="city" x="519.9" y="436.6">兰州</text>
<text class="city" x="553.7" y="397.2">银川</text>
<text class="city" x="588.7" y="465.7">西安</text>
<text class="city" x="524.2" y="522.2">成都</text>
<text class="city" x="624.6" y="356.0">呼和浩特</text>
<text class="city" x="687.1" y="372.3">北京</text>
<text class="city" x="697.3" y="385.5">天津</text>
<text class="city" x="661.5" y="402.6">石家庄</text>
<text class="city" x="637.2" y="406.5">太原</text>
<text class="city" x="695.4" y="426.8">济南</text>
<text class="city" x="650.9" y="458.0">郑州</text>
<text class="city" x="699" y="503.4">合肥</text>
<text class="city" x="718.3" y="500.6">南京</text>
<text class="city" x="659.6" y="523.6">武汉</text>
<text class="city" x="556.8" y="538.7">重庆</text>
<text class="city" x="642.3" y="559.2">长沙</text>
<text class="city" x="680.6" y="552.3">南昌</text>
<text class="city" x="736.9" y="528.3">杭州</text>
<text class="city" x="754.9" y="512.9">上海</text>
<text class="city" x="559.6" y="583.9">贵阳</text>
<text class="city" x="725.7" y="591.0">福州</text>
<text class="city" x="580.4" y="638.3">南宁</text>
<text class="city" x="646" y="633.8">广州</text>
<text class="city" x="657.2" y="644.4">香港</text>
<text class="city" x="649.5" y="654.8">澳门</text>
<text class="city" x="606.7" y="677.0">海口</text>
<text class="city" x="506.7" y="605.7">昆明</text>
<text class="city" x="755.1" y="605.7">台北</text>
</g>
<rect x="108.05" y="94.5" width="842.5" height="615.9" fill="none" stroke="#3a3a3a" stroke-width="1.1"/>
<text class="tk" transform="translate(194.3,721.5) scale(0.8,1)" text-anchor="middle">79°E</text>
<text class="tk" transform="translate(365.9,721.5) scale(0.8,1)" text-anchor="middle">92°E</text>
<text class="tk" transform="translate(537.6,721.5) scale(0.8,1)" text-anchor="middle">105°E</text>
<text class="tk" transform="translate(709.2,721.5) scale(0.8,1)" text-anchor="middle">118°E</text>
<text class="tk" transform="translate(880.9,721.5) scale(0.8,1)" text-anchor="middle">131°E</text>
<text class="tk" transform="translate(102.4,136.6) rotate(-90) scale(0.8,1)" text-anchor="end">52°N</text>
<text class="tk" transform="translate(102.4,313.1) rotate(-90) scale(0.8,1)" text-anchor="end">43°N</text>
<text class="tk" transform="translate(102.4,465.3) rotate(-90) scale(0.8,1)" text-anchor="end">34°N</text>
<text class="tk" transform="translate(102.4,602.1) rotate(-90) scale(0.8,1)" text-anchor="end">25°N</text>
<text class="cj b" y="57.8" font-size="18.4" fill="#111"><tspan x="357.4">污染物浓度与气象场空间分布图（</tspan><tspan x="633.6" letter-spacing="0.9" font-size="19">PM</tspan><tspan x="664.6" font-family="DejaVu Sans Mono,Liberation Mono,monospace" font-weight="normal" font-size="12.9" dy="4.6" letter-spacing="0.5">2.5</tspan><tspan dy="-4.6" x="694.6">）</tspan></text>
<text class="cj b" x="108" y="89.6" font-size="11" fill="#111">监测时间：<tspan letter-spacing="0.55" dx="-1">2025-12-17 13:00</tspan></text>
<text class="cj b" x="108" y="738.3" font-size="11" fill="#111">气象场起报时间：<tspan letter-spacing="0.4" dx="-1">2025-12-16 20:00 17</tspan>小时</text>
<text class="cj b" x="598" y="738.3" font-size="10.9" text-anchor="middle" fill="#111">污染物监测数据源：中国环境监测总站</text>
<text class="cj b" x="950.8" y="738.3" font-size="10.9" text-anchor="end" fill="#111">制图单位：上海市环境监测中心</text>
<g shape-rendering="crispEdges">
<rect x="993.6" y="701.78" width="21.6" height="8.82" fill="rgb(32,98,0)"/>
<rect x="993.6" y="693.56" width="21.6" height="8.82" fill="rgb(32,119,0)"/>
<rect x="993.6" y="685.34" width="21.6" height="8.82" fill="rgb(31,140,0)"/>
<rect x="993.6" y="677.12" width="21.6" height="8.82" fill="rgb(31,161,0)"/>
<rect x="993.6" y="668.90" width="21.6" height="8.82" fill="rgb(31,182,0)"/>
<rect x="993.6" y="660.68" width="21.6" height="8.82" fill="rgb(31,203,0)"/>
<rect x="993.6" y="652.46" width="21.6" height="8.82" fill="rgb(30,224,0)"/>
<rect x="993.6" y="644.24" width="21.6" height="8.82" fill="rgb(30,245,0)"/>
<rect x="993.6" y="636.02" width="21.6" height="8.82" fill="rgb(44,255,0)"/>
<rect x="993.6" y="627.81" width="21.6" height="8.82" fill="rgb(72,255,0)"/>
<rect x="993.6" y="619.59" width="21.6" height="8.82" fill="rgb(100,255,0)"/>
<rect x="993.6" y="611.37" width="21.6" height="8.82" fill="rgb(128,255,0)"/>
<rect x="993.6" y="603.15" width="21.6" height="8.82" fill="rgb(157,255,0)"/>
<rect x="993.6" y="594.93" width="21.6" height="8.82" fill="rgb(185,255,0)"/>
<rect x="993.6" y="586.71" width="21.6" height="8.82" fill="rgb(213,255,0)"/>
<rect x="993.6" y="578.49" width="21.6" height="8.82" fill="rgb(241,255,0)"/>
<rect x="993.6" y="570.27" width="21.6" height="8.82" fill="rgb(255,253,0)"/>
<rect x="993.6" y="562.05" width="21.6" height="8.82" fill="rgb(255,248,0)"/>
<rect x="993.6" y="553.83" width="21.6" height="8.82" fill="rgb(255,243,0)"/>
<rect x="993.6" y="545.61" width="21.6" height="8.82" fill="rgb(255,239,0)"/>
<rect x="993.6" y="537.39" width="21.6" height="8.82" fill="rgb(255,234,0)"/>
<rect x="993.6" y="529.17" width="21.6" height="8.82" fill="rgb(255,230,0)"/>
<rect x="993.6" y="520.95" width="21.6" height="8.82" fill="rgb(255,225,0)"/>
<rect x="993.6" y="512.73" width="21.6" height="8.82" fill="rgb(255,220,0)"/>
<rect x="993.6" y="504.51" width="21.6" height="8.82" fill="rgb(255,213,0)"/>
<rect x="993.6" y="496.29" width="21.6" height="8.82" fill="rgb(255,203,0)"/>
<rect x="993.6" y="488.08" width="21.6" height="8.82" fill="rgb(255,194,0)"/>
<rect x="993.6" y="479.86" width="21.6" height="8.82" fill="rgb(255,184,0)"/>
<rect x="993.6" y="471.64" width="21.6" height="8.82" fill="rgb(255,174,0)"/>
<rect x="993.6" y="463.42" width="21.6" height="8.82" fill="rgb(255,164,0)"/>
<rect x="993.6" y="455.20" width="21.6" height="8.82" fill="rgb(255,155,0)"/>
<rect x="993.6" y="446.98" width="21.6" height="8.82" fill="rgb(255,145,0)"/>
<rect x="993.6" y="438.76" width="21.6" height="8.82" fill="rgb(254,132,2)"/>
<rect x="993.6" y="430.54" width="21.6" height="8.82" fill="rgb(252,117,6)"/>
<rect x="993.6" y="422.32" width="21.6" height="8.82" fill="rgb(250,102,11)"/>
<rect x="993.6" y="414.10" width="21.6" height="8.82" fill="rgb(248,86,15)"/>
<rect x="993.6" y="405.88" width="21.6" height="8.82" fill="rgb(245,71,19)"/>
<rect x="993.6" y="397.66" width="21.6" height="8.82" fill="rgb(243,55,23)"/>
<rect x="993.6" y="389.44" width="21.6" height="8.82" fill="rgb(241,40,28)"/>
<rect x="993.6" y="381.22" width="21.6" height="8.82" fill="rgb(239,25,32)"/>
<rect x="993.6" y="373.00" width="21.6" height="8.82" fill="rgb(233,17,41)"/>
<rect x="993.6" y="364.78" width="21.6" height="8.82" fill="rgb(223,17,56)"/>
<rect x="993.6" y="356.56" width="21.6" height="8.82" fill="rgb(214,17,70)"/>
<rect x="993.6" y="348.34" width="21.6" height="8.82" fill="rgb(204,17,85)"/>
<rect x="993.6" y="340.13" width="21.6" height="8.82" fill="rgb(194,16,99)"/>
<rect x="993.6" y="331.91" width="21.6" height="8.82" fill="rgb(184,16,114)"/>
<rect x="993.6" y="323.69" width="21.6" height="8.82" fill="rgb(175,16,128)"/>
<rect x="993.6" y="315.47" width="21.6" height="8.82" fill="rgb(165,16,143)"/>
<rect x="993.6" y="307.25" width="21.6" height="8.82" fill="rgb(158,15,148)"/>
<rect x="993.6" y="299.03" width="21.6" height="8.82" fill="rgb(153,13,143)"/>
<rect x="993.6" y="290.81" width="21.6" height="8.82" fill="rgb(148,11,138)"/>
<rect x="993.6" y="282.59" width="21.6" height="8.82" fill="rgb(143,9,133)"/>
<rect x="993.6" y="274.37" width="21.6" height="8.82" fill="rgb(139,7,129)"/>
<rect x="993.6" y="266.15" width="21.6" height="8.82" fill="rgb(134,5,124)"/>
<rect x="993.6" y="257.93" width="21.6" height="8.82" fill="rgb(129,3,119)"/>
<rect x="993.6" y="249.71" width="21.6" height="8.82" fill="rgb(124,1,114)"/>
<rect x="993.6" y="241.49" width="21.6" height="8.82" fill="rgb(117,0,107)"/>
<rect x="993.6" y="233.27" width="21.6" height="8.82" fill="rgb(107,0,98)"/>
<rect x="993.6" y="225.05" width="21.6" height="8.82" fill="rgb(98,0,89)"/>
<rect x="993.6" y="216.83" width="21.6" height="8.82" fill="rgb(88,0,80)"/>
<rect x="993.6" y="208.61" width="21.6" height="8.82" fill="rgb(78,0,70)"/>
<rect x="993.6" y="200.39" width="21.6" height="8.82" fill="rgb(68,0,61)"/>
<rect x="993.6" y="192.18" width="21.6" height="8.82" fill="rgb(59,0,52)"/>
<rect x="993.6" y="183.96" width="21.6" height="8.82" fill="rgb(49,0,43)"/>
<rect x="993.6" y="175.74" width="21.6" height="8.82" fill="rgb(43,0,37)"/>
<rect x="993.6" y="167.52" width="21.6" height="8.82" fill="rgb(41,0,35)"/>
<rect x="993.6" y="159.30" width="21.6" height="8.82" fill="rgb(39,0,34)"/>
<rect x="993.6" y="151.08" width="21.6" height="8.82" fill="rgb(37,0,32)"/>
<rect x="993.6" y="142.86" width="21.6" height="8.82" fill="rgb(35,0,30)"/>
<rect x="993.6" y="134.64" width="21.6" height="8.82" fill="rgb(33,0,28)"/>
<rect x="993.6" y="126.42" width="21.6" height="8.82" fill="rgb(31,0,27)"/>
<rect x="993.6" y="118.20" width="21.6" height="8.82" fill="rgb(29,0,25)"/>
</g>
<path d="M1015.2,710.5h3.6" stroke="#222" stroke-width="1"/>
<text class="cb" transform="translate(1021.6,714.7) scale(0.88,1)">0</text>
<path d="M1015.2,644.5h3.6" stroke="#222" stroke-width="1"/>
<text class="cb" transform="translate(1021.6,648.9) scale(0.88,1)">20</text>
<path d="M1015.2,578.5h3.6" stroke="#222" stroke-width="1"/>
<text class="cb" transform="translate(1021.6,583.2) scale(0.88,1)">35</text>
<path d="M1015.2,512.5h3.6" stroke="#222" stroke-width="1"/>
<text class="cb" transform="translate(1021.6,517.4) scale(0.88,1)">75</text>
<path d="M1015.2,446.5h3.6" stroke="#222" stroke-width="1"/>
<text class="cb" transform="translate(1021.6,451.7) scale(0.88,1)">115</text>
<path d="M1015.2,381.5h3.6" stroke="#222" stroke-width="1"/>
<text class="cb" transform="translate(1021.6,385.9) scale(0.88,1)">130</text>
<path d="M1015.2,315.5h3.6" stroke="#222" stroke-width="1"/>
<text class="cb" transform="translate(1021.6,320.2) scale(0.88,1)">150</text>
<path d="M1015.2,249.5h3.6" stroke="#222" stroke-width="1"/>
<text class="cb" transform="translate(1021.6,254.4) scale(0.88,1)">250</text>
<path d="M1015.2,183.5h3.6" stroke="#222" stroke-width="1"/>
<text class="cb" transform="translate(1021.6,188.7) scale(0.88,1)">500</text>
<text class="cb" x="993.6" y="110" font-size="12.4">μg/m³</text>
</svg></body></html>
